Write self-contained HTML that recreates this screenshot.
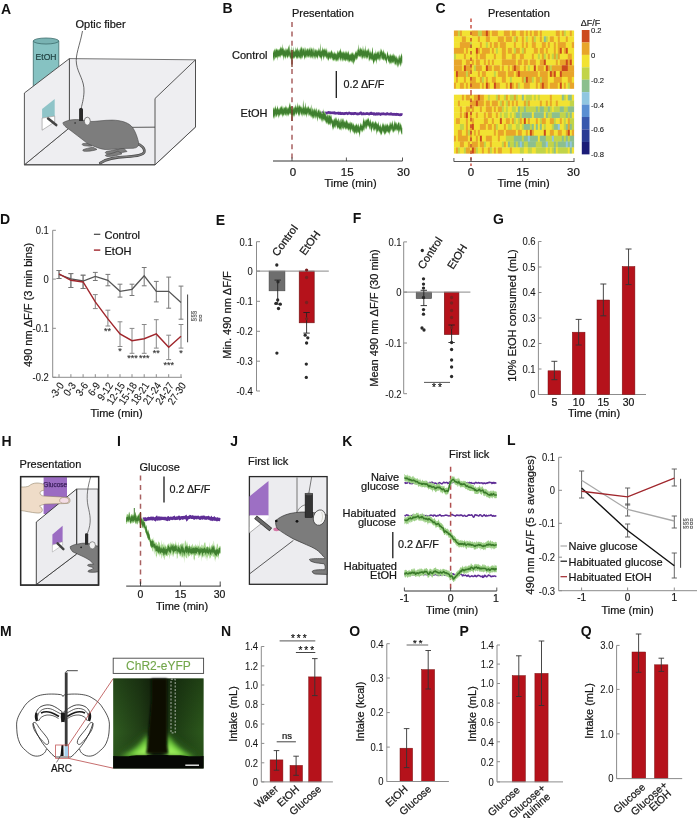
<!DOCTYPE html>
<html><head><meta charset="utf-8"><style>
html,body{margin:0;padding:0;background:#fff;width:697px;height:818px;overflow:hidden}
svg{display:block;font-family:"Liberation Sans",sans-serif;filter:blur(0.3px)}
</style></head><body>
<svg width="697" height="818" viewBox="0 0 697 818">
<rect width="697" height="818" fill="#fff"/>
<text x="1" y="13.5" font-size="14" text-anchor="start" font-weight="bold" fill="#111">A</text>
<text x="75.5" y="27.5" font-size="11" text-anchor="start" font-weight="normal" fill="#161616" stroke="#161616" stroke-width="0.22">Optic fiber</text>
<path d="M33.3,41 L33.3,95 L58.8,95 L58.8,41 Z" fill="#86c2c2" stroke="#3d6d6d" stroke-width="0.8"/>
<ellipse cx="46" cy="41" rx="12.75" ry="3" fill="#79b3b3" stroke="#3d6d6d" stroke-width="0.8"/>
<text x="0" y="0" font-size="9.5" text-anchor="middle" font-weight="normal" fill="#1e3f3f" stroke="#1e3f3f" stroke-width="0.22" transform="translate(46 59.5) scale(0.9 1)">EtOH</text>
<path d="M69.4,58.6 L195.5,59.8 L195.5,127 L69.4,127.8 Z" fill="#eeeef1" stroke="#555" stroke-width="0.8"/>
<path d="M24.4,164.8 L155,164.8 L195.5,127 L69.4,127.8 Z" fill="#eeeef1" stroke="#555" stroke-width="0.8"/>
<path d="M24.4,93 L69.4,58.6 L69.4,127.8 L24.4,164.8 Z" fill="#eeeef1" stroke="#444" stroke-width="0.9"/>
<path d="M42.1,109.1 L54.7,99 L54.7,116.1 L42.1,118.1 Z" fill="#8fc4c8"/>
<path d="M42.1,118.1 L54.7,116.1 L54.7,122 L42.1,130.2 Z" fill="#fff" stroke="#777" stroke-width="0.5"/>
<line x1="48.1" y1="118.6" x2="56.2" y2="125.1" stroke="#444" stroke-width="2.6" stroke-linecap="round"/>
<path d="M82.5,31 C80,45 75,55 76.5,64 C78,74 84.5,80 84,92 C83.6,100 82,104 81.3,108" fill="none" stroke="#444" stroke-width="0.8"/>
<path d="M136,143.5 C142,145 145.2,148.5 144.2,152.3 C143,155.3 136,156.3 127,156.7 C117,157.1 108,157.8 100.2,163.1" fill="none" stroke="#4a4a4a" stroke-width="2.6" stroke-linecap="round"/>
<path d="M136,143.5 C142,145 145.2,148.5 144.2,152.3 C143,155.3 136,156.3 127,156.7 C117,157.1 108,157.8 100.2,163.1" fill="none" stroke="#7d7d7d" stroke-width="1.3" stroke-linecap="round"/>
<path d="M123,147.5 C118,149.5 112,150.5 107,151.3 C104.5,152 105,153.8 108,153.8 C114,153.6 121,153 127,151.5 Z" fill="#7d7d7d" stroke="#4a4a4a" stroke-width="0.6"/>
<path d="M118,151 C114,153 110,154 106.5,154.6 C104.5,155.3 105.5,156.6 108,156.5 C113,156.3 118,155.5 122,153.8 Z" fill="#7d7d7d" stroke="#4a4a4a" stroke-width="0.6"/>
<path d="M90.5,143.8 C87,143.4 84,143.2 82.6,143.7 C81.6,144.6 82.6,145.6 85,145.8 C88,146.1 90.5,146.3 92,146 Z" fill="#7d7d7d" stroke="#4a4a4a" stroke-width="0.6"/>
<path d="M93,147.2 C89,147.8 85,148.8 83,149.8 C82.2,150.9 84,151.6 87,151.3 C91,151 94.5,150.5 97,149.4 Z" fill="#7d7d7d" stroke="#4a4a4a" stroke-width="0.6"/>
<path d="M62.9,122.7 C66,121 69,120 72,119.8 C78,119 84,120 89,121.5 C95,121.8 104,120 112.4,120.1 C120,120.3 127,122 131,125.8 C134.5,129 137,136 138.5,142 C139.5,146 137,148 133,148.3 L122,148.5 C118,149 110,149.5 105,149.5 C100,149 96,147 92,145.5 C89,144.5 86.5,143 85,141.5 C80,137.5 75,134 70,130 C66,127.5 63,125 62.9,122.7 Z" fill="#7d7d7d" stroke="#4a4a4a" stroke-width="0.6"/>
<ellipse cx="87.3" cy="121.2" rx="3" ry="4" fill="#f4f4f4" stroke="#555" stroke-width="0.7"/>
<path d="M79.1,121 L79.1,109.5 C79.1,107.5 83,107.5 83,109.5 L83,121 Z" fill="#2a2a2a"/>
<circle cx="75.1" cy="123" r="0.8" fill="#222"/>
<path d="M155,98.5 L195.5,59.8 L195.5,127 L155,164.8 Z" fill="#eeeef1" stroke="#444" stroke-width="0.9"/>
<line x1="24.4" y1="164.8" x2="155" y2="164.8" stroke="#444" stroke-width="1"/>
<text x="222.5" y="13" font-size="14" text-anchor="start" font-weight="bold" fill="#111">B</text>
<text x="292" y="17" font-size="11" text-anchor="start" font-weight="normal" fill="#161616" stroke="#161616" stroke-width="0.22">Presentation</text>
<text x="267.5" y="59" font-size="11" text-anchor="end" font-weight="normal" fill="#161616" stroke="#161616" stroke-width="0.22">Control</text>
<text x="267.5" y="116.5" font-size="11" text-anchor="end" font-weight="normal" fill="#161616" stroke="#161616" stroke-width="0.22">EtOH</text>
<line x1="292" y1="22" x2="292" y2="160" stroke="#a86060" stroke-width="1.5" stroke-dasharray="5,4.4"/>
<path d="M273.0,49.7 L273.4,50.5 L273.7,52.1 L274.1,51.0 L274.4,48.2 L274.8,49.4 L275.1,47.5 L275.5,50.7 L275.8,49.3 L276.2,48.9 L276.5,47.7 L276.9,48.6 L277.2,49.2 L277.6,49.2 L277.9,48.6 L278.3,49.6 L278.6,49.3 L279.0,49.4 L279.3,47.8 L279.7,49.5 L280.0,48.4 L280.4,45.5 L280.7,47.0 L281.1,48.9 L281.4,47.0 L281.8,46.7 L282.1,47.6 L282.5,48.1 L282.8,42.9 L283.2,48.8 L283.5,46.9 L283.9,49.8 L284.2,48.6 L284.6,49.2 L284.9,50.4 L285.3,46.9 L285.6,49.7 L286.0,50.6 L286.3,49.1 L286.7,47.7 L287.0,49.3 L287.4,47.9 L287.7,48.3 L288.1,49.7 L288.4,45.4 L288.8,46.7 L289.1,43.4 L289.5,47.5 L289.8,51.1 L290.2,48.4 L290.5,51.0 L290.9,51.7 L291.2,51.8 L291.6,49.2 L291.9,44.6 L292.3,50.9 L292.6,50.6 L293.0,51.7 L293.3,45.8 L293.7,49.8 L294.0,50.2 L294.4,50.5 L294.7,51.1 L295.1,50.1 L295.4,50.3 L295.8,46.0 L296.1,49.2 L296.5,49.4 L296.8,48.0 L297.2,47.7 L297.5,46.3 L297.9,50.6 L298.2,49.5 L298.6,49.1 L298.9,50.2 L299.3,51.5 L299.6,48.8 L300.0,48.2 L300.3,49.4 L300.7,47.4 L301.0,46.1 L301.4,48.0 L301.7,45.4 L302.1,48.4 L302.4,50.6 L302.8,46.6 L303.1,48.5 L303.5,48.1 L303.8,47.3 L304.2,48.7 L304.5,51.3 L304.9,46.4 L305.2,47.1 L305.6,49.0 L305.9,50.4 L306.3,49.8 L306.6,48.1 L307.0,49.8 L307.3,47.8 L307.7,47.9 L308.0,48.2 L308.4,48.2 L308.7,50.2 L309.1,48.9 L309.4,48.4 L309.8,47.3 L310.1,46.2 L310.5,49.1 L310.8,50.6 L311.2,47.7 L311.5,47.2 L311.9,47.7 L312.2,51.3 L312.6,47.2 L312.9,48.8 L313.3,46.2 L313.6,50.1 L314.0,52.1 L314.3,51.0 L314.7,48.6 L315.0,48.0 L315.4,49.5 L315.7,49.2 L316.1,49.5 L316.4,48.5 L316.8,50.5 L317.1,50.3 L317.5,50.2 L317.8,49.3 L318.2,50.1 L318.5,49.0 L318.9,46.9 L319.2,48.9 L319.6,50.2 L319.9,48.0 L320.3,42.0 L320.6,50.6 L321.0,50.4 L321.3,50.3 L321.7,49.8 L322.0,49.8 L322.4,48.6 L322.7,46.0 L323.1,48.9 L323.4,48.3 L323.8,49.6 L324.1,48.8 L324.5,49.3 L324.8,47.4 L325.2,48.1 L325.5,49.4 L325.9,49.8 L326.2,50.5 L326.6,48.9 L326.9,47.0 L327.3,51.2 L327.6,52.3 L328.0,52.4 L328.3,52.3 L328.7,51.1 L329.0,50.6 L329.4,51.6 L329.7,51.7 L330.1,52.2 L330.4,51.2 L330.8,51.6 L331.1,49.7 L331.5,50.6 L331.8,49.5 L332.2,51.4 L332.5,51.5 L332.9,52.7 L333.2,53.4 L333.6,52.6 L333.9,51.7 L334.3,50.9 L334.6,52.9 L335.0,52.3 L335.3,53.1 L335.7,52.8 L336.0,52.4 L336.4,54.3 L336.7,52.6 L337.1,53.2 L337.4,51.2 L337.8,49.7 L338.1,50.5 L338.5,51.7 L338.8,52.1 L339.2,51.4 L339.5,50.0 L339.9,50.1 L340.2,49.5 L340.6,47.5 L340.9,49.5 L341.3,51.4 L341.6,51.3 L342.0,52.3 L342.3,51.9 L342.7,50.8 L343.0,52.7 L343.4,50.5 L343.7,50.5 L344.1,52.9 L344.4,51.2 L344.8,51.8 L345.1,53.2 L345.5,49.9 L345.8,52.3 L346.2,50.1 L346.5,52.5 L346.9,51.6 L347.2,51.7 L347.6,53.3 L347.9,51.1 L348.3,50.3 L348.6,51.3 L349.0,53.3 L349.3,54.2 L349.7,53.6 L350.0,53.7 L350.4,52.9 L350.7,54.2 L351.1,52.6 L351.4,52.1 L351.8,53.8 L352.1,52.4 L352.5,52.9 L352.8,51.4 L353.2,52.2 L353.5,54.0 L353.9,53.6 L354.2,54.5 L354.6,53.2 L354.9,53.0 L355.3,50.2 L355.6,51.4 L356.0,52.5 L356.3,49.5 L356.7,51.8 L357.0,51.8 L357.4,50.7 L357.7,48.4 L358.1,48.7 L358.4,48.9 L358.8,43.0 L359.1,48.8 L359.5,50.1 L359.8,47.6 L360.2,47.7 L360.5,46.4 L360.9,49.0 L361.2,48.4 L361.6,48.0 L361.9,48.8 L362.3,50.2 L362.6,49.6 L363.0,44.5 L363.3,49.2 L363.7,49.8 L364.0,47.6 L364.4,49.2 L364.7,50.2 L365.1,50.3 L365.4,44.0 L365.8,49.6 L366.1,49.3 L366.5,50.2 L366.8,50.4 L367.2,49.3 L367.5,50.2 L367.9,48.6 L368.2,47.4 L368.6,49.0 L368.9,50.0 L369.3,51.7 L369.6,52.3 L370.0,47.7 L370.3,51.8 L370.7,51.1 L371.0,52.5 L371.4,52.5 L371.7,51.2 L372.1,51.1 L372.4,47.3 L372.8,46.9 L373.1,52.0 L373.5,54.6 L373.8,53.6 L374.2,52.9 L374.5,52.4 L374.9,52.2 L375.2,52.8 L375.6,52.6 L375.9,49.1 L376.3,53.0 L376.6,52.7 L377.0,52.4 L377.3,50.5 L377.7,51.6 L378.0,52.5 L378.4,50.2 L378.7,50.7 L379.1,53.9 L379.4,53.7 L379.8,50.0 L380.1,50.9 L380.5,51.3 L380.8,47.9 L381.2,48.7 L381.5,49.1 L381.9,50.4 L382.2,51.2 L382.6,51.7 L382.9,50.4 L383.3,52.0 L383.6,48.6 L384.0,50.4 L384.3,52.3 L384.7,52.6 L385.0,53.8 L385.4,53.2 L385.7,52.7 L386.1,53.1 L386.4,55.7 L386.8,56.5 L387.1,52.1 L387.5,51.0 L387.8,51.6 L388.2,54.2 L388.5,54.9 L388.9,54.8 L389.2,56.0 L389.6,54.6 L389.9,54.1 L390.3,52.9 L390.6,54.9 L391.0,54.2 L391.3,55.6 L391.7,54.6 L392.0,55.1 L392.4,54.4 L392.7,54.8 L393.1,52.4 L393.4,53.9 L393.8,55.5 L394.1,53.7 L394.5,55.0 L394.8,55.5 L395.2,54.8 L395.5,56.7 L395.9,56.2 L396.2,57.9 L396.6,55.4 L396.9,55.2 L397.3,57.5 L397.6,58.0 L398.0,58.6 L398.3,58.8 L398.7,56.2 L399.0,54.4 L399.4,54.2 L399.7,57.3 L400.1,56.6 L400.4,57.4 L400.8,54.9 L401.1,54.6 L401.5,53.6 L401.8,52.6 L402.2,55.8 L402.2,63.9 L401.8,64.1 L401.5,62.0 L401.1,66.5 L400.8,64.1 L400.4,67.0 L400.1,67.0 L399.7,64.6 L399.4,64.6 L399.0,62.8 L398.7,65.5 L398.3,66.8 L398.0,68.3 L397.6,67.1 L397.3,64.9 L396.9,62.6 L396.6,64.2 L396.2,66.4 L395.9,65.2 L395.5,65.4 L395.2,64.5 L394.8,65.7 L394.5,63.2 L394.1,61.6 L393.8,63.6 L393.4,63.8 L393.1,62.0 L392.7,64.1 L392.4,63.1 L392.0,62.7 L391.7,62.4 L391.3,64.5 L391.0,64.5 L390.6,64.0 L390.3,63.7 L389.9,62.2 L389.6,63.2 L389.2,65.2 L388.9,62.2 L388.5,62.8 L388.2,62.1 L387.8,60.2 L387.5,59.0 L387.1,60.4 L386.8,63.9 L386.4,64.5 L386.1,60.8 L385.7,61.6 L385.4,60.4 L385.0,62.1 L384.7,59.8 L384.3,59.9 L384.0,59.1 L383.6,61.1 L383.3,61.1 L382.9,59.2 L382.6,60.1 L382.2,60.0 L381.9,59.9 L381.5,58.9 L381.2,56.3 L380.8,57.5 L380.5,59.2 L380.1,61.2 L379.8,58.4 L379.4,60.8 L379.1,62.3 L378.7,58.8 L378.4,60.7 L378.0,59.4 L377.7,59.8 L377.3,60.3 L377.0,60.3 L376.6,61.9 L376.3,65.0 L375.9,60.4 L375.6,61.2 L375.2,60.9 L374.9,63.2 L374.5,61.3 L374.2,61.4 L373.8,65.3 L373.5,63.8 L373.1,63.5 L372.8,60.9 L372.4,60.7 L372.1,60.1 L371.7,59.7 L371.4,61.3 L371.0,60.3 L370.7,60.4 L370.3,59.3 L370.0,59.9 L369.6,62.1 L369.3,59.7 L368.9,61.9 L368.6,56.5 L368.2,56.4 L367.9,59.5 L367.5,57.9 L367.2,58.7 L366.8,60.1 L366.5,58.0 L366.1,58.3 L365.8,59.1 L365.4,57.4 L365.1,56.8 L364.7,57.2 L364.4,59.5 L364.0,59.1 L363.7,58.6 L363.3,56.6 L363.0,57.6 L362.6,58.6 L362.3,60.8 L361.9,56.7 L361.6,56.1 L361.2,60.2 L360.9,56.2 L360.5,58.3 L360.2,57.1 L359.8,57.1 L359.5,57.0 L359.1,57.4 L358.8,56.5 L358.4,56.4 L358.1,57.4 L357.7,57.1 L357.4,59.6 L357.0,59.5 L356.7,60.0 L356.3,59.4 L356.0,61.2 L355.6,59.8 L355.3,58.4 L354.9,61.4 L354.6,61.9 L354.2,62.6 L353.9,65.0 L353.5,64.5 L353.2,62.0 L352.8,60.8 L352.5,63.2 L352.1,63.6 L351.8,61.6 L351.4,62.9 L351.1,61.1 L350.7,62.3 L350.4,61.1 L350.0,61.8 L349.7,62.5 L349.3,62.0 L349.0,63.5 L348.6,61.9 L348.3,60.8 L347.9,60.4 L347.6,62.2 L347.2,60.7 L346.9,60.3 L346.5,61.0 L346.2,60.8 L345.8,60.5 L345.5,62.1 L345.1,61.6 L344.8,60.8 L344.4,60.6 L344.1,61.0 L343.7,61.2 L343.4,58.8 L343.0,62.2 L342.7,59.1 L342.3,61.7 L342.0,62.1 L341.6,59.5 L341.3,58.6 L340.9,59.9 L340.6,62.0 L340.2,60.8 L339.9,57.9 L339.5,58.4 L339.2,60.2 L338.8,62.2 L338.5,59.2 L338.1,59.9 L337.8,62.2 L337.4,60.4 L337.1,60.7 L336.7,60.9 L336.4,62.0 L336.0,61.7 L335.7,61.8 L335.3,59.7 L335.0,60.2 L334.6,61.5 L334.3,60.0 L333.9,60.8 L333.6,61.4 L333.2,60.7 L332.9,61.5 L332.5,59.8 L332.2,58.9 L331.8,59.7 L331.5,57.6 L331.1,58.9 L330.8,60.3 L330.4,58.9 L330.1,58.8 L329.7,58.9 L329.4,58.5 L329.0,59.4 L328.7,60.5 L328.3,61.5 L328.0,60.8 L327.6,59.9 L327.3,58.3 L326.9,57.4 L326.6,58.9 L326.2,59.3 L325.9,58.0 L325.5,57.1 L325.2,57.0 L324.8,56.8 L324.5,57.2 L324.1,58.7 L323.8,58.4 L323.4,61.1 L323.1,56.7 L322.7,56.6 L322.4,57.0 L322.0,58.1 L321.7,62.6 L321.3,58.6 L321.0,58.8 L320.6,57.9 L320.3,59.3 L319.9,57.5 L319.6,57.4 L319.2,58.0 L318.9,55.9 L318.5,56.1 L318.2,57.0 L317.8,59.2 L317.5,59.7 L317.1,57.6 L316.8,58.3 L316.4,57.1 L316.1,58.3 L315.7,60.3 L315.4,56.7 L315.0,57.5 L314.7,57.1 L314.3,58.6 L314.0,60.5 L313.6,56.7 L313.3,56.9 L312.9,56.7 L312.6,57.9 L312.2,59.4 L311.9,58.7 L311.5,57.3 L311.2,57.6 L310.8,57.7 L310.5,59.5 L310.1,56.5 L309.8,56.0 L309.4,58.6 L309.1,56.8 L308.7,57.8 L308.4,57.7 L308.0,57.7 L307.7,57.9 L307.3,56.8 L307.0,56.5 L306.6,56.5 L306.3,58.3 L305.9,59.1 L305.6,57.5 L305.2,57.9 L304.9,58.0 L304.5,60.6 L304.2,58.7 L303.8,56.6 L303.5,55.9 L303.1,56.3 L302.8,57.1 L302.4,59.1 L302.1,58.3 L301.7,60.0 L301.4,57.9 L301.0,56.8 L300.7,59.2 L300.3,59.5 L300.0,59.6 L299.6,57.6 L299.3,58.3 L298.9,59.2 L298.6,57.3 L298.2,57.5 L297.9,59.3 L297.5,58.0 L297.2,59.6 L296.8,58.2 L296.5,59.8 L296.1,57.9 L295.8,57.1 L295.4,57.6 L295.1,57.2 L294.7,58.6 L294.4,59.1 L294.0,57.7 L293.7,59.2 L293.3,58.8 L293.0,59.3 L292.6,59.1 L292.3,59.4 L291.9,60.1 L291.6,58.6 L291.2,62.0 L290.9,59.4 L290.5,58.4 L290.2,59.2 L289.8,58.0 L289.5,57.1 L289.1,55.5 L288.8,57.4 L288.4,56.4 L288.1,57.9 L287.7,58.2 L287.4,59.1 L287.0,57.8 L286.7,56.2 L286.3,56.9 L286.0,58.4 L285.6,59.8 L285.3,57.4 L284.9,59.0 L284.6,56.6 L284.2,57.6 L283.9,57.2 L283.5,61.5 L283.2,57.2 L282.8,55.5 L282.5,57.2 L282.1,55.6 L281.8,56.0 L281.4,56.1 L281.1,56.2 L280.7,58.9 L280.4,56.0 L280.0,57.2 L279.7,57.8 L279.3,56.8 L279.0,57.2 L278.6,57.6 L278.3,57.7 L277.9,56.7 L277.6,61.5 L277.2,57.3 L276.9,58.1 L276.5,58.2 L276.2,57.6 L275.8,59.1 L275.5,58.5 L275.1,58.1 L274.8,56.8 L274.4,61.0 L274.1,60.3 L273.7,61.9 L273.4,58.6 L273.0,58.7 Z" fill="#9fd08a" stroke="none"/>
<path d="M273.0,50.9 L273.4,51.7 L273.7,53.3 L274.1,52.2 L274.4,49.4 L274.8,50.6 L275.1,48.7 L275.5,51.9 L275.8,50.5 L276.2,50.1 L276.5,48.9 L276.9,49.8 L277.2,50.4 L277.6,50.4 L277.9,49.8 L278.3,50.8 L278.6,50.5 L279.0,50.6 L279.3,49.0 L279.7,50.7 L280.0,49.6 L280.4,46.7 L280.7,48.2 L281.1,50.1 L281.4,48.2 L281.8,47.9 L282.1,48.8 L282.5,49.3 L282.8,44.1 L283.2,50.0 L283.5,48.1 L283.9,51.0 L284.2,49.8 L284.6,50.4 L284.9,51.6 L285.3,48.1 L285.6,50.9 L286.0,51.8 L286.3,50.3 L286.7,48.9 L287.0,50.5 L287.4,49.1 L287.7,49.5 L288.1,50.9 L288.4,46.6 L288.8,47.9 L289.1,44.6 L289.5,48.7 L289.8,52.3 L290.2,49.6 L290.5,52.2 L290.9,52.9 L291.2,53.0 L291.6,50.4 L291.9,45.8 L292.3,52.1 L292.6,51.8 L293.0,52.9 L293.3,47.0 L293.7,51.0 L294.0,51.4 L294.4,51.7 L294.7,52.3 L295.1,51.3 L295.4,51.5 L295.8,47.2 L296.1,50.4 L296.5,50.6 L296.8,49.2 L297.2,48.9 L297.5,47.5 L297.9,51.8 L298.2,50.7 L298.6,50.3 L298.9,51.4 L299.3,52.7 L299.6,50.0 L300.0,49.4 L300.3,50.6 L300.7,48.6 L301.0,47.3 L301.4,49.2 L301.7,46.6 L302.1,49.6 L302.4,51.8 L302.8,47.8 L303.1,49.7 L303.5,49.3 L303.8,48.5 L304.2,49.9 L304.5,52.5 L304.9,47.6 L305.2,48.3 L305.6,50.2 L305.9,51.6 L306.3,51.0 L306.6,49.3 L307.0,51.0 L307.3,49.0 L307.7,49.1 L308.0,49.4 L308.4,49.4 L308.7,51.4 L309.1,50.1 L309.4,49.6 L309.8,48.5 L310.1,47.4 L310.5,50.3 L310.8,51.8 L311.2,48.9 L311.5,48.4 L311.9,48.9 L312.2,52.5 L312.6,48.4 L312.9,50.0 L313.3,47.4 L313.6,51.3 L314.0,53.3 L314.3,52.2 L314.7,49.8 L315.0,49.2 L315.4,50.7 L315.7,50.4 L316.1,50.7 L316.4,49.7 L316.8,51.7 L317.1,51.5 L317.5,51.4 L317.8,50.5 L318.2,51.3 L318.5,50.2 L318.9,48.1 L319.2,50.1 L319.6,51.4 L319.9,49.2 L320.3,43.2 L320.6,51.8 L321.0,51.6 L321.3,51.5 L321.7,51.0 L322.0,51.0 L322.4,49.8 L322.7,47.2 L323.1,50.1 L323.4,49.5 L323.8,50.8 L324.1,50.0 L324.5,50.5 L324.8,48.6 L325.2,49.3 L325.5,50.6 L325.9,51.0 L326.2,51.7 L326.6,50.1 L326.9,48.2 L327.3,52.4 L327.6,53.5 L328.0,53.6 L328.3,53.5 L328.7,52.3 L329.0,51.8 L329.4,52.8 L329.7,52.9 L330.1,53.4 L330.4,52.4 L330.8,52.8 L331.1,50.9 L331.5,51.8 L331.8,50.7 L332.2,52.6 L332.5,52.7 L332.9,53.9 L333.2,54.6 L333.6,53.8 L333.9,52.9 L334.3,52.1 L334.6,54.1 L335.0,53.5 L335.3,54.3 L335.7,54.0 L336.0,53.6 L336.4,55.5 L336.7,53.8 L337.1,54.4 L337.4,52.4 L337.8,50.9 L338.1,51.7 L338.5,52.9 L338.8,53.3 L339.2,52.6 L339.5,51.2 L339.9,51.3 L340.2,50.7 L340.6,48.7 L340.9,50.7 L341.3,52.6 L341.6,52.5 L342.0,53.5 L342.3,53.1 L342.7,52.0 L343.0,53.9 L343.4,51.7 L343.7,51.7 L344.1,54.1 L344.4,52.4 L344.8,53.0 L345.1,54.4 L345.5,51.1 L345.8,53.5 L346.2,51.3 L346.5,53.7 L346.9,52.8 L347.2,52.9 L347.6,54.5 L347.9,52.3 L348.3,51.5 L348.6,52.5 L349.0,54.5 L349.3,55.4 L349.7,54.8 L350.0,54.9 L350.4,54.1 L350.7,55.4 L351.1,53.8 L351.4,53.3 L351.8,55.0 L352.1,53.6 L352.5,54.1 L352.8,52.6 L353.2,53.4 L353.5,55.2 L353.9,54.8 L354.2,55.7 L354.6,54.4 L354.9,54.2 L355.3,51.4 L355.6,52.6 L356.0,53.7 L356.3,50.7 L356.7,53.0 L357.0,53.0 L357.4,51.9 L357.7,49.6 L358.1,49.9 L358.4,50.1 L358.8,44.2 L359.1,50.0 L359.5,51.3 L359.8,48.8 L360.2,48.9 L360.5,47.6 L360.9,50.2 L361.2,49.6 L361.6,49.2 L361.9,50.0 L362.3,51.4 L362.6,50.8 L363.0,45.7 L363.3,50.4 L363.7,51.0 L364.0,48.8 L364.4,50.4 L364.7,51.4 L365.1,51.5 L365.4,45.2 L365.8,50.8 L366.1,50.5 L366.5,51.4 L366.8,51.6 L367.2,50.5 L367.5,51.4 L367.9,49.8 L368.2,48.6 L368.6,50.2 L368.9,51.2 L369.3,52.9 L369.6,53.5 L370.0,48.9 L370.3,53.0 L370.7,52.3 L371.0,53.7 L371.4,53.7 L371.7,52.4 L372.1,52.3 L372.4,48.5 L372.8,48.1 L373.1,53.2 L373.5,55.8 L373.8,54.8 L374.2,54.1 L374.5,53.6 L374.9,53.4 L375.2,54.0 L375.6,53.8 L375.9,50.3 L376.3,54.2 L376.6,53.9 L377.0,53.6 L377.3,51.7 L377.7,52.8 L378.0,53.7 L378.4,51.4 L378.7,51.9 L379.1,55.1 L379.4,54.9 L379.8,51.2 L380.1,52.1 L380.5,52.5 L380.8,49.1 L381.2,49.9 L381.5,50.3 L381.9,51.6 L382.2,52.4 L382.6,52.9 L382.9,51.6 L383.3,53.2 L383.6,49.8 L384.0,51.6 L384.3,53.5 L384.7,53.8 L385.0,55.0 L385.4,54.4 L385.7,53.9 L386.1,54.3 L386.4,56.9 L386.8,57.7 L387.1,53.3 L387.5,52.2 L387.8,52.8 L388.2,55.4 L388.5,56.1 L388.9,56.0 L389.2,57.2 L389.6,55.8 L389.9,55.3 L390.3,54.1 L390.6,56.1 L391.0,55.4 L391.3,56.8 L391.7,55.8 L392.0,56.3 L392.4,55.6 L392.7,56.0 L393.1,53.6 L393.4,55.1 L393.8,56.7 L394.1,54.9 L394.5,56.2 L394.8,56.7 L395.2,56.0 L395.5,57.9 L395.9,57.4 L396.2,59.1 L396.6,56.6 L396.9,56.4 L397.3,58.7 L397.6,59.2 L398.0,59.8 L398.3,60.0 L398.7,57.4 L399.0,55.6 L399.4,55.4 L399.7,58.5 L400.1,57.8 L400.4,58.6 L400.8,56.1 L401.1,55.8 L401.5,54.8 L401.8,53.8 L402.2,57.0 L402.2,62.7 L401.8,62.9 L401.5,60.8 L401.1,65.3 L400.8,62.9 L400.4,65.8 L400.1,65.8 L399.7,63.4 L399.4,63.4 L399.0,61.6 L398.7,64.3 L398.3,65.6 L398.0,67.1 L397.6,65.9 L397.3,63.7 L396.9,61.4 L396.6,63.0 L396.2,65.2 L395.9,64.0 L395.5,64.2 L395.2,63.3 L394.8,64.5 L394.5,62.0 L394.1,60.4 L393.8,62.4 L393.4,62.6 L393.1,60.8 L392.7,62.9 L392.4,61.9 L392.0,61.5 L391.7,61.2 L391.3,63.3 L391.0,63.3 L390.6,62.8 L390.3,62.5 L389.9,61.0 L389.6,62.0 L389.2,64.0 L388.9,61.0 L388.5,61.6 L388.2,60.9 L387.8,59.0 L387.5,57.8 L387.1,59.2 L386.8,62.7 L386.4,63.3 L386.1,59.6 L385.7,60.4 L385.4,59.2 L385.0,60.9 L384.7,58.6 L384.3,58.7 L384.0,57.9 L383.6,59.9 L383.3,59.9 L382.9,58.0 L382.6,58.9 L382.2,58.8 L381.9,58.7 L381.5,57.7 L381.2,55.1 L380.8,56.3 L380.5,58.0 L380.1,60.0 L379.8,57.2 L379.4,59.6 L379.1,61.1 L378.7,57.6 L378.4,59.5 L378.0,58.2 L377.7,58.6 L377.3,59.1 L377.0,59.1 L376.6,60.7 L376.3,63.8 L375.9,59.2 L375.6,60.0 L375.2,59.7 L374.9,62.0 L374.5,60.1 L374.2,60.2 L373.8,64.1 L373.5,62.6 L373.1,62.3 L372.8,59.7 L372.4,59.5 L372.1,58.9 L371.7,58.5 L371.4,60.1 L371.0,59.1 L370.7,59.2 L370.3,58.1 L370.0,58.7 L369.6,60.9 L369.3,58.5 L368.9,60.7 L368.6,55.3 L368.2,55.2 L367.9,58.3 L367.5,56.7 L367.2,57.5 L366.8,58.9 L366.5,56.8 L366.1,57.1 L365.8,57.9 L365.4,56.2 L365.1,55.6 L364.7,56.0 L364.4,58.3 L364.0,57.9 L363.7,57.4 L363.3,55.4 L363.0,56.4 L362.6,57.4 L362.3,59.6 L361.9,55.5 L361.6,54.9 L361.2,59.0 L360.9,55.0 L360.5,57.1 L360.2,55.9 L359.8,55.9 L359.5,55.8 L359.1,56.2 L358.8,55.3 L358.4,55.2 L358.1,56.2 L357.7,55.9 L357.4,58.4 L357.0,58.3 L356.7,58.8 L356.3,58.2 L356.0,60.0 L355.6,58.6 L355.3,57.2 L354.9,60.2 L354.6,60.7 L354.2,61.4 L353.9,63.8 L353.5,63.3 L353.2,60.8 L352.8,59.6 L352.5,62.0 L352.1,62.4 L351.8,60.4 L351.4,61.7 L351.1,59.9 L350.7,61.1 L350.4,59.9 L350.0,60.6 L349.7,61.3 L349.3,60.8 L349.0,62.3 L348.6,60.7 L348.3,59.6 L347.9,59.2 L347.6,61.0 L347.2,59.5 L346.9,59.1 L346.5,59.8 L346.2,59.6 L345.8,59.3 L345.5,60.9 L345.1,60.4 L344.8,59.6 L344.4,59.4 L344.1,59.8 L343.7,60.0 L343.4,57.6 L343.0,61.0 L342.7,57.9 L342.3,60.5 L342.0,60.9 L341.6,58.3 L341.3,57.4 L340.9,58.7 L340.6,60.8 L340.2,59.6 L339.9,56.7 L339.5,57.2 L339.2,59.0 L338.8,61.0 L338.5,58.0 L338.1,58.7 L337.8,61.0 L337.4,59.2 L337.1,59.5 L336.7,59.7 L336.4,60.8 L336.0,60.5 L335.7,60.6 L335.3,58.5 L335.0,59.0 L334.6,60.3 L334.3,58.8 L333.9,59.6 L333.6,60.2 L333.2,59.5 L332.9,60.3 L332.5,58.6 L332.2,57.7 L331.8,58.5 L331.5,56.4 L331.1,57.7 L330.8,59.1 L330.4,57.7 L330.1,57.6 L329.7,57.7 L329.4,57.3 L329.0,58.2 L328.7,59.3 L328.3,60.3 L328.0,59.6 L327.6,58.7 L327.3,57.1 L326.9,56.2 L326.6,57.7 L326.2,58.1 L325.9,56.8 L325.5,55.9 L325.2,55.8 L324.8,55.6 L324.5,56.0 L324.1,57.5 L323.8,57.2 L323.4,59.9 L323.1,55.5 L322.7,55.4 L322.4,55.8 L322.0,56.9 L321.7,61.4 L321.3,57.4 L321.0,57.6 L320.6,56.7 L320.3,58.1 L319.9,56.3 L319.6,56.2 L319.2,56.8 L318.9,54.7 L318.5,54.9 L318.2,55.8 L317.8,58.0 L317.5,58.5 L317.1,56.4 L316.8,57.1 L316.4,55.9 L316.1,57.1 L315.7,59.1 L315.4,55.5 L315.0,56.3 L314.7,55.9 L314.3,57.4 L314.0,59.3 L313.6,55.5 L313.3,55.7 L312.9,55.5 L312.6,56.7 L312.2,58.2 L311.9,57.5 L311.5,56.1 L311.2,56.4 L310.8,56.5 L310.5,58.3 L310.1,55.3 L309.8,54.8 L309.4,57.4 L309.1,55.6 L308.7,56.6 L308.4,56.5 L308.0,56.5 L307.7,56.7 L307.3,55.6 L307.0,55.3 L306.6,55.3 L306.3,57.1 L305.9,57.9 L305.6,56.3 L305.2,56.7 L304.9,56.8 L304.5,59.4 L304.2,57.5 L303.8,55.4 L303.5,54.7 L303.1,55.1 L302.8,55.9 L302.4,57.9 L302.1,57.1 L301.7,58.8 L301.4,56.7 L301.0,55.6 L300.7,58.0 L300.3,58.3 L300.0,58.4 L299.6,56.4 L299.3,57.1 L298.9,58.0 L298.6,56.1 L298.2,56.3 L297.9,58.1 L297.5,56.8 L297.2,58.4 L296.8,57.0 L296.5,58.6 L296.1,56.7 L295.8,55.9 L295.4,56.4 L295.1,56.0 L294.7,57.4 L294.4,57.9 L294.0,56.5 L293.7,58.0 L293.3,57.6 L293.0,58.1 L292.6,57.9 L292.3,58.2 L291.9,58.9 L291.6,57.4 L291.2,60.8 L290.9,58.2 L290.5,57.2 L290.2,58.0 L289.8,56.8 L289.5,55.9 L289.1,54.3 L288.8,56.2 L288.4,55.2 L288.1,56.7 L287.7,57.0 L287.4,57.9 L287.0,56.6 L286.7,55.0 L286.3,55.7 L286.0,57.2 L285.6,58.6 L285.3,56.2 L284.9,57.8 L284.6,55.4 L284.2,56.4 L283.9,56.0 L283.5,60.3 L283.2,56.0 L282.8,54.3 L282.5,56.0 L282.1,54.4 L281.8,54.8 L281.4,54.9 L281.1,55.0 L280.7,57.7 L280.4,54.8 L280.0,56.0 L279.7,56.6 L279.3,55.6 L279.0,56.0 L278.6,56.4 L278.3,56.5 L277.9,55.5 L277.6,60.3 L277.2,56.1 L276.9,56.9 L276.5,57.0 L276.2,56.4 L275.8,57.9 L275.5,57.3 L275.1,56.9 L274.8,55.6 L274.4,59.8 L274.1,59.1 L273.7,60.7 L273.4,57.4 L273.0,57.5 Z" fill="#3f7f2f" stroke="none"/>
<line x1="292" y1="50" x2="292" y2="67" stroke="#7a3a2a" stroke-width="1.3"/>
<path d="M321.2,113.0 L321.6,113.0 L322.0,112.9 L322.4,112.8 L322.8,112.6 L323.2,112.7 L323.6,113.0 L324.0,113.0 L324.4,113.1 L324.8,113.2 L325.2,113.0 L325.6,113.1 L326.0,113.1 L326.4,113.0 L326.8,113.1 L327.2,112.9 L327.6,112.9 L328.0,112.7 L328.4,112.4 L328.8,112.3 L329.2,112.4 L329.6,112.5 L330.0,112.7 L330.4,113.0 L330.8,113.0 L331.2,112.8 L331.6,112.7 L332.0,112.7 L332.4,112.8 L332.8,112.9 L333.2,112.9 L333.6,112.8 L334.0,112.7 L334.4,113.1 L334.8,113.0 L335.2,113.2 L335.6,113.4 L336.0,113.2 L336.4,113.3 L336.8,113.3 L337.2,113.2 L337.6,113.1 L338.0,113.2 L338.4,113.4 L338.8,113.1 L339.2,113.4 L339.6,113.4 L340.0,113.2 L340.4,113.7 L340.8,113.7 L341.2,113.5 L341.6,113.6 L342.0,113.4 L342.4,113.3 L342.8,113.6 L343.2,113.5 L343.6,113.6 L344.0,113.8 L344.4,113.6 L344.8,113.7 L345.2,113.5 L345.6,113.3 L346.0,113.2 L346.4,113.1 L346.8,113.2 L347.2,113.3 L347.6,113.7 L348.0,113.6 L348.4,113.5 L348.8,113.4 L349.2,113.0 L349.6,113.1 L350.0,113.2 L350.4,113.3 L350.8,113.7 L351.2,113.8 L351.6,113.7 L352.0,113.5 L352.4,113.6 L352.8,113.6 L353.2,113.7 L353.6,113.8 L354.0,113.5 L354.4,113.6 L354.8,113.4 L355.2,113.4 L355.6,113.4 L356.0,113.6 L356.4,113.8 L356.8,113.8 L357.2,114.0 L357.6,113.8 L358.0,113.9 L358.4,113.9 L358.8,113.9 L359.2,113.7 L359.6,113.6 L360.0,113.4 L360.4,113.0 L360.8,113.2 L361.2,113.0 L361.6,113.3 L362.0,113.9 L362.4,113.8 L362.8,113.9 L363.2,113.9 L363.6,113.6 L364.0,113.8 L364.4,113.8 L364.8,113.9 L365.2,113.9 L365.6,113.8 L366.0,113.8 L366.4,113.7 L366.8,113.5 L367.2,113.7 L367.6,113.6 L368.0,113.7 L368.4,113.9 L368.8,113.9 L369.2,114.0 L369.6,113.8 L370.0,113.5 L370.4,113.3 L370.8,113.5 L371.2,113.2 L371.6,113.6 L372.0,113.5 L372.4,113.6 L372.8,113.8 L373.2,113.8 L373.6,114.1 L374.0,113.7 L374.4,114.1 L374.8,114.2 L375.2,114.1 L375.6,114.3 L376.0,114.1 L376.4,113.8 L376.8,114.0 L377.2,113.9 L377.6,113.9 L378.0,114.0 L378.4,113.7 L378.8,113.6 L379.2,113.8 L379.6,113.9 L380.0,114.2 L380.4,114.4 L380.8,114.1 L381.2,114.1 L381.6,113.9 L382.0,113.9 L382.4,113.9 L382.8,113.9 L383.2,113.8 L383.6,113.7 L384.0,114.0 L384.4,114.0 L384.8,114.0 L385.2,114.2 L385.6,114.2 L386.0,114.1 L386.4,114.2 L386.8,114.0 L387.2,113.6 L387.6,113.9 L388.0,114.0 L388.4,114.1 L388.8,114.2 L389.2,114.2 L389.6,114.1 L390.0,114.1 L390.4,114.0 L390.8,113.8 L391.2,114.1 L391.6,114.0 L392.0,114.3 L392.4,114.4 L392.8,114.2 L393.2,114.2 L393.6,114.3 L394.0,114.2 L394.4,114.3 L394.8,114.4 L395.2,114.4 L395.6,114.6 L396.0,114.7 L396.4,114.6 L396.8,114.2 L397.2,114.3 L397.6,114.4 L398.0,114.4 L398.4,114.7 L398.8,114.7 L399.2,114.7 L399.6,114.9 L400.0,114.7 L400.4,114.8 L400.8,114.5 L401.2,114.5 L401.6,114.7 L402.0,114.6 L402.4,114.8" fill="none" stroke="#5f2e96" stroke-width="2.6"/>
<path d="M273.0,108.5 L273.4,108.3 L273.7,107.0 L274.1,106.4 L274.4,108.1 L274.8,108.9 L275.1,107.3 L275.5,104.6 L275.8,106.8 L276.2,108.4 L276.5,108.1 L276.9,108.2 L277.2,105.3 L277.6,105.7 L277.9,107.4 L278.3,108.1 L278.6,108.4 L279.0,109.1 L279.3,108.8 L279.7,106.9 L280.0,108.1 L280.4,106.3 L280.7,106.3 L281.1,106.9 L281.4,105.3 L281.8,106.0 L282.1,104.9 L282.5,107.9 L282.8,108.0 L283.2,105.8 L283.5,108.3 L283.9,108.3 L284.2,106.5 L284.6,107.2 L284.9,106.9 L285.3,107.4 L285.6,105.5 L286.0,105.3 L286.3,106.4 L286.7,106.8 L287.0,109.3 L287.4,106.7 L287.7,107.9 L288.1,106.3 L288.4,108.0 L288.8,106.5 L289.1,106.1 L289.5,101.6 L289.8,104.4 L290.2,102.8 L290.5,106.3 L290.9,105.2 L291.2,108.7 L291.6,107.5 L291.9,107.8 L292.3,109.0 L292.6,108.4 L293.0,105.9 L293.3,107.1 L293.7,107.8 L294.0,108.7 L294.4,105.5 L294.7,107.3 L295.1,106.5 L295.4,105.8 L295.8,103.3 L296.1,107.4 L296.5,106.3 L296.8,106.5 L297.2,101.5 L297.5,104.5 L297.9,106.8 L298.2,106.9 L298.6,105.5 L298.9,104.3 L299.3,104.3 L299.6,105.4 L300.0,105.6 L300.3,105.6 L300.7,105.7 L301.0,107.5 L301.4,106.9 L301.7,105.3 L302.1,108.0 L302.4,107.3 L302.8,106.9 L303.1,99.0 L303.5,103.5 L303.8,106.7 L304.2,106.7 L304.5,105.4 L304.9,108.2 L305.2,104.7 L305.6,101.4 L305.9,107.8 L306.3,107.2 L306.6,106.0 L307.0,108.3 L307.3,107.0 L307.7,106.2 L308.0,106.0 L308.4,105.2 L308.7,106.3 L309.1,108.0 L309.4,107.7 L309.8,107.5 L310.1,107.4 L310.5,108.6 L310.8,106.9 L311.2,103.5 L311.5,109.2 L311.9,110.8 L312.2,109.7 L312.6,107.1 L312.9,107.9 L313.3,108.7 L313.6,109.5 L314.0,110.8 L314.3,107.0 L314.7,108.4 L315.0,109.5 L315.4,110.2 L315.7,108.6 L316.1,108.3 L316.4,107.0 L316.8,110.9 L317.1,111.2 L317.5,111.9 L317.8,109.5 L318.2,109.7 L318.5,108.9 L318.9,108.8 L319.2,111.7 L319.6,108.1 L319.9,111.6 L320.3,110.5 L320.6,109.9 L321.0,111.7 L321.3,111.2 L321.7,112.7 L322.0,112.9 L322.4,113.0 L322.7,112.1 L323.1,108.1 L323.4,111.2 L323.8,110.1 L324.1,111.8 L324.5,112.8 L324.8,111.8 L325.2,112.3 L325.5,112.7 L325.9,114.3 L326.2,115.1 L326.6,115.3 L326.9,115.5 L327.3,113.2 L327.6,114.1 L328.0,116.5 L328.3,116.2 L328.7,113.9 L329.0,114.3 L329.4,114.6 L329.7,114.7 L330.1,114.2 L330.4,115.5 L330.8,115.9 L331.1,113.8 L331.5,116.3 L331.8,117.7 L332.2,119.1 L332.5,119.3 L332.9,119.5 L333.2,118.2 L333.6,120.6 L333.9,119.7 L334.3,118.8 L334.6,117.8 L335.0,117.8 L335.3,116.6 L335.7,118.2 L336.0,120.0 L336.4,118.2 L336.7,116.4 L337.1,119.7 L337.4,119.7 L337.8,119.7 L338.1,117.5 L338.5,117.9 L338.8,120.8 L339.2,121.7 L339.5,119.1 L339.9,120.5 L340.2,122.1 L340.6,118.9 L340.9,118.1 L341.3,117.7 L341.6,120.6 L342.0,121.1 L342.3,119.3 L342.7,117.7 L343.0,118.5 L343.4,118.1 L343.7,120.5 L344.1,121.7 L344.4,120.3 L344.8,120.7 L345.1,120.0 L345.5,121.8 L345.8,121.2 L346.2,119.8 L346.5,118.9 L346.9,120.4 L347.2,120.2 L347.6,121.5 L347.9,122.4 L348.3,121.9 L348.6,123.1 L349.0,122.4 L349.3,122.7 L349.7,122.3 L350.0,121.2 L350.4,124.1 L350.7,120.2 L351.1,123.0 L351.4,121.9 L351.8,122.0 L352.1,121.7 L352.5,123.8 L352.8,124.5 L353.2,123.4 L353.5,122.3 L353.9,124.4 L354.2,124.4 L354.6,125.5 L354.9,125.2 L355.3,124.6 L355.6,125.0 L356.0,123.3 L356.3,123.3 L356.7,123.9 L357.0,123.5 L357.4,125.3 L357.7,125.6 L358.1,123.4 L358.4,123.1 L358.8,125.2 L359.1,126.2 L359.5,126.2 L359.8,125.4 L360.2,123.7 L360.5,123.5 L360.9,121.9 L361.2,123.4 L361.6,124.8 L361.9,124.6 L362.3,124.2 L362.6,124.8 L363.0,120.0 L363.3,119.7 L363.7,116.6 L364.0,119.5 L364.4,119.2 L364.7,121.3 L365.1,120.5 L365.4,120.6 L365.8,119.0 L366.1,118.5 L366.5,119.9 L366.8,119.1 L367.2,118.5 L367.5,118.6 L367.9,118.2 L368.2,118.4 L368.6,117.1 L368.9,118.4 L369.3,121.7 L369.6,120.6 L370.0,119.2 L370.3,118.2 L370.7,120.6 L371.0,121.3 L371.4,122.5 L371.7,122.7 L372.1,120.6 L372.4,121.1 L372.8,121.5 L373.1,120.8 L373.5,121.2 L373.8,123.2 L374.2,121.9 L374.5,123.0 L374.9,121.5 L375.2,121.4 L375.6,121.0 L375.9,120.0 L376.3,123.0 L376.6,121.7 L377.0,123.0 L377.3,123.2 L377.7,122.9 L378.0,124.3 L378.4,120.5 L378.7,122.2 L379.1,125.4 L379.4,124.8 L379.8,125.5 L380.1,124.8 L380.5,122.2 L380.8,126.1 L381.2,125.2 L381.5,126.1 L381.9,127.4 L382.2,124.3 L382.6,122.1 L382.9,124.1 L383.3,124.3 L383.6,122.0 L384.0,124.4 L384.3,125.9 L384.7,123.0 L385.0,126.4 L385.4,122.3 L385.7,124.6 L386.1,125.2 L386.4,123.1 L386.8,125.0 L387.1,124.1 L387.5,123.6 L387.8,123.0 L388.2,124.9 L388.5,125.7 L388.9,124.9 L389.2,124.1 L389.6,125.1 L389.9,121.4 L390.3,121.4 L390.6,123.9 L391.0,122.7 L391.3,121.8 L391.7,124.0 L392.0,123.6 L392.4,121.5 L392.7,119.4 L393.1,123.7 L393.4,125.7 L393.8,124.6 L394.1,120.9 L394.5,123.5 L394.8,119.1 L395.2,123.0 L395.5,122.6 L395.9,120.5 L396.2,124.6 L396.6,122.0 L396.9,122.0 L397.3,124.1 L397.6,124.3 L398.0,122.4 L398.3,121.5 L398.7,121.9 L399.0,121.7 L399.4,122.3 L399.7,125.9 L400.1,123.7 L400.4,122.0 L400.8,124.1 L401.1,123.8 L401.5,125.6 L401.8,127.2 L402.2,126.8 L402.2,135.1 L401.8,134.7 L401.5,134.6 L401.1,133.5 L400.8,132.1 L400.4,130.1 L400.1,130.9 L399.7,133.5 L399.4,130.1 L399.0,132.3 L398.7,136.2 L398.3,131.0 L398.0,130.8 L397.6,131.2 L397.3,131.2 L396.9,130.3 L396.6,129.7 L396.2,131.8 L395.9,131.7 L395.5,130.2 L395.2,130.6 L394.8,130.7 L394.5,131.8 L394.1,132.3 L393.8,132.5 L393.4,133.4 L393.1,132.0 L392.7,129.4 L392.4,133.2 L392.0,131.5 L391.7,130.8 L391.3,130.0 L391.0,129.5 L390.6,131.5 L390.3,132.5 L389.9,132.9 L389.6,132.4 L389.2,135.9 L388.9,134.0 L388.5,133.1 L388.2,133.0 L387.8,132.8 L387.5,132.1 L387.1,132.6 L386.8,133.8 L386.4,132.0 L386.1,132.7 L385.7,134.4 L385.4,134.1 L385.0,135.2 L384.7,135.4 L384.3,134.4 L384.0,132.5 L383.6,132.4 L383.3,134.0 L382.9,131.6 L382.6,131.6 L382.2,132.9 L381.9,135.8 L381.5,134.8 L381.2,134.8 L380.8,136.0 L380.5,132.9 L380.1,134.6 L379.8,132.4 L379.4,132.6 L379.1,132.4 L378.7,130.1 L378.4,132.4 L378.0,131.3 L377.7,133.0 L377.3,132.2 L377.0,132.1 L376.6,135.9 L376.3,130.7 L375.9,129.1 L375.6,129.9 L375.2,131.0 L374.9,130.0 L374.5,132.3 L374.2,130.0 L373.8,131.2 L373.5,131.5 L373.1,127.4 L372.8,128.4 L372.4,129.2 L372.1,129.6 L371.7,131.1 L371.4,133.8 L371.0,130.6 L370.7,130.2 L370.3,126.9 L370.0,127.2 L369.6,129.5 L369.3,130.2 L368.9,126.6 L368.6,126.4 L368.2,127.4 L367.9,126.7 L367.5,126.1 L367.2,126.9 L366.8,130.1 L366.5,129.4 L366.1,127.0 L365.8,126.7 L365.4,130.1 L365.1,128.5 L364.7,132.3 L364.4,127.5 L364.0,128.6 L363.7,130.2 L363.3,131.5 L363.0,131.0 L362.6,131.8 L362.3,133.1 L361.9,131.3 L361.6,132.9 L361.2,130.4 L360.9,131.5 L360.5,130.8 L360.2,132.9 L359.8,138.6 L359.5,134.5 L359.1,135.3 L358.8,133.0 L358.4,133.1 L358.1,132.7 L357.7,133.6 L357.4,133.3 L357.0,131.3 L356.7,134.3 L356.3,134.7 L356.0,133.8 L355.6,132.5 L355.3,133.1 L354.9,134.5 L354.6,135.1 L354.2,132.8 L353.9,132.9 L353.5,133.6 L353.2,131.1 L352.8,132.7 L352.5,132.1 L352.1,130.0 L351.8,129.8 L351.4,130.9 L351.1,129.9 L350.7,131.3 L350.4,133.4 L350.0,133.5 L349.7,130.1 L349.3,130.0 L349.0,129.6 L348.6,131.3 L348.3,131.2 L347.9,130.3 L347.6,128.8 L347.2,130.0 L346.9,129.0 L346.5,130.2 L346.2,128.6 L345.8,130.5 L345.5,129.9 L345.1,128.5 L344.8,128.6 L344.4,128.2 L344.1,128.8 L343.7,129.8 L343.4,130.4 L343.0,126.1 L342.7,129.3 L342.3,129.4 L342.0,128.4 L341.6,127.4 L341.3,131.0 L340.9,130.4 L340.6,129.2 L340.2,130.0 L339.9,130.2 L339.5,129.6 L339.2,129.8 L338.8,128.0 L338.5,128.6 L338.1,128.6 L337.8,130.1 L337.4,128.1 L337.1,128.8 L336.7,125.7 L336.4,126.0 L336.0,127.9 L335.7,129.3 L335.3,125.9 L335.0,126.7 L334.6,128.0 L334.3,128.4 L333.9,126.7 L333.6,130.8 L333.2,128.5 L332.9,131.0 L332.5,127.6 L332.2,128.1 L331.8,124.6 L331.5,124.1 L331.1,123.5 L330.8,126.9 L330.4,124.6 L330.1,123.7 L329.7,125.1 L329.4,125.0 L329.0,124.4 L328.7,125.7 L328.3,124.4 L328.0,125.4 L327.6,122.4 L327.3,124.3 L326.9,123.2 L326.6,123.5 L326.2,124.6 L325.9,123.4 L325.5,121.9 L325.2,121.6 L324.8,119.8 L324.5,121.6 L324.1,120.9 L323.8,120.5 L323.4,119.9 L323.1,122.6 L322.7,119.3 L322.4,123.4 L322.0,119.7 L321.7,119.5 L321.3,122.7 L321.0,120.7 L320.6,119.4 L320.3,118.7 L319.9,118.9 L319.6,119.8 L319.2,119.4 L318.9,118.4 L318.5,117.9 L318.2,117.7 L317.8,117.1 L317.5,122.5 L317.1,120.3 L316.8,118.2 L316.4,117.8 L316.1,116.6 L315.7,117.2 L315.4,119.9 L315.0,117.8 L314.7,115.9 L314.3,118.5 L314.0,119.1 L313.6,119.3 L313.3,116.8 L312.9,120.4 L312.6,117.1 L312.2,118.0 L311.9,117.7 L311.5,115.7 L311.2,118.3 L310.8,117.2 L310.5,116.5 L310.1,115.2 L309.8,116.5 L309.4,115.0 L309.1,115.9 L308.7,116.9 L308.4,114.0 L308.0,113.4 L307.7,114.2 L307.3,115.0 L307.0,116.0 L306.6,118.4 L306.3,115.0 L305.9,114.9 L305.6,115.5 L305.2,115.1 L304.9,117.0 L304.5,115.1 L304.2,114.2 L303.8,115.9 L303.5,115.6 L303.1,114.2 L302.8,113.5 L302.4,118.0 L302.1,114.6 L301.7,114.6 L301.4,116.7 L301.0,115.0 L300.7,114.7 L300.3,112.4 L300.0,113.3 L299.6,115.6 L299.3,116.5 L298.9,117.0 L298.6,115.4 L298.2,115.6 L297.9,113.6 L297.5,113.9 L297.2,112.3 L296.8,114.9 L296.5,115.5 L296.1,115.0 L295.8,113.8 L295.4,113.5 L295.1,116.0 L294.7,115.2 L294.4,116.3 L294.0,118.0 L293.7,116.8 L293.3,115.8 L293.0,115.6 L292.6,116.4 L292.3,117.6 L291.9,115.0 L291.6,116.9 L291.2,116.7 L290.9,114.3 L290.5,115.0 L290.2,114.5 L289.8,114.9 L289.5,113.6 L289.1,115.0 L288.8,115.6 L288.4,115.6 L288.1,117.2 L287.7,115.0 L287.4,114.6 L287.0,117.4 L286.7,116.2 L286.3,114.5 L286.0,114.5 L285.6,116.1 L285.3,115.6 L284.9,116.5 L284.6,114.6 L284.2,114.3 L283.9,116.1 L283.5,116.8 L283.2,115.1 L282.8,118.2 L282.5,116.4 L282.1,114.9 L281.8,114.4 L281.4,115.7 L281.1,115.3 L280.7,114.6 L280.4,115.1 L280.0,116.0 L279.7,116.2 L279.3,115.6 L279.0,118.8 L278.6,117.9 L278.3,115.4 L277.9,115.5 L277.6,115.0 L277.2,116.3 L276.9,116.8 L276.5,116.8 L276.2,117.4 L275.8,118.3 L275.5,115.9 L275.1,114.9 L274.8,116.6 L274.4,117.4 L274.1,119.7 L273.7,118.4 L273.4,118.3 L273.0,116.5 Z" fill="#9fd08a" stroke="none"/>
<path d="M273.0,109.7 L273.4,109.5 L273.7,108.2 L274.1,107.6 L274.4,109.3 L274.8,110.1 L275.1,108.5 L275.5,105.8 L275.8,108.0 L276.2,109.6 L276.5,109.3 L276.9,109.4 L277.2,106.5 L277.6,106.9 L277.9,108.6 L278.3,109.3 L278.6,109.6 L279.0,110.3 L279.3,110.0 L279.7,108.1 L280.0,109.3 L280.4,107.5 L280.7,107.5 L281.1,108.1 L281.4,106.5 L281.8,107.2 L282.1,106.1 L282.5,109.1 L282.8,109.2 L283.2,107.0 L283.5,109.5 L283.9,109.5 L284.2,107.7 L284.6,108.4 L284.9,108.1 L285.3,108.6 L285.6,106.7 L286.0,106.5 L286.3,107.6 L286.7,108.0 L287.0,110.5 L287.4,107.9 L287.7,109.1 L288.1,107.5 L288.4,109.2 L288.8,107.7 L289.1,107.3 L289.5,102.8 L289.8,105.6 L290.2,104.0 L290.5,107.5 L290.9,106.4 L291.2,109.9 L291.6,108.7 L291.9,109.0 L292.3,110.2 L292.6,109.6 L293.0,107.1 L293.3,108.3 L293.7,109.0 L294.0,109.9 L294.4,106.7 L294.7,108.5 L295.1,107.7 L295.4,107.0 L295.8,104.5 L296.1,108.6 L296.5,107.5 L296.8,107.7 L297.2,102.7 L297.5,105.7 L297.9,108.0 L298.2,108.1 L298.6,106.7 L298.9,105.5 L299.3,105.5 L299.6,106.6 L300.0,106.8 L300.3,106.8 L300.7,106.9 L301.0,108.7 L301.4,108.1 L301.7,106.5 L302.1,109.2 L302.4,108.5 L302.8,108.1 L303.1,100.2 L303.5,104.7 L303.8,107.9 L304.2,107.9 L304.5,106.6 L304.9,109.4 L305.2,105.9 L305.6,102.6 L305.9,109.0 L306.3,108.4 L306.6,107.2 L307.0,109.5 L307.3,108.2 L307.7,107.4 L308.0,107.2 L308.4,106.4 L308.7,107.5 L309.1,109.2 L309.4,108.9 L309.8,108.7 L310.1,108.6 L310.5,109.8 L310.8,108.1 L311.2,104.7 L311.5,110.4 L311.9,112.0 L312.2,110.9 L312.6,108.3 L312.9,109.1 L313.3,109.9 L313.6,110.7 L314.0,112.0 L314.3,108.2 L314.7,109.6 L315.0,110.7 L315.4,111.4 L315.7,109.8 L316.1,109.5 L316.4,108.2 L316.8,112.1 L317.1,112.4 L317.5,113.1 L317.8,110.7 L318.2,110.9 L318.5,110.1 L318.9,110.0 L319.2,112.9 L319.6,109.3 L319.9,112.8 L320.3,111.7 L320.6,111.1 L321.0,112.9 L321.3,112.4 L321.7,113.9 L322.0,114.1 L322.4,114.2 L322.7,113.3 L323.1,109.3 L323.4,112.4 L323.8,111.3 L324.1,113.0 L324.5,114.0 L324.8,113.0 L325.2,113.5 L325.5,113.9 L325.9,115.5 L326.2,116.3 L326.6,116.5 L326.9,116.7 L327.3,114.4 L327.6,115.3 L328.0,117.7 L328.3,117.4 L328.7,115.1 L329.0,115.5 L329.4,115.8 L329.7,115.9 L330.1,115.4 L330.4,116.7 L330.8,117.1 L331.1,115.0 L331.5,117.5 L331.8,118.9 L332.2,120.3 L332.5,120.5 L332.9,120.7 L333.2,119.4 L333.6,121.8 L333.9,120.9 L334.3,120.0 L334.6,119.0 L335.0,119.0 L335.3,117.8 L335.7,119.4 L336.0,121.2 L336.4,119.4 L336.7,117.6 L337.1,120.9 L337.4,120.9 L337.8,120.9 L338.1,118.7 L338.5,119.1 L338.8,122.0 L339.2,122.9 L339.5,120.3 L339.9,121.7 L340.2,123.3 L340.6,120.1 L340.9,119.3 L341.3,118.9 L341.6,121.8 L342.0,122.3 L342.3,120.5 L342.7,118.9 L343.0,119.7 L343.4,119.3 L343.7,121.7 L344.1,122.9 L344.4,121.5 L344.8,121.9 L345.1,121.2 L345.5,123.0 L345.8,122.4 L346.2,121.0 L346.5,120.1 L346.9,121.6 L347.2,121.4 L347.6,122.7 L347.9,123.6 L348.3,123.1 L348.6,124.3 L349.0,123.6 L349.3,123.9 L349.7,123.5 L350.0,122.4 L350.4,125.3 L350.7,121.4 L351.1,124.2 L351.4,123.1 L351.8,123.2 L352.1,122.9 L352.5,125.0 L352.8,125.7 L353.2,124.6 L353.5,123.5 L353.9,125.6 L354.2,125.6 L354.6,126.7 L354.9,126.4 L355.3,125.8 L355.6,126.2 L356.0,124.5 L356.3,124.5 L356.7,125.1 L357.0,124.7 L357.4,126.5 L357.7,126.8 L358.1,124.6 L358.4,124.3 L358.8,126.4 L359.1,127.4 L359.5,127.4 L359.8,126.6 L360.2,124.9 L360.5,124.7 L360.9,123.1 L361.2,124.6 L361.6,126.0 L361.9,125.8 L362.3,125.4 L362.6,126.0 L363.0,121.2 L363.3,120.9 L363.7,117.8 L364.0,120.7 L364.4,120.4 L364.7,122.5 L365.1,121.7 L365.4,121.8 L365.8,120.2 L366.1,119.7 L366.5,121.1 L366.8,120.3 L367.2,119.7 L367.5,119.8 L367.9,119.4 L368.2,119.6 L368.6,118.3 L368.9,119.6 L369.3,122.9 L369.6,121.8 L370.0,120.4 L370.3,119.4 L370.7,121.8 L371.0,122.5 L371.4,123.7 L371.7,123.9 L372.1,121.8 L372.4,122.3 L372.8,122.7 L373.1,122.0 L373.5,122.4 L373.8,124.4 L374.2,123.1 L374.5,124.2 L374.9,122.7 L375.2,122.6 L375.6,122.2 L375.9,121.2 L376.3,124.2 L376.6,122.9 L377.0,124.2 L377.3,124.4 L377.7,124.1 L378.0,125.5 L378.4,121.7 L378.7,123.4 L379.1,126.6 L379.4,126.0 L379.8,126.7 L380.1,126.0 L380.5,123.4 L380.8,127.3 L381.2,126.4 L381.5,127.3 L381.9,128.6 L382.2,125.5 L382.6,123.3 L382.9,125.3 L383.3,125.5 L383.6,123.2 L384.0,125.6 L384.3,127.1 L384.7,124.2 L385.0,127.6 L385.4,123.5 L385.7,125.8 L386.1,126.4 L386.4,124.3 L386.8,126.2 L387.1,125.3 L387.5,124.8 L387.8,124.2 L388.2,126.1 L388.5,126.9 L388.9,126.1 L389.2,125.3 L389.6,126.3 L389.9,122.6 L390.3,122.6 L390.6,125.1 L391.0,123.9 L391.3,123.0 L391.7,125.2 L392.0,124.8 L392.4,122.7 L392.7,120.6 L393.1,124.9 L393.4,126.9 L393.8,125.8 L394.1,122.1 L394.5,124.7 L394.8,120.3 L395.2,124.2 L395.5,123.8 L395.9,121.7 L396.2,125.8 L396.6,123.2 L396.9,123.2 L397.3,125.3 L397.6,125.5 L398.0,123.6 L398.3,122.7 L398.7,123.1 L399.0,122.9 L399.4,123.5 L399.7,127.1 L400.1,124.9 L400.4,123.2 L400.8,125.3 L401.1,125.0 L401.5,126.8 L401.8,128.4 L402.2,128.0 L402.2,133.9 L401.8,133.5 L401.5,133.4 L401.1,132.3 L400.8,130.9 L400.4,128.9 L400.1,129.7 L399.7,132.3 L399.4,128.9 L399.0,131.1 L398.7,135.0 L398.3,129.8 L398.0,129.6 L397.6,130.0 L397.3,130.0 L396.9,129.1 L396.6,128.5 L396.2,130.6 L395.9,130.5 L395.5,129.0 L395.2,129.4 L394.8,129.5 L394.5,130.6 L394.1,131.1 L393.8,131.3 L393.4,132.2 L393.1,130.8 L392.7,128.2 L392.4,132.0 L392.0,130.3 L391.7,129.6 L391.3,128.8 L391.0,128.3 L390.6,130.3 L390.3,131.3 L389.9,131.7 L389.6,131.2 L389.2,134.7 L388.9,132.8 L388.5,131.9 L388.2,131.8 L387.8,131.6 L387.5,130.9 L387.1,131.4 L386.8,132.6 L386.4,130.8 L386.1,131.5 L385.7,133.2 L385.4,132.9 L385.0,134.0 L384.7,134.2 L384.3,133.2 L384.0,131.3 L383.6,131.2 L383.3,132.8 L382.9,130.4 L382.6,130.4 L382.2,131.7 L381.9,134.6 L381.5,133.6 L381.2,133.6 L380.8,134.8 L380.5,131.7 L380.1,133.4 L379.8,131.2 L379.4,131.4 L379.1,131.2 L378.7,128.9 L378.4,131.2 L378.0,130.1 L377.7,131.8 L377.3,131.0 L377.0,130.9 L376.6,134.7 L376.3,129.5 L375.9,127.9 L375.6,128.7 L375.2,129.8 L374.9,128.8 L374.5,131.1 L374.2,128.8 L373.8,130.0 L373.5,130.3 L373.1,126.2 L372.8,127.2 L372.4,128.0 L372.1,128.4 L371.7,129.9 L371.4,132.6 L371.0,129.4 L370.7,129.0 L370.3,125.7 L370.0,126.0 L369.6,128.3 L369.3,129.0 L368.9,125.4 L368.6,125.2 L368.2,126.2 L367.9,125.5 L367.5,124.9 L367.2,125.7 L366.8,128.9 L366.5,128.2 L366.1,125.8 L365.8,125.5 L365.4,128.9 L365.1,127.3 L364.7,131.1 L364.4,126.3 L364.0,127.4 L363.7,129.0 L363.3,130.3 L363.0,129.8 L362.6,130.6 L362.3,131.9 L361.9,130.1 L361.6,131.7 L361.2,129.2 L360.9,130.3 L360.5,129.6 L360.2,131.7 L359.8,137.4 L359.5,133.3 L359.1,134.1 L358.8,131.8 L358.4,131.9 L358.1,131.5 L357.7,132.4 L357.4,132.1 L357.0,130.1 L356.7,133.1 L356.3,133.5 L356.0,132.6 L355.6,131.3 L355.3,131.9 L354.9,133.3 L354.6,133.9 L354.2,131.6 L353.9,131.7 L353.5,132.4 L353.2,129.9 L352.8,131.5 L352.5,130.9 L352.1,128.8 L351.8,128.6 L351.4,129.7 L351.1,128.7 L350.7,130.1 L350.4,132.2 L350.0,132.3 L349.7,128.9 L349.3,128.8 L349.0,128.4 L348.6,130.1 L348.3,130.0 L347.9,129.1 L347.6,127.6 L347.2,128.8 L346.9,127.8 L346.5,129.0 L346.2,127.4 L345.8,129.3 L345.5,128.7 L345.1,127.3 L344.8,127.4 L344.4,127.0 L344.1,127.6 L343.7,128.6 L343.4,129.2 L343.0,124.9 L342.7,128.1 L342.3,128.2 L342.0,127.2 L341.6,126.2 L341.3,129.8 L340.9,129.2 L340.6,128.0 L340.2,128.8 L339.9,129.0 L339.5,128.4 L339.2,128.6 L338.8,126.8 L338.5,127.4 L338.1,127.4 L337.8,128.9 L337.4,126.9 L337.1,127.6 L336.7,124.5 L336.4,124.8 L336.0,126.7 L335.7,128.1 L335.3,124.7 L335.0,125.5 L334.6,126.8 L334.3,127.2 L333.9,125.5 L333.6,129.6 L333.2,127.3 L332.9,129.8 L332.5,126.4 L332.2,126.9 L331.8,123.4 L331.5,122.9 L331.1,122.3 L330.8,125.7 L330.4,123.4 L330.1,122.5 L329.7,123.9 L329.4,123.8 L329.0,123.2 L328.7,124.5 L328.3,123.2 L328.0,124.2 L327.6,121.2 L327.3,123.1 L326.9,122.0 L326.6,122.3 L326.2,123.4 L325.9,122.2 L325.5,120.7 L325.2,120.4 L324.8,118.6 L324.5,120.4 L324.1,119.7 L323.8,119.3 L323.4,118.7 L323.1,121.4 L322.7,118.1 L322.4,122.2 L322.0,118.5 L321.7,118.3 L321.3,121.5 L321.0,119.5 L320.6,118.2 L320.3,117.5 L319.9,117.7 L319.6,118.6 L319.2,118.2 L318.9,117.2 L318.5,116.7 L318.2,116.5 L317.8,115.9 L317.5,121.3 L317.1,119.1 L316.8,117.0 L316.4,116.6 L316.1,115.4 L315.7,116.0 L315.4,118.7 L315.0,116.6 L314.7,114.7 L314.3,117.3 L314.0,117.9 L313.6,118.1 L313.3,115.6 L312.9,119.2 L312.6,115.9 L312.2,116.8 L311.9,116.5 L311.5,114.5 L311.2,117.1 L310.8,116.0 L310.5,115.3 L310.1,114.0 L309.8,115.3 L309.4,113.8 L309.1,114.7 L308.7,115.7 L308.4,112.8 L308.0,112.2 L307.7,113.0 L307.3,113.8 L307.0,114.8 L306.6,117.2 L306.3,113.8 L305.9,113.7 L305.6,114.3 L305.2,113.9 L304.9,115.8 L304.5,113.9 L304.2,113.0 L303.8,114.7 L303.5,114.4 L303.1,113.0 L302.8,112.3 L302.4,116.8 L302.1,113.4 L301.7,113.4 L301.4,115.5 L301.0,113.8 L300.7,113.5 L300.3,111.2 L300.0,112.1 L299.6,114.4 L299.3,115.3 L298.9,115.8 L298.6,114.2 L298.2,114.4 L297.9,112.4 L297.5,112.7 L297.2,111.1 L296.8,113.7 L296.5,114.3 L296.1,113.8 L295.8,112.6 L295.4,112.3 L295.1,114.8 L294.7,114.0 L294.4,115.1 L294.0,116.8 L293.7,115.6 L293.3,114.6 L293.0,114.4 L292.6,115.2 L292.3,116.4 L291.9,113.8 L291.6,115.7 L291.2,115.5 L290.9,113.1 L290.5,113.8 L290.2,113.3 L289.8,113.7 L289.5,112.4 L289.1,113.8 L288.8,114.4 L288.4,114.4 L288.1,116.0 L287.7,113.8 L287.4,113.4 L287.0,116.2 L286.7,115.0 L286.3,113.3 L286.0,113.3 L285.6,114.9 L285.3,114.4 L284.9,115.3 L284.6,113.4 L284.2,113.1 L283.9,114.9 L283.5,115.6 L283.2,113.9 L282.8,117.0 L282.5,115.2 L282.1,113.7 L281.8,113.2 L281.4,114.5 L281.1,114.1 L280.7,113.4 L280.4,113.9 L280.0,114.8 L279.7,115.0 L279.3,114.4 L279.0,117.6 L278.6,116.7 L278.3,114.2 L277.9,114.3 L277.6,113.8 L277.2,115.1 L276.9,115.6 L276.5,115.6 L276.2,116.2 L275.8,117.1 L275.5,114.7 L275.1,113.7 L274.8,115.4 L274.4,116.2 L274.1,118.5 L273.7,117.2 L273.4,117.1 L273.0,115.3 Z" fill="#3f7f2f" stroke="none"/>
<line x1="292" y1="106" x2="292" y2="121" stroke="#7a3a2a" stroke-width="1.3"/>
<line x1="336.3" y1="71" x2="336.3" y2="98" stroke="#1a1a1a" stroke-width="1.3"/>
<text x="343.5" y="88" font-size="10.8" text-anchor="start" font-weight="normal" fill="#161616" stroke="#161616" stroke-width="0.22">0.2 ΔF/F</text>
<line x1="273" y1="161" x2="402.5" y2="161" stroke="#333" stroke-width="1.0"/>
<line x1="292" y1="157.5" x2="292" y2="161" stroke="#444" stroke-width="0.9"/>
<line x1="346.4" y1="157.5" x2="346.4" y2="161" stroke="#444" stroke-width="0.9"/>
<line x1="402.5" y1="157.5" x2="402.5" y2="161" stroke="#444" stroke-width="0.9"/>
<text x="293" y="175.5" font-size="11.5" text-anchor="middle" font-weight="normal" fill="#161616" stroke="#161616" stroke-width="0.22">0</text>
<text x="347.2" y="175.5" font-size="11.5" text-anchor="middle" font-weight="normal" fill="#161616" stroke="#161616" stroke-width="0.22">15</text>
<text x="403.5" y="175.5" font-size="11.5" text-anchor="middle" font-weight="normal" fill="#161616" stroke="#161616" stroke-width="0.22">30</text>
<text x="350.5" y="186.5" font-size="11" text-anchor="middle" font-weight="normal" fill="#161616" stroke="#161616" stroke-width="0.22">Time (min)</text>
<text x="435.5" y="13" font-size="14" text-anchor="start" font-weight="bold" fill="#111">C</text>
<text x="488" y="16.5" font-size="11" text-anchor="start" font-weight="normal" fill="#161616" stroke="#161616" stroke-width="0.22">Presentation</text>
<defs><filter id="hblur" x="0" y="0" width="1" height="1"><feGaussianBlur stdDeviation="0.45"/></filter></defs>
<g filter="url(#hblur)">
<rect x="453.90" y="30.50" width="2.30" height="6.10" fill="#e8a52a"/>
<rect x="455.90" y="30.50" width="2.30" height="6.10" fill="#e8a52a"/>
<rect x="457.90" y="30.50" width="2.30" height="6.10" fill="#c2d448"/>
<rect x="459.89" y="30.50" width="2.30" height="6.10" fill="#e8a52a"/>
<rect x="461.89" y="30.50" width="2.30" height="6.10" fill="#f2e232"/>
<rect x="463.89" y="30.50" width="2.30" height="6.10" fill="#f2e232"/>
<rect x="465.89" y="30.50" width="2.30" height="6.10" fill="#f2e232"/>
<rect x="467.89" y="30.50" width="2.30" height="6.10" fill="#f2e232"/>
<rect x="469.89" y="30.50" width="2.30" height="6.10" fill="#f2e232"/>
<rect x="471.88" y="30.50" width="2.30" height="6.10" fill="#e8a52a"/>
<rect x="473.88" y="30.50" width="2.30" height="6.10" fill="#e8a52a"/>
<rect x="475.88" y="30.50" width="2.30" height="6.10" fill="#e8a52a"/>
<rect x="477.88" y="30.50" width="2.30" height="6.10" fill="#c2d448"/>
<rect x="479.88" y="30.50" width="2.30" height="6.10" fill="#c2d448"/>
<rect x="481.88" y="30.50" width="2.30" height="6.10" fill="#e8a52a"/>
<rect x="483.88" y="30.50" width="2.30" height="6.10" fill="#e8a52a"/>
<rect x="485.87" y="30.50" width="2.30" height="6.10" fill="#cc4a1e"/>
<rect x="487.87" y="30.50" width="2.30" height="6.10" fill="#e8a52a"/>
<rect x="489.87" y="30.50" width="2.30" height="6.10" fill="#f2e232"/>
<rect x="491.87" y="30.50" width="2.30" height="6.10" fill="#e8a52a"/>
<rect x="493.87" y="30.50" width="2.30" height="6.10" fill="#e8a52a"/>
<rect x="495.86" y="30.50" width="2.30" height="6.10" fill="#e8a52a"/>
<rect x="497.86" y="30.50" width="2.30" height="6.10" fill="#f2e232"/>
<rect x="499.86" y="30.50" width="2.30" height="6.10" fill="#f2e232"/>
<rect x="501.86" y="30.50" width="2.30" height="6.10" fill="#f2e232"/>
<rect x="503.86" y="30.50" width="2.30" height="6.10" fill="#e8a52a"/>
<rect x="505.86" y="30.50" width="2.30" height="6.10" fill="#e8a52a"/>
<rect x="507.85" y="30.50" width="2.30" height="6.10" fill="#e8a52a"/>
<rect x="509.85" y="30.50" width="2.30" height="6.10" fill="#f2e232"/>
<rect x="511.85" y="30.50" width="2.30" height="6.10" fill="#e8a52a"/>
<rect x="513.85" y="30.50" width="2.30" height="6.10" fill="#e8a52a"/>
<rect x="515.85" y="30.50" width="2.30" height="6.10" fill="#f2e232"/>
<rect x="517.85" y="30.50" width="2.30" height="6.10" fill="#f2e232"/>
<rect x="519.84" y="30.50" width="2.30" height="6.10" fill="#e8a52a"/>
<rect x="521.84" y="30.50" width="2.30" height="6.10" fill="#e8a52a"/>
<rect x="523.84" y="30.50" width="2.30" height="6.10" fill="#f2e232"/>
<rect x="525.84" y="30.50" width="2.30" height="6.10" fill="#e8a52a"/>
<rect x="527.84" y="30.50" width="2.30" height="6.10" fill="#f2e232"/>
<rect x="529.84" y="30.50" width="2.30" height="6.10" fill="#e8a52a"/>
<rect x="531.83" y="30.50" width="2.30" height="6.10" fill="#f2e232"/>
<rect x="533.83" y="30.50" width="2.30" height="6.10" fill="#e8a52a"/>
<rect x="535.83" y="30.50" width="2.30" height="6.10" fill="#e8a52a"/>
<rect x="537.83" y="30.50" width="2.30" height="6.10" fill="#f2e232"/>
<rect x="539.83" y="30.50" width="2.30" height="6.10" fill="#e8a52a"/>
<rect x="541.83" y="30.50" width="2.30" height="6.10" fill="#f2e232"/>
<rect x="543.82" y="30.50" width="2.30" height="6.10" fill="#f2e232"/>
<rect x="545.82" y="30.50" width="2.30" height="6.10" fill="#f2e232"/>
<rect x="547.82" y="30.50" width="2.30" height="6.10" fill="#f2e232"/>
<rect x="549.82" y="30.50" width="2.30" height="6.10" fill="#f2e232"/>
<rect x="551.82" y="30.50" width="2.30" height="6.10" fill="#f2e232"/>
<rect x="553.82" y="30.50" width="2.30" height="6.10" fill="#f2e232"/>
<rect x="555.81" y="30.50" width="2.30" height="6.10" fill="#e8a52a"/>
<rect x="557.81" y="30.50" width="2.30" height="6.10" fill="#e8a52a"/>
<rect x="559.81" y="30.50" width="2.30" height="6.10" fill="#f2e232"/>
<rect x="561.81" y="30.50" width="2.30" height="6.10" fill="#e8a52a"/>
<rect x="563.81" y="30.50" width="2.30" height="6.10" fill="#c2d448"/>
<rect x="565.81" y="30.50" width="2.30" height="6.10" fill="#f2e232"/>
<rect x="567.80" y="30.50" width="2.30" height="6.10" fill="#f2e232"/>
<rect x="569.80" y="30.50" width="2.30" height="6.10" fill="#e8a52a"/>
<rect x="571.80" y="30.50" width="2.30" height="6.10" fill="#f2e232"/>
<rect x="453.90" y="36.30" width="2.30" height="6.10" fill="#f2e232"/>
<rect x="455.90" y="36.30" width="2.30" height="6.10" fill="#f2e232"/>
<rect x="457.90" y="36.30" width="2.30" height="6.10" fill="#f2e232"/>
<rect x="459.89" y="36.30" width="2.30" height="6.10" fill="#f2e232"/>
<rect x="461.89" y="36.30" width="2.30" height="6.10" fill="#e8a52a"/>
<rect x="463.89" y="36.30" width="2.30" height="6.10" fill="#e8a52a"/>
<rect x="465.89" y="36.30" width="2.30" height="6.10" fill="#f2e232"/>
<rect x="467.89" y="36.30" width="2.30" height="6.10" fill="#f2e232"/>
<rect x="469.89" y="36.30" width="2.30" height="6.10" fill="#f2e232"/>
<rect x="471.88" y="36.30" width="2.30" height="6.10" fill="#f2e232"/>
<rect x="473.88" y="36.30" width="2.30" height="6.10" fill="#f2e232"/>
<rect x="475.88" y="36.30" width="2.30" height="6.10" fill="#f2e232"/>
<rect x="477.88" y="36.30" width="2.30" height="6.10" fill="#e8a52a"/>
<rect x="479.88" y="36.30" width="2.30" height="6.10" fill="#f2e232"/>
<rect x="481.88" y="36.30" width="2.30" height="6.10" fill="#f2e232"/>
<rect x="483.88" y="36.30" width="2.30" height="6.10" fill="#f2e232"/>
<rect x="485.87" y="36.30" width="2.30" height="6.10" fill="#e8a52a"/>
<rect x="487.87" y="36.30" width="2.30" height="6.10" fill="#e8a52a"/>
<rect x="489.87" y="36.30" width="2.30" height="6.10" fill="#f2e232"/>
<rect x="491.87" y="36.30" width="2.30" height="6.10" fill="#f2e232"/>
<rect x="493.87" y="36.30" width="2.30" height="6.10" fill="#f2e232"/>
<rect x="495.86" y="36.30" width="2.30" height="6.10" fill="#f2e232"/>
<rect x="497.86" y="36.30" width="2.30" height="6.10" fill="#e8a52a"/>
<rect x="499.86" y="36.30" width="2.30" height="6.10" fill="#e8a52a"/>
<rect x="501.86" y="36.30" width="2.30" height="6.10" fill="#e8a52a"/>
<rect x="503.86" y="36.30" width="2.30" height="6.10" fill="#f2e232"/>
<rect x="505.86" y="36.30" width="2.30" height="6.10" fill="#e8a52a"/>
<rect x="507.85" y="36.30" width="2.30" height="6.10" fill="#e8a52a"/>
<rect x="509.85" y="36.30" width="2.30" height="6.10" fill="#e8a52a"/>
<rect x="511.85" y="36.30" width="2.30" height="6.10" fill="#f2e232"/>
<rect x="513.85" y="36.30" width="2.30" height="6.10" fill="#c2d448"/>
<rect x="515.85" y="36.30" width="2.30" height="6.10" fill="#e8a52a"/>
<rect x="517.85" y="36.30" width="2.30" height="6.10" fill="#f2e232"/>
<rect x="519.84" y="36.30" width="2.30" height="6.10" fill="#f2e232"/>
<rect x="521.84" y="36.30" width="2.30" height="6.10" fill="#e8a52a"/>
<rect x="523.84" y="36.30" width="2.30" height="6.10" fill="#f2e232"/>
<rect x="525.84" y="36.30" width="2.30" height="6.10" fill="#c2d448"/>
<rect x="527.84" y="36.30" width="2.30" height="6.10" fill="#f2e232"/>
<rect x="529.84" y="36.30" width="2.30" height="6.10" fill="#f2e232"/>
<rect x="531.83" y="36.30" width="2.30" height="6.10" fill="#e8a52a"/>
<rect x="533.83" y="36.30" width="2.30" height="6.10" fill="#c2d448"/>
<rect x="535.83" y="36.30" width="2.30" height="6.10" fill="#f2e232"/>
<rect x="537.83" y="36.30" width="2.30" height="6.10" fill="#f2e232"/>
<rect x="539.83" y="36.30" width="2.30" height="6.10" fill="#e8a52a"/>
<rect x="541.83" y="36.30" width="2.30" height="6.10" fill="#f2e232"/>
<rect x="543.82" y="36.30" width="2.30" height="6.10" fill="#8cbf8e"/>
<rect x="545.82" y="36.30" width="2.30" height="6.10" fill="#c2d448"/>
<rect x="547.82" y="36.30" width="2.30" height="6.10" fill="#f2e232"/>
<rect x="549.82" y="36.30" width="2.30" height="6.10" fill="#e8a52a"/>
<rect x="551.82" y="36.30" width="2.30" height="6.10" fill="#e8a52a"/>
<rect x="553.82" y="36.30" width="2.30" height="6.10" fill="#f2e232"/>
<rect x="555.81" y="36.30" width="2.30" height="6.10" fill="#f2e232"/>
<rect x="557.81" y="36.30" width="2.30" height="6.10" fill="#e8a52a"/>
<rect x="559.81" y="36.30" width="2.30" height="6.10" fill="#f2e232"/>
<rect x="561.81" y="36.30" width="2.30" height="6.10" fill="#f2e232"/>
<rect x="563.81" y="36.30" width="2.30" height="6.10" fill="#f2e232"/>
<rect x="565.81" y="36.30" width="2.30" height="6.10" fill="#e8a52a"/>
<rect x="567.80" y="36.30" width="2.30" height="6.10" fill="#f2e232"/>
<rect x="569.80" y="36.30" width="2.30" height="6.10" fill="#f2e232"/>
<rect x="571.80" y="36.30" width="2.30" height="6.10" fill="#f2e232"/>
<rect x="453.90" y="42.10" width="2.30" height="6.10" fill="#f2e232"/>
<rect x="455.90" y="42.10" width="2.30" height="6.10" fill="#f2e232"/>
<rect x="457.90" y="42.10" width="2.30" height="6.10" fill="#f2e232"/>
<rect x="459.89" y="42.10" width="2.30" height="6.10" fill="#e8a52a"/>
<rect x="461.89" y="42.10" width="2.30" height="6.10" fill="#e8a52a"/>
<rect x="463.89" y="42.10" width="2.30" height="6.10" fill="#e8a52a"/>
<rect x="465.89" y="42.10" width="2.30" height="6.10" fill="#e8a52a"/>
<rect x="467.89" y="42.10" width="2.30" height="6.10" fill="#e8a52a"/>
<rect x="469.89" y="42.10" width="2.30" height="6.10" fill="#c2d448"/>
<rect x="471.88" y="42.10" width="2.30" height="6.10" fill="#f2e232"/>
<rect x="473.88" y="42.10" width="2.30" height="6.10" fill="#f2e232"/>
<rect x="475.88" y="42.10" width="2.30" height="6.10" fill="#f2e232"/>
<rect x="477.88" y="42.10" width="2.30" height="6.10" fill="#f2e232"/>
<rect x="479.88" y="42.10" width="2.30" height="6.10" fill="#e8a52a"/>
<rect x="481.88" y="42.10" width="2.30" height="6.10" fill="#f2e232"/>
<rect x="483.88" y="42.10" width="2.30" height="6.10" fill="#f2e232"/>
<rect x="485.87" y="42.10" width="2.30" height="6.10" fill="#c2d448"/>
<rect x="487.87" y="42.10" width="2.30" height="6.10" fill="#f2e232"/>
<rect x="489.87" y="42.10" width="2.30" height="6.10" fill="#e8a52a"/>
<rect x="491.87" y="42.10" width="2.30" height="6.10" fill="#f2e232"/>
<rect x="493.87" y="42.10" width="2.30" height="6.10" fill="#e8a52a"/>
<rect x="495.86" y="42.10" width="2.30" height="6.10" fill="#e8a52a"/>
<rect x="497.86" y="42.10" width="2.30" height="6.10" fill="#f2e232"/>
<rect x="499.86" y="42.10" width="2.30" height="6.10" fill="#e8a52a"/>
<rect x="501.86" y="42.10" width="2.30" height="6.10" fill="#e8a52a"/>
<rect x="503.86" y="42.10" width="2.30" height="6.10" fill="#e8a52a"/>
<rect x="505.86" y="42.10" width="2.30" height="6.10" fill="#f2e232"/>
<rect x="507.85" y="42.10" width="2.30" height="6.10" fill="#f2e232"/>
<rect x="509.85" y="42.10" width="2.30" height="6.10" fill="#f2e232"/>
<rect x="511.85" y="42.10" width="2.30" height="6.10" fill="#f2e232"/>
<rect x="513.85" y="42.10" width="2.30" height="6.10" fill="#e8a52a"/>
<rect x="515.85" y="42.10" width="2.30" height="6.10" fill="#f2e232"/>
<rect x="517.85" y="42.10" width="2.30" height="6.10" fill="#f2e232"/>
<rect x="519.84" y="42.10" width="2.30" height="6.10" fill="#f2e232"/>
<rect x="521.84" y="42.10" width="2.30" height="6.10" fill="#e8a52a"/>
<rect x="523.84" y="42.10" width="2.30" height="6.10" fill="#f2e232"/>
<rect x="525.84" y="42.10" width="2.30" height="6.10" fill="#e8a52a"/>
<rect x="527.84" y="42.10" width="2.30" height="6.10" fill="#f2e232"/>
<rect x="529.84" y="42.10" width="2.30" height="6.10" fill="#f2e232"/>
<rect x="531.83" y="42.10" width="2.30" height="6.10" fill="#e8a52a"/>
<rect x="533.83" y="42.10" width="2.30" height="6.10" fill="#e8a52a"/>
<rect x="535.83" y="42.10" width="2.30" height="6.10" fill="#f2e232"/>
<rect x="537.83" y="42.10" width="2.30" height="6.10" fill="#f2e232"/>
<rect x="539.83" y="42.10" width="2.30" height="6.10" fill="#f2e232"/>
<rect x="541.83" y="42.10" width="2.30" height="6.10" fill="#e8a52a"/>
<rect x="543.82" y="42.10" width="2.30" height="6.10" fill="#e8a52a"/>
<rect x="545.82" y="42.10" width="2.30" height="6.10" fill="#f2e232"/>
<rect x="547.82" y="42.10" width="2.30" height="6.10" fill="#e8a52a"/>
<rect x="549.82" y="42.10" width="2.30" height="6.10" fill="#f2e232"/>
<rect x="551.82" y="42.10" width="2.30" height="6.10" fill="#f2e232"/>
<rect x="553.82" y="42.10" width="2.30" height="6.10" fill="#e8a52a"/>
<rect x="555.81" y="42.10" width="2.30" height="6.10" fill="#f2e232"/>
<rect x="557.81" y="42.10" width="2.30" height="6.10" fill="#e8a52a"/>
<rect x="559.81" y="42.10" width="2.30" height="6.10" fill="#e8a52a"/>
<rect x="561.81" y="42.10" width="2.30" height="6.10" fill="#e8a52a"/>
<rect x="563.81" y="42.10" width="2.30" height="6.10" fill="#e8a52a"/>
<rect x="565.81" y="42.10" width="2.30" height="6.10" fill="#f2e232"/>
<rect x="567.80" y="42.10" width="2.30" height="6.10" fill="#f2e232"/>
<rect x="569.80" y="42.10" width="2.30" height="6.10" fill="#f2e232"/>
<rect x="571.80" y="42.10" width="2.30" height="6.10" fill="#e8a52a"/>
<rect x="453.90" y="47.90" width="2.30" height="6.10" fill="#e8a52a"/>
<rect x="455.90" y="47.90" width="2.30" height="6.10" fill="#e8a52a"/>
<rect x="457.90" y="47.90" width="2.30" height="6.10" fill="#e8a52a"/>
<rect x="459.89" y="47.90" width="2.30" height="6.10" fill="#e8a52a"/>
<rect x="461.89" y="47.90" width="2.30" height="6.10" fill="#e8a52a"/>
<rect x="463.89" y="47.90" width="2.30" height="6.10" fill="#f2e232"/>
<rect x="465.89" y="47.90" width="2.30" height="6.10" fill="#e8a52a"/>
<rect x="467.89" y="47.90" width="2.30" height="6.10" fill="#f2e232"/>
<rect x="469.89" y="47.90" width="2.30" height="6.10" fill="#f2e232"/>
<rect x="471.88" y="47.90" width="2.30" height="6.10" fill="#f2e232"/>
<rect x="473.88" y="47.90" width="2.30" height="6.10" fill="#f2e232"/>
<rect x="475.88" y="47.90" width="2.30" height="6.10" fill="#cc4a1e"/>
<rect x="477.88" y="47.90" width="2.30" height="6.10" fill="#e8a52a"/>
<rect x="479.88" y="47.90" width="2.30" height="6.10" fill="#f2e232"/>
<rect x="481.88" y="47.90" width="2.30" height="6.10" fill="#e8a52a"/>
<rect x="483.88" y="47.90" width="2.30" height="6.10" fill="#e8a52a"/>
<rect x="485.87" y="47.90" width="2.30" height="6.10" fill="#e8a52a"/>
<rect x="487.87" y="47.90" width="2.30" height="6.10" fill="#e8a52a"/>
<rect x="489.87" y="47.90" width="2.30" height="6.10" fill="#f2e232"/>
<rect x="491.87" y="47.90" width="2.30" height="6.10" fill="#e8a52a"/>
<rect x="493.87" y="47.90" width="2.30" height="6.10" fill="#f2e232"/>
<rect x="495.86" y="47.90" width="2.30" height="6.10" fill="#c2d448"/>
<rect x="497.86" y="47.90" width="2.30" height="6.10" fill="#f2e232"/>
<rect x="499.86" y="47.90" width="2.30" height="6.10" fill="#f2e232"/>
<rect x="501.86" y="47.90" width="2.30" height="6.10" fill="#e8a52a"/>
<rect x="503.86" y="47.90" width="2.30" height="6.10" fill="#e8a52a"/>
<rect x="505.86" y="47.90" width="2.30" height="6.10" fill="#f2e232"/>
<rect x="507.85" y="47.90" width="2.30" height="6.10" fill="#e8a52a"/>
<rect x="509.85" y="47.90" width="2.30" height="6.10" fill="#e8a52a"/>
<rect x="511.85" y="47.90" width="2.30" height="6.10" fill="#f2e232"/>
<rect x="513.85" y="47.90" width="2.30" height="6.10" fill="#c2d448"/>
<rect x="515.85" y="47.90" width="2.30" height="6.10" fill="#e8a52a"/>
<rect x="517.85" y="47.90" width="2.30" height="6.10" fill="#e8a52a"/>
<rect x="519.84" y="47.90" width="2.30" height="6.10" fill="#f2e232"/>
<rect x="521.84" y="47.90" width="2.30" height="6.10" fill="#c2d448"/>
<rect x="523.84" y="47.90" width="2.30" height="6.10" fill="#e8a52a"/>
<rect x="525.84" y="47.90" width="2.30" height="6.10" fill="#f2e232"/>
<rect x="527.84" y="47.90" width="2.30" height="6.10" fill="#f2e232"/>
<rect x="529.84" y="47.90" width="2.30" height="6.10" fill="#f2e232"/>
<rect x="531.83" y="47.90" width="2.30" height="6.10" fill="#f2e232"/>
<rect x="533.83" y="47.90" width="2.30" height="6.10" fill="#e8a52a"/>
<rect x="535.83" y="47.90" width="2.30" height="6.10" fill="#e8a52a"/>
<rect x="537.83" y="47.90" width="2.30" height="6.10" fill="#f2e232"/>
<rect x="539.83" y="47.90" width="2.30" height="6.10" fill="#e8a52a"/>
<rect x="541.83" y="47.90" width="2.30" height="6.10" fill="#e8a52a"/>
<rect x="543.82" y="47.90" width="2.30" height="6.10" fill="#f2e232"/>
<rect x="545.82" y="47.90" width="2.30" height="6.10" fill="#e8a52a"/>
<rect x="547.82" y="47.90" width="2.30" height="6.10" fill="#f2e232"/>
<rect x="549.82" y="47.90" width="2.30" height="6.10" fill="#f2e232"/>
<rect x="551.82" y="47.90" width="2.30" height="6.10" fill="#f2e232"/>
<rect x="553.82" y="47.90" width="2.30" height="6.10" fill="#e8a52a"/>
<rect x="555.81" y="47.90" width="2.30" height="6.10" fill="#f2e232"/>
<rect x="557.81" y="47.90" width="2.30" height="6.10" fill="#e8a52a"/>
<rect x="559.81" y="47.90" width="2.30" height="6.10" fill="#cc4a1e"/>
<rect x="561.81" y="47.90" width="2.30" height="6.10" fill="#f2e232"/>
<rect x="563.81" y="47.90" width="2.30" height="6.10" fill="#e8a52a"/>
<rect x="565.81" y="47.90" width="2.30" height="6.10" fill="#cc4a1e"/>
<rect x="567.80" y="47.90" width="2.30" height="6.10" fill="#f2e232"/>
<rect x="569.80" y="47.90" width="2.30" height="6.10" fill="#f2e232"/>
<rect x="571.80" y="47.90" width="2.30" height="6.10" fill="#f2e232"/>
<rect x="453.90" y="53.70" width="2.30" height="6.10" fill="#c2d448"/>
<rect x="455.90" y="53.70" width="2.30" height="6.10" fill="#f2e232"/>
<rect x="457.90" y="53.70" width="2.30" height="6.10" fill="#f2e232"/>
<rect x="459.89" y="53.70" width="2.30" height="6.10" fill="#f2e232"/>
<rect x="461.89" y="53.70" width="2.30" height="6.10" fill="#f2e232"/>
<rect x="463.89" y="53.70" width="2.30" height="6.10" fill="#e8a52a"/>
<rect x="465.89" y="53.70" width="2.30" height="6.10" fill="#f2e232"/>
<rect x="467.89" y="53.70" width="2.30" height="6.10" fill="#f2e232"/>
<rect x="469.89" y="53.70" width="2.30" height="6.10" fill="#f2e232"/>
<rect x="471.88" y="53.70" width="2.30" height="6.10" fill="#f2e232"/>
<rect x="473.88" y="53.70" width="2.30" height="6.10" fill="#f2e232"/>
<rect x="475.88" y="53.70" width="2.30" height="6.10" fill="#e8a52a"/>
<rect x="477.88" y="53.70" width="2.30" height="6.10" fill="#f2e232"/>
<rect x="479.88" y="53.70" width="2.30" height="6.10" fill="#e8a52a"/>
<rect x="481.88" y="53.70" width="2.30" height="6.10" fill="#e8a52a"/>
<rect x="483.88" y="53.70" width="2.30" height="6.10" fill="#e8a52a"/>
<rect x="485.87" y="53.70" width="2.30" height="6.10" fill="#f2e232"/>
<rect x="487.87" y="53.70" width="2.30" height="6.10" fill="#f2e232"/>
<rect x="489.87" y="53.70" width="2.30" height="6.10" fill="#f2e232"/>
<rect x="491.87" y="53.70" width="2.30" height="6.10" fill="#f2e232"/>
<rect x="493.87" y="53.70" width="2.30" height="6.10" fill="#e8a52a"/>
<rect x="495.86" y="53.70" width="2.30" height="6.10" fill="#f2e232"/>
<rect x="497.86" y="53.70" width="2.30" height="6.10" fill="#f2e232"/>
<rect x="499.86" y="53.70" width="2.30" height="6.10" fill="#f2e232"/>
<rect x="501.86" y="53.70" width="2.30" height="6.10" fill="#e8a52a"/>
<rect x="503.86" y="53.70" width="2.30" height="6.10" fill="#e8a52a"/>
<rect x="505.86" y="53.70" width="2.30" height="6.10" fill="#f2e232"/>
<rect x="507.85" y="53.70" width="2.30" height="6.10" fill="#f2e232"/>
<rect x="509.85" y="53.70" width="2.30" height="6.10" fill="#f2e232"/>
<rect x="511.85" y="53.70" width="2.30" height="6.10" fill="#e8a52a"/>
<rect x="513.85" y="53.70" width="2.30" height="6.10" fill="#e8a52a"/>
<rect x="515.85" y="53.70" width="2.30" height="6.10" fill="#f2e232"/>
<rect x="517.85" y="53.70" width="2.30" height="6.10" fill="#f2e232"/>
<rect x="519.84" y="53.70" width="2.30" height="6.10" fill="#e8a52a"/>
<rect x="521.84" y="53.70" width="2.30" height="6.10" fill="#e8a52a"/>
<rect x="523.84" y="53.70" width="2.30" height="6.10" fill="#f2e232"/>
<rect x="525.84" y="53.70" width="2.30" height="6.10" fill="#f2e232"/>
<rect x="527.84" y="53.70" width="2.30" height="6.10" fill="#f2e232"/>
<rect x="529.84" y="53.70" width="2.30" height="6.10" fill="#f2e232"/>
<rect x="531.83" y="53.70" width="2.30" height="6.10" fill="#e8a52a"/>
<rect x="533.83" y="53.70" width="2.30" height="6.10" fill="#f2e232"/>
<rect x="535.83" y="53.70" width="2.30" height="6.10" fill="#f2e232"/>
<rect x="537.83" y="53.70" width="2.30" height="6.10" fill="#c2d448"/>
<rect x="539.83" y="53.70" width="2.30" height="6.10" fill="#f2e232"/>
<rect x="541.83" y="53.70" width="2.30" height="6.10" fill="#e8a52a"/>
<rect x="543.82" y="53.70" width="2.30" height="6.10" fill="#c2d448"/>
<rect x="545.82" y="53.70" width="2.30" height="6.10" fill="#f2e232"/>
<rect x="547.82" y="53.70" width="2.30" height="6.10" fill="#e8a52a"/>
<rect x="549.82" y="53.70" width="2.30" height="6.10" fill="#f2e232"/>
<rect x="551.82" y="53.70" width="2.30" height="6.10" fill="#c2d448"/>
<rect x="553.82" y="53.70" width="2.30" height="6.10" fill="#e8a52a"/>
<rect x="555.81" y="53.70" width="2.30" height="6.10" fill="#c2d448"/>
<rect x="557.81" y="53.70" width="2.30" height="6.10" fill="#e8a52a"/>
<rect x="559.81" y="53.70" width="2.30" height="6.10" fill="#f2e232"/>
<rect x="561.81" y="53.70" width="2.30" height="6.10" fill="#f2e232"/>
<rect x="563.81" y="53.70" width="2.30" height="6.10" fill="#f2e232"/>
<rect x="565.81" y="53.70" width="2.30" height="6.10" fill="#f2e232"/>
<rect x="567.80" y="53.70" width="2.30" height="6.10" fill="#e8a52a"/>
<rect x="569.80" y="53.70" width="2.30" height="6.10" fill="#e8a52a"/>
<rect x="571.80" y="53.70" width="2.30" height="6.10" fill="#f2e232"/>
<rect x="453.90" y="59.50" width="2.30" height="6.10" fill="#e8a52a"/>
<rect x="455.90" y="59.50" width="2.30" height="6.10" fill="#e8a52a"/>
<rect x="457.90" y="59.50" width="2.30" height="6.10" fill="#e8a52a"/>
<rect x="459.89" y="59.50" width="2.30" height="6.10" fill="#e8a52a"/>
<rect x="461.89" y="59.50" width="2.30" height="6.10" fill="#f2e232"/>
<rect x="463.89" y="59.50" width="2.30" height="6.10" fill="#f2e232"/>
<rect x="465.89" y="59.50" width="2.30" height="6.10" fill="#e8a52a"/>
<rect x="467.89" y="59.50" width="2.30" height="6.10" fill="#e8a52a"/>
<rect x="469.89" y="59.50" width="2.30" height="6.10" fill="#f2e232"/>
<rect x="471.88" y="59.50" width="2.30" height="6.10" fill="#e8a52a"/>
<rect x="473.88" y="59.50" width="2.30" height="6.10" fill="#f2e232"/>
<rect x="475.88" y="59.50" width="2.30" height="6.10" fill="#e8a52a"/>
<rect x="477.88" y="59.50" width="2.30" height="6.10" fill="#e8a52a"/>
<rect x="479.88" y="59.50" width="2.30" height="6.10" fill="#f2e232"/>
<rect x="481.88" y="59.50" width="2.30" height="6.10" fill="#f2e232"/>
<rect x="483.88" y="59.50" width="2.30" height="6.10" fill="#e8a52a"/>
<rect x="485.87" y="59.50" width="2.30" height="6.10" fill="#f2e232"/>
<rect x="487.87" y="59.50" width="2.30" height="6.10" fill="#e8a52a"/>
<rect x="489.87" y="59.50" width="2.30" height="6.10" fill="#f2e232"/>
<rect x="491.87" y="59.50" width="2.30" height="6.10" fill="#e8a52a"/>
<rect x="493.87" y="59.50" width="2.30" height="6.10" fill="#f2e232"/>
<rect x="495.86" y="59.50" width="2.30" height="6.10" fill="#f2e232"/>
<rect x="497.86" y="59.50" width="2.30" height="6.10" fill="#f2e232"/>
<rect x="499.86" y="59.50" width="2.30" height="6.10" fill="#f2e232"/>
<rect x="501.86" y="59.50" width="2.30" height="6.10" fill="#e8a52a"/>
<rect x="503.86" y="59.50" width="2.30" height="6.10" fill="#e8a52a"/>
<rect x="505.86" y="59.50" width="2.30" height="6.10" fill="#e8a52a"/>
<rect x="507.85" y="59.50" width="2.30" height="6.10" fill="#e8a52a"/>
<rect x="509.85" y="59.50" width="2.30" height="6.10" fill="#e8a52a"/>
<rect x="511.85" y="59.50" width="2.30" height="6.10" fill="#e8a52a"/>
<rect x="513.85" y="59.50" width="2.30" height="6.10" fill="#e8a52a"/>
<rect x="515.85" y="59.50" width="2.30" height="6.10" fill="#f2e232"/>
<rect x="517.85" y="59.50" width="2.30" height="6.10" fill="#e8a52a"/>
<rect x="519.84" y="59.50" width="2.30" height="6.10" fill="#e8a52a"/>
<rect x="521.84" y="59.50" width="2.30" height="6.10" fill="#f2e232"/>
<rect x="523.84" y="59.50" width="2.30" height="6.10" fill="#e8a52a"/>
<rect x="525.84" y="59.50" width="2.30" height="6.10" fill="#e8a52a"/>
<rect x="527.84" y="59.50" width="2.30" height="6.10" fill="#f2e232"/>
<rect x="529.84" y="59.50" width="2.30" height="6.10" fill="#e8a52a"/>
<rect x="531.83" y="59.50" width="2.30" height="6.10" fill="#e8a52a"/>
<rect x="533.83" y="59.50" width="2.30" height="6.10" fill="#e8a52a"/>
<rect x="535.83" y="59.50" width="2.30" height="6.10" fill="#f2e232"/>
<rect x="537.83" y="59.50" width="2.30" height="6.10" fill="#f2e232"/>
<rect x="539.83" y="59.50" width="2.30" height="6.10" fill="#e8a52a"/>
<rect x="541.83" y="59.50" width="2.30" height="6.10" fill="#e8a52a"/>
<rect x="543.82" y="59.50" width="2.30" height="6.10" fill="#cc4a1e"/>
<rect x="545.82" y="59.50" width="2.30" height="6.10" fill="#f2e232"/>
<rect x="547.82" y="59.50" width="2.30" height="6.10" fill="#f2e232"/>
<rect x="549.82" y="59.50" width="2.30" height="6.10" fill="#f2e232"/>
<rect x="551.82" y="59.50" width="2.30" height="6.10" fill="#f2e232"/>
<rect x="553.82" y="59.50" width="2.30" height="6.10" fill="#f2e232"/>
<rect x="555.81" y="59.50" width="2.30" height="6.10" fill="#e8a52a"/>
<rect x="557.81" y="59.50" width="2.30" height="6.10" fill="#f2e232"/>
<rect x="559.81" y="59.50" width="2.30" height="6.10" fill="#e8a52a"/>
<rect x="561.81" y="59.50" width="2.30" height="6.10" fill="#e8a52a"/>
<rect x="563.81" y="59.50" width="2.30" height="6.10" fill="#e8a52a"/>
<rect x="565.81" y="59.50" width="2.30" height="6.10" fill="#cc4a1e"/>
<rect x="567.80" y="59.50" width="2.30" height="6.10" fill="#e8a52a"/>
<rect x="569.80" y="59.50" width="2.30" height="6.10" fill="#cc4a1e"/>
<rect x="571.80" y="59.50" width="2.30" height="6.10" fill="#f2e232"/>
<rect x="453.90" y="65.30" width="2.30" height="6.10" fill="#e8a52a"/>
<rect x="455.90" y="65.30" width="2.30" height="6.10" fill="#e8a52a"/>
<rect x="457.90" y="65.30" width="2.30" height="6.10" fill="#e8a52a"/>
<rect x="459.89" y="65.30" width="2.30" height="6.10" fill="#e8a52a"/>
<rect x="461.89" y="65.30" width="2.30" height="6.10" fill="#f2e232"/>
<rect x="463.89" y="65.30" width="2.30" height="6.10" fill="#cc4a1e"/>
<rect x="465.89" y="65.30" width="2.30" height="6.10" fill="#e8a52a"/>
<rect x="467.89" y="65.30" width="2.30" height="6.10" fill="#e8a52a"/>
<rect x="469.89" y="65.30" width="2.30" height="6.10" fill="#e8a52a"/>
<rect x="471.88" y="65.30" width="2.30" height="6.10" fill="#f2e232"/>
<rect x="473.88" y="65.30" width="2.30" height="6.10" fill="#c2d448"/>
<rect x="475.88" y="65.30" width="2.30" height="6.10" fill="#e8a52a"/>
<rect x="477.88" y="65.30" width="2.30" height="6.10" fill="#e8a52a"/>
<rect x="479.88" y="65.30" width="2.30" height="6.10" fill="#e8a52a"/>
<rect x="481.88" y="65.30" width="2.30" height="6.10" fill="#f2e232"/>
<rect x="483.88" y="65.30" width="2.30" height="6.10" fill="#f2e232"/>
<rect x="485.87" y="65.30" width="2.30" height="6.10" fill="#cc4a1e"/>
<rect x="487.87" y="65.30" width="2.30" height="6.10" fill="#e8a52a"/>
<rect x="489.87" y="65.30" width="2.30" height="6.10" fill="#e8a52a"/>
<rect x="491.87" y="65.30" width="2.30" height="6.10" fill="#f2e232"/>
<rect x="493.87" y="65.30" width="2.30" height="6.10" fill="#e8a52a"/>
<rect x="495.86" y="65.30" width="2.30" height="6.10" fill="#e8a52a"/>
<rect x="497.86" y="65.30" width="2.30" height="6.10" fill="#e8a52a"/>
<rect x="499.86" y="65.30" width="2.30" height="6.10" fill="#f2e232"/>
<rect x="501.86" y="65.30" width="2.30" height="6.10" fill="#e8a52a"/>
<rect x="503.86" y="65.30" width="2.30" height="6.10" fill="#f2e232"/>
<rect x="505.86" y="65.30" width="2.30" height="6.10" fill="#f2e232"/>
<rect x="507.85" y="65.30" width="2.30" height="6.10" fill="#e8a52a"/>
<rect x="509.85" y="65.30" width="2.30" height="6.10" fill="#f2e232"/>
<rect x="511.85" y="65.30" width="2.30" height="6.10" fill="#e8a52a"/>
<rect x="513.85" y="65.30" width="2.30" height="6.10" fill="#cc4a1e"/>
<rect x="515.85" y="65.30" width="2.30" height="6.10" fill="#e8a52a"/>
<rect x="517.85" y="65.30" width="2.30" height="6.10" fill="#e8a52a"/>
<rect x="519.84" y="65.30" width="2.30" height="6.10" fill="#f2e232"/>
<rect x="521.84" y="65.30" width="2.30" height="6.10" fill="#f2e232"/>
<rect x="523.84" y="65.30" width="2.30" height="6.10" fill="#e8a52a"/>
<rect x="525.84" y="65.30" width="2.30" height="6.10" fill="#f2e232"/>
<rect x="527.84" y="65.30" width="2.30" height="6.10" fill="#c2d448"/>
<rect x="529.84" y="65.30" width="2.30" height="6.10" fill="#f2e232"/>
<rect x="531.83" y="65.30" width="2.30" height="6.10" fill="#f2e232"/>
<rect x="533.83" y="65.30" width="2.30" height="6.10" fill="#cc4a1e"/>
<rect x="535.83" y="65.30" width="2.30" height="6.10" fill="#f2e232"/>
<rect x="537.83" y="65.30" width="2.30" height="6.10" fill="#e8a52a"/>
<rect x="539.83" y="65.30" width="2.30" height="6.10" fill="#e8a52a"/>
<rect x="541.83" y="65.30" width="2.30" height="6.10" fill="#e8a52a"/>
<rect x="543.82" y="65.30" width="2.30" height="6.10" fill="#f2e232"/>
<rect x="545.82" y="65.30" width="2.30" height="6.10" fill="#cc4a1e"/>
<rect x="547.82" y="65.30" width="2.30" height="6.10" fill="#e8a52a"/>
<rect x="549.82" y="65.30" width="2.30" height="6.10" fill="#c2d448"/>
<rect x="551.82" y="65.30" width="2.30" height="6.10" fill="#e8a52a"/>
<rect x="553.82" y="65.30" width="2.30" height="6.10" fill="#e8a52a"/>
<rect x="555.81" y="65.30" width="2.30" height="6.10" fill="#e8a52a"/>
<rect x="557.81" y="65.30" width="2.30" height="6.10" fill="#e8a52a"/>
<rect x="559.81" y="65.30" width="2.30" height="6.10" fill="#e8a52a"/>
<rect x="561.81" y="65.30" width="2.30" height="6.10" fill="#cc4a1e"/>
<rect x="563.81" y="65.30" width="2.30" height="6.10" fill="#cc4a1e"/>
<rect x="565.81" y="65.30" width="2.30" height="6.10" fill="#cc4a1e"/>
<rect x="567.80" y="65.30" width="2.30" height="6.10" fill="#e8a52a"/>
<rect x="569.80" y="65.30" width="2.30" height="6.10" fill="#e8a52a"/>
<rect x="571.80" y="65.30" width="2.30" height="6.10" fill="#e8a52a"/>
<rect x="453.90" y="71.10" width="2.30" height="6.10" fill="#f2e232"/>
<rect x="455.90" y="71.10" width="2.30" height="6.10" fill="#cc4a1e"/>
<rect x="457.90" y="71.10" width="2.30" height="6.10" fill="#e8a52a"/>
<rect x="459.89" y="71.10" width="2.30" height="6.10" fill="#e8a52a"/>
<rect x="461.89" y="71.10" width="2.30" height="6.10" fill="#e8a52a"/>
<rect x="463.89" y="71.10" width="2.30" height="6.10" fill="#e8a52a"/>
<rect x="465.89" y="71.10" width="2.30" height="6.10" fill="#c2d448"/>
<rect x="467.89" y="71.10" width="2.30" height="6.10" fill="#e8a52a"/>
<rect x="469.89" y="71.10" width="2.30" height="6.10" fill="#f2e232"/>
<rect x="471.88" y="71.10" width="2.30" height="6.10" fill="#f2e232"/>
<rect x="473.88" y="71.10" width="2.30" height="6.10" fill="#f2e232"/>
<rect x="475.88" y="71.10" width="2.30" height="6.10" fill="#f2e232"/>
<rect x="477.88" y="71.10" width="2.30" height="6.10" fill="#e8a52a"/>
<rect x="479.88" y="71.10" width="2.30" height="6.10" fill="#f2e232"/>
<rect x="481.88" y="71.10" width="2.30" height="6.10" fill="#e8a52a"/>
<rect x="483.88" y="71.10" width="2.30" height="6.10" fill="#e8a52a"/>
<rect x="485.87" y="71.10" width="2.30" height="6.10" fill="#f2e232"/>
<rect x="487.87" y="71.10" width="2.30" height="6.10" fill="#f2e232"/>
<rect x="489.87" y="71.10" width="2.30" height="6.10" fill="#f2e232"/>
<rect x="491.87" y="71.10" width="2.30" height="6.10" fill="#f2e232"/>
<rect x="493.87" y="71.10" width="2.30" height="6.10" fill="#c2d448"/>
<rect x="495.86" y="71.10" width="2.30" height="6.10" fill="#f2e232"/>
<rect x="497.86" y="71.10" width="2.30" height="6.10" fill="#e8a52a"/>
<rect x="499.86" y="71.10" width="2.30" height="6.10" fill="#e8a52a"/>
<rect x="501.86" y="71.10" width="2.30" height="6.10" fill="#e8a52a"/>
<rect x="503.86" y="71.10" width="2.30" height="6.10" fill="#e8a52a"/>
<rect x="505.86" y="71.10" width="2.30" height="6.10" fill="#f2e232"/>
<rect x="507.85" y="71.10" width="2.30" height="6.10" fill="#e8a52a"/>
<rect x="509.85" y="71.10" width="2.30" height="6.10" fill="#e8a52a"/>
<rect x="511.85" y="71.10" width="2.30" height="6.10" fill="#e8a52a"/>
<rect x="513.85" y="71.10" width="2.30" height="6.10" fill="#f2e232"/>
<rect x="515.85" y="71.10" width="2.30" height="6.10" fill="#e8a52a"/>
<rect x="517.85" y="71.10" width="2.30" height="6.10" fill="#cc4a1e"/>
<rect x="519.84" y="71.10" width="2.30" height="6.10" fill="#e8a52a"/>
<rect x="521.84" y="71.10" width="2.30" height="6.10" fill="#e8a52a"/>
<rect x="523.84" y="71.10" width="2.30" height="6.10" fill="#e8a52a"/>
<rect x="525.84" y="71.10" width="2.30" height="6.10" fill="#e8a52a"/>
<rect x="527.84" y="71.10" width="2.30" height="6.10" fill="#e8a52a"/>
<rect x="529.84" y="71.10" width="2.30" height="6.10" fill="#e8a52a"/>
<rect x="531.83" y="71.10" width="2.30" height="6.10" fill="#e8a52a"/>
<rect x="533.83" y="71.10" width="2.30" height="6.10" fill="#e8a52a"/>
<rect x="535.83" y="71.10" width="2.30" height="6.10" fill="#e8a52a"/>
<rect x="537.83" y="71.10" width="2.30" height="6.10" fill="#f2e232"/>
<rect x="539.83" y="71.10" width="2.30" height="6.10" fill="#e8a52a"/>
<rect x="541.83" y="71.10" width="2.30" height="6.10" fill="#e8a52a"/>
<rect x="543.82" y="71.10" width="2.30" height="6.10" fill="#e8a52a"/>
<rect x="545.82" y="71.10" width="2.30" height="6.10" fill="#e8a52a"/>
<rect x="547.82" y="71.10" width="2.30" height="6.10" fill="#f2e232"/>
<rect x="549.82" y="71.10" width="2.30" height="6.10" fill="#cc4a1e"/>
<rect x="551.82" y="71.10" width="2.30" height="6.10" fill="#e8a52a"/>
<rect x="553.82" y="71.10" width="2.30" height="6.10" fill="#cc4a1e"/>
<rect x="555.81" y="71.10" width="2.30" height="6.10" fill="#f2e232"/>
<rect x="557.81" y="71.10" width="2.30" height="6.10" fill="#f2e232"/>
<rect x="559.81" y="71.10" width="2.30" height="6.10" fill="#cc4a1e"/>
<rect x="561.81" y="71.10" width="2.30" height="6.10" fill="#e8a52a"/>
<rect x="563.81" y="71.10" width="2.30" height="6.10" fill="#e8a52a"/>
<rect x="565.81" y="71.10" width="2.30" height="6.10" fill="#e8a52a"/>
<rect x="567.80" y="71.10" width="2.30" height="6.10" fill="#e8a52a"/>
<rect x="569.80" y="71.10" width="2.30" height="6.10" fill="#e8a52a"/>
<rect x="571.80" y="71.10" width="2.30" height="6.10" fill="#e8a52a"/>
<rect x="453.90" y="76.90" width="2.30" height="6.10" fill="#f2e232"/>
<rect x="455.90" y="76.90" width="2.30" height="6.10" fill="#e8a52a"/>
<rect x="457.90" y="76.90" width="2.30" height="6.10" fill="#f2e232"/>
<rect x="459.89" y="76.90" width="2.30" height="6.10" fill="#f2e232"/>
<rect x="461.89" y="76.90" width="2.30" height="6.10" fill="#f2e232"/>
<rect x="463.89" y="76.90" width="2.30" height="6.10" fill="#e8a52a"/>
<rect x="465.89" y="76.90" width="2.30" height="6.10" fill="#f2e232"/>
<rect x="467.89" y="76.90" width="2.30" height="6.10" fill="#f2e232"/>
<rect x="469.89" y="76.90" width="2.30" height="6.10" fill="#e8a52a"/>
<rect x="471.88" y="76.90" width="2.30" height="6.10" fill="#e8a52a"/>
<rect x="473.88" y="76.90" width="2.30" height="6.10" fill="#e8a52a"/>
<rect x="475.88" y="76.90" width="2.30" height="6.10" fill="#f2e232"/>
<rect x="477.88" y="76.90" width="2.30" height="6.10" fill="#f2e232"/>
<rect x="479.88" y="76.90" width="2.30" height="6.10" fill="#e8a52a"/>
<rect x="481.88" y="76.90" width="2.30" height="6.10" fill="#c2d448"/>
<rect x="483.88" y="76.90" width="2.30" height="6.10" fill="#f2e232"/>
<rect x="485.87" y="76.90" width="2.30" height="6.10" fill="#e8a52a"/>
<rect x="487.87" y="76.90" width="2.30" height="6.10" fill="#f2e232"/>
<rect x="489.87" y="76.90" width="2.30" height="6.10" fill="#f2e232"/>
<rect x="491.87" y="76.90" width="2.30" height="6.10" fill="#e8a52a"/>
<rect x="493.87" y="76.90" width="2.30" height="6.10" fill="#e8a52a"/>
<rect x="495.86" y="76.90" width="2.30" height="6.10" fill="#f2e232"/>
<rect x="497.86" y="76.90" width="2.30" height="6.10" fill="#f2e232"/>
<rect x="499.86" y="76.90" width="2.30" height="6.10" fill="#f2e232"/>
<rect x="501.86" y="76.90" width="2.30" height="6.10" fill="#e8a52a"/>
<rect x="503.86" y="76.90" width="2.30" height="6.10" fill="#e8a52a"/>
<rect x="505.86" y="76.90" width="2.30" height="6.10" fill="#f2e232"/>
<rect x="507.85" y="76.90" width="2.30" height="6.10" fill="#f2e232"/>
<rect x="509.85" y="76.90" width="2.30" height="6.10" fill="#c2d448"/>
<rect x="511.85" y="76.90" width="2.30" height="6.10" fill="#f2e232"/>
<rect x="513.85" y="76.90" width="2.30" height="6.10" fill="#f2e232"/>
<rect x="515.85" y="76.90" width="2.30" height="6.10" fill="#f2e232"/>
<rect x="517.85" y="76.90" width="2.30" height="6.10" fill="#f2e232"/>
<rect x="519.84" y="76.90" width="2.30" height="6.10" fill="#f2e232"/>
<rect x="521.84" y="76.90" width="2.30" height="6.10" fill="#e8a52a"/>
<rect x="523.84" y="76.90" width="2.30" height="6.10" fill="#c2d448"/>
<rect x="525.84" y="76.90" width="2.30" height="6.10" fill="#cc4a1e"/>
<rect x="527.84" y="76.90" width="2.30" height="6.10" fill="#e8a52a"/>
<rect x="529.84" y="76.90" width="2.30" height="6.10" fill="#e8a52a"/>
<rect x="531.83" y="76.90" width="2.30" height="6.10" fill="#c2d448"/>
<rect x="533.83" y="76.90" width="2.30" height="6.10" fill="#f2e232"/>
<rect x="535.83" y="76.90" width="2.30" height="6.10" fill="#e8a52a"/>
<rect x="537.83" y="76.90" width="2.30" height="6.10" fill="#e8a52a"/>
<rect x="539.83" y="76.90" width="2.30" height="6.10" fill="#c2d448"/>
<rect x="541.83" y="76.90" width="2.30" height="6.10" fill="#e8a52a"/>
<rect x="543.82" y="76.90" width="2.30" height="6.10" fill="#e8a52a"/>
<rect x="545.82" y="76.90" width="2.30" height="6.10" fill="#e8a52a"/>
<rect x="547.82" y="76.90" width="2.30" height="6.10" fill="#f2e232"/>
<rect x="549.82" y="76.90" width="2.30" height="6.10" fill="#f2e232"/>
<rect x="551.82" y="76.90" width="2.30" height="6.10" fill="#f2e232"/>
<rect x="553.82" y="76.90" width="2.30" height="6.10" fill="#e8a52a"/>
<rect x="555.81" y="76.90" width="2.30" height="6.10" fill="#e8a52a"/>
<rect x="557.81" y="76.90" width="2.30" height="6.10" fill="#e8a52a"/>
<rect x="559.81" y="76.90" width="2.30" height="6.10" fill="#e8a52a"/>
<rect x="561.81" y="76.90" width="2.30" height="6.10" fill="#f2e232"/>
<rect x="563.81" y="76.90" width="2.30" height="6.10" fill="#f2e232"/>
<rect x="565.81" y="76.90" width="2.30" height="6.10" fill="#f2e232"/>
<rect x="567.80" y="76.90" width="2.30" height="6.10" fill="#e8a52a"/>
<rect x="569.80" y="76.90" width="2.30" height="6.10" fill="#e8a52a"/>
<rect x="571.80" y="76.90" width="2.30" height="6.10" fill="#f2e232"/>
<rect x="453.90" y="82.70" width="2.30" height="6.10" fill="#e8a52a"/>
<rect x="455.90" y="82.70" width="2.30" height="6.10" fill="#f2e232"/>
<rect x="457.90" y="82.70" width="2.30" height="6.10" fill="#f2e232"/>
<rect x="459.89" y="82.70" width="2.30" height="6.10" fill="#e8a52a"/>
<rect x="461.89" y="82.70" width="2.30" height="6.10" fill="#e8a52a"/>
<rect x="463.89" y="82.70" width="2.30" height="6.10" fill="#f2e232"/>
<rect x="465.89" y="82.70" width="2.30" height="6.10" fill="#e8a52a"/>
<rect x="467.89" y="82.70" width="2.30" height="6.10" fill="#f2e232"/>
<rect x="469.89" y="82.70" width="2.30" height="6.10" fill="#e8a52a"/>
<rect x="471.88" y="82.70" width="2.30" height="6.10" fill="#e8a52a"/>
<rect x="473.88" y="82.70" width="2.30" height="6.10" fill="#e8a52a"/>
<rect x="475.88" y="82.70" width="2.30" height="6.10" fill="#e8a52a"/>
<rect x="477.88" y="82.70" width="2.30" height="6.10" fill="#e8a52a"/>
<rect x="479.88" y="82.70" width="2.30" height="6.10" fill="#f2e232"/>
<rect x="481.88" y="82.70" width="2.30" height="6.10" fill="#e8a52a"/>
<rect x="483.88" y="82.70" width="2.30" height="6.10" fill="#f2e232"/>
<rect x="485.87" y="82.70" width="2.30" height="6.10" fill="#cc4a1e"/>
<rect x="487.87" y="82.70" width="2.30" height="6.10" fill="#e8a52a"/>
<rect x="489.87" y="82.70" width="2.30" height="6.10" fill="#f2e232"/>
<rect x="491.87" y="82.70" width="2.30" height="6.10" fill="#f2e232"/>
<rect x="493.87" y="82.70" width="2.30" height="6.10" fill="#cc4a1e"/>
<rect x="495.86" y="82.70" width="2.30" height="6.10" fill="#e8a52a"/>
<rect x="497.86" y="82.70" width="2.30" height="6.10" fill="#e8a52a"/>
<rect x="499.86" y="82.70" width="2.30" height="6.10" fill="#f2e232"/>
<rect x="501.86" y="82.70" width="2.30" height="6.10" fill="#f2e232"/>
<rect x="503.86" y="82.70" width="2.30" height="6.10" fill="#f2e232"/>
<rect x="505.86" y="82.70" width="2.30" height="6.10" fill="#e8a52a"/>
<rect x="507.85" y="82.70" width="2.30" height="6.10" fill="#f2e232"/>
<rect x="509.85" y="82.70" width="2.30" height="6.10" fill="#cc4a1e"/>
<rect x="511.85" y="82.70" width="2.30" height="6.10" fill="#e8a52a"/>
<rect x="513.85" y="82.70" width="2.30" height="6.10" fill="#f2e232"/>
<rect x="515.85" y="82.70" width="2.30" height="6.10" fill="#e8a52a"/>
<rect x="517.85" y="82.70" width="2.30" height="6.10" fill="#c2d448"/>
<rect x="519.84" y="82.70" width="2.30" height="6.10" fill="#f2e232"/>
<rect x="521.84" y="82.70" width="2.30" height="6.10" fill="#f2e232"/>
<rect x="523.84" y="82.70" width="2.30" height="6.10" fill="#e8a52a"/>
<rect x="525.84" y="82.70" width="2.30" height="6.10" fill="#e8a52a"/>
<rect x="527.84" y="82.70" width="2.30" height="6.10" fill="#e8a52a"/>
<rect x="529.84" y="82.70" width="2.30" height="6.10" fill="#f2e232"/>
<rect x="531.83" y="82.70" width="2.30" height="6.10" fill="#f2e232"/>
<rect x="533.83" y="82.70" width="2.30" height="6.10" fill="#f2e232"/>
<rect x="535.83" y="82.70" width="2.30" height="6.10" fill="#e8a52a"/>
<rect x="537.83" y="82.70" width="2.30" height="6.10" fill="#f2e232"/>
<rect x="539.83" y="82.70" width="2.30" height="6.10" fill="#e8a52a"/>
<rect x="541.83" y="82.70" width="2.30" height="6.10" fill="#cc4a1e"/>
<rect x="543.82" y="82.70" width="2.30" height="6.10" fill="#e8a52a"/>
<rect x="545.82" y="82.70" width="2.30" height="6.10" fill="#e8a52a"/>
<rect x="547.82" y="82.70" width="2.30" height="6.10" fill="#f2e232"/>
<rect x="549.82" y="82.70" width="2.30" height="6.10" fill="#e8a52a"/>
<rect x="551.82" y="82.70" width="2.30" height="6.10" fill="#e8a52a"/>
<rect x="553.82" y="82.70" width="2.30" height="6.10" fill="#e8a52a"/>
<rect x="555.81" y="82.70" width="2.30" height="6.10" fill="#e8a52a"/>
<rect x="557.81" y="82.70" width="2.30" height="6.10" fill="#f2e232"/>
<rect x="559.81" y="82.70" width="2.30" height="6.10" fill="#cc4a1e"/>
<rect x="561.81" y="82.70" width="2.30" height="6.10" fill="#f2e232"/>
<rect x="563.81" y="82.70" width="2.30" height="6.10" fill="#e8a52a"/>
<rect x="565.81" y="82.70" width="2.30" height="6.10" fill="#f2e232"/>
<rect x="567.80" y="82.70" width="2.30" height="6.10" fill="#c2d448"/>
<rect x="569.80" y="82.70" width="2.30" height="6.10" fill="#e8a52a"/>
<rect x="571.80" y="82.70" width="2.30" height="6.10" fill="#e8a52a"/>
</g>
<g filter="url(#hblur)">
<rect x="453.90" y="94.70" width="2.30" height="6.16" fill="#f2e232"/>
<rect x="455.90" y="94.70" width="2.30" height="6.16" fill="#f2e232"/>
<rect x="457.90" y="94.70" width="2.30" height="6.16" fill="#f2e232"/>
<rect x="459.89" y="94.70" width="2.30" height="6.16" fill="#f2e232"/>
<rect x="461.89" y="94.70" width="2.30" height="6.16" fill="#e8a52a"/>
<rect x="463.89" y="94.70" width="2.30" height="6.16" fill="#f2e232"/>
<rect x="465.89" y="94.70" width="2.30" height="6.16" fill="#e8a52a"/>
<rect x="467.89" y="94.70" width="2.30" height="6.16" fill="#e8a52a"/>
<rect x="469.89" y="94.70" width="2.30" height="6.16" fill="#f2e232"/>
<rect x="471.88" y="94.70" width="2.30" height="6.16" fill="#f2e232"/>
<rect x="473.88" y="94.70" width="2.30" height="6.16" fill="#e8a52a"/>
<rect x="475.88" y="94.70" width="2.30" height="6.16" fill="#e8a52a"/>
<rect x="477.88" y="94.70" width="2.30" height="6.16" fill="#cc4a1e"/>
<rect x="479.88" y="94.70" width="2.30" height="6.16" fill="#e8a52a"/>
<rect x="481.88" y="94.70" width="2.30" height="6.16" fill="#e8a52a"/>
<rect x="483.88" y="94.70" width="2.30" height="6.16" fill="#f2e232"/>
<rect x="485.87" y="94.70" width="2.30" height="6.16" fill="#f2e232"/>
<rect x="487.87" y="94.70" width="2.30" height="6.16" fill="#c2d448"/>
<rect x="489.87" y="94.70" width="2.30" height="6.16" fill="#f2e232"/>
<rect x="491.87" y="94.70" width="2.30" height="6.16" fill="#f2e232"/>
<rect x="493.87" y="94.70" width="2.30" height="6.16" fill="#f2e232"/>
<rect x="495.86" y="94.70" width="2.30" height="6.16" fill="#c2d448"/>
<rect x="497.86" y="94.70" width="2.30" height="6.16" fill="#e8a52a"/>
<rect x="499.86" y="94.70" width="2.30" height="6.16" fill="#f2e232"/>
<rect x="501.86" y="94.70" width="2.30" height="6.16" fill="#f2e232"/>
<rect x="503.86" y="94.70" width="2.30" height="6.16" fill="#c2d448"/>
<rect x="505.86" y="94.70" width="2.30" height="6.16" fill="#e8a52a"/>
<rect x="507.85" y="94.70" width="2.30" height="6.16" fill="#f2e232"/>
<rect x="509.85" y="94.70" width="2.30" height="6.16" fill="#c2d448"/>
<rect x="511.85" y="94.70" width="2.30" height="6.16" fill="#c2d448"/>
<rect x="513.85" y="94.70" width="2.30" height="6.16" fill="#e8a52a"/>
<rect x="515.85" y="94.70" width="2.30" height="6.16" fill="#c2d448"/>
<rect x="517.85" y="94.70" width="2.30" height="6.16" fill="#f2e232"/>
<rect x="519.84" y="94.70" width="2.30" height="6.16" fill="#f2e232"/>
<rect x="521.84" y="94.70" width="2.30" height="6.16" fill="#8cbf8e"/>
<rect x="523.84" y="94.70" width="2.30" height="6.16" fill="#f2e232"/>
<rect x="525.84" y="94.70" width="2.30" height="6.16" fill="#c2d448"/>
<rect x="527.84" y="94.70" width="2.30" height="6.16" fill="#c2d448"/>
<rect x="529.84" y="94.70" width="2.30" height="6.16" fill="#c2d448"/>
<rect x="531.83" y="94.70" width="2.30" height="6.16" fill="#f2e232"/>
<rect x="533.83" y="94.70" width="2.30" height="6.16" fill="#c2d448"/>
<rect x="535.83" y="94.70" width="2.30" height="6.16" fill="#f2e232"/>
<rect x="537.83" y="94.70" width="2.30" height="6.16" fill="#c2d448"/>
<rect x="539.83" y="94.70" width="2.30" height="6.16" fill="#f2e232"/>
<rect x="541.83" y="94.70" width="2.30" height="6.16" fill="#f2e232"/>
<rect x="543.82" y="94.70" width="2.30" height="6.16" fill="#f2e232"/>
<rect x="545.82" y="94.70" width="2.30" height="6.16" fill="#f2e232"/>
<rect x="547.82" y="94.70" width="2.30" height="6.16" fill="#f2e232"/>
<rect x="549.82" y="94.70" width="2.30" height="6.16" fill="#e8a52a"/>
<rect x="551.82" y="94.70" width="2.30" height="6.16" fill="#f2e232"/>
<rect x="553.82" y="94.70" width="2.30" height="6.16" fill="#f2e232"/>
<rect x="555.81" y="94.70" width="2.30" height="6.16" fill="#f2e232"/>
<rect x="557.81" y="94.70" width="2.30" height="6.16" fill="#f2e232"/>
<rect x="559.81" y="94.70" width="2.30" height="6.16" fill="#f2e232"/>
<rect x="561.81" y="94.70" width="2.30" height="6.16" fill="#8cbf8e"/>
<rect x="563.81" y="94.70" width="2.30" height="6.16" fill="#c2d448"/>
<rect x="565.81" y="94.70" width="2.30" height="6.16" fill="#f2e232"/>
<rect x="567.80" y="94.70" width="2.30" height="6.16" fill="#8cbf8e"/>
<rect x="569.80" y="94.70" width="2.30" height="6.16" fill="#8cbf8e"/>
<rect x="571.80" y="94.70" width="2.30" height="6.16" fill="#f2e232"/>
<rect x="453.90" y="100.56" width="2.30" height="6.16" fill="#f2e232"/>
<rect x="455.90" y="100.56" width="2.30" height="6.16" fill="#f2e232"/>
<rect x="457.90" y="100.56" width="2.30" height="6.16" fill="#e8a52a"/>
<rect x="459.89" y="100.56" width="2.30" height="6.16" fill="#f2e232"/>
<rect x="461.89" y="100.56" width="2.30" height="6.16" fill="#f2e232"/>
<rect x="463.89" y="100.56" width="2.30" height="6.16" fill="#f2e232"/>
<rect x="465.89" y="100.56" width="2.30" height="6.16" fill="#f2e232"/>
<rect x="467.89" y="100.56" width="2.30" height="6.16" fill="#f2e232"/>
<rect x="469.89" y="100.56" width="2.30" height="6.16" fill="#e8a52a"/>
<rect x="471.88" y="100.56" width="2.30" height="6.16" fill="#e8a52a"/>
<rect x="473.88" y="100.56" width="2.30" height="6.16" fill="#e8a52a"/>
<rect x="475.88" y="100.56" width="2.30" height="6.16" fill="#cc4a1e"/>
<rect x="477.88" y="100.56" width="2.30" height="6.16" fill="#e8a52a"/>
<rect x="479.88" y="100.56" width="2.30" height="6.16" fill="#e8a52a"/>
<rect x="481.88" y="100.56" width="2.30" height="6.16" fill="#e8a52a"/>
<rect x="483.88" y="100.56" width="2.30" height="6.16" fill="#f2e232"/>
<rect x="485.87" y="100.56" width="2.30" height="6.16" fill="#e8a52a"/>
<rect x="487.87" y="100.56" width="2.30" height="6.16" fill="#e8a52a"/>
<rect x="489.87" y="100.56" width="2.30" height="6.16" fill="#f2e232"/>
<rect x="491.87" y="100.56" width="2.30" height="6.16" fill="#e8a52a"/>
<rect x="493.87" y="100.56" width="2.30" height="6.16" fill="#e8a52a"/>
<rect x="495.86" y="100.56" width="2.30" height="6.16" fill="#e8a52a"/>
<rect x="497.86" y="100.56" width="2.30" height="6.16" fill="#f2e232"/>
<rect x="499.86" y="100.56" width="2.30" height="6.16" fill="#c2d448"/>
<rect x="501.86" y="100.56" width="2.30" height="6.16" fill="#e8a52a"/>
<rect x="503.86" y="100.56" width="2.30" height="6.16" fill="#f2e232"/>
<rect x="505.86" y="100.56" width="2.30" height="6.16" fill="#c2d448"/>
<rect x="507.85" y="100.56" width="2.30" height="6.16" fill="#e8a52a"/>
<rect x="509.85" y="100.56" width="2.30" height="6.16" fill="#f2e232"/>
<rect x="511.85" y="100.56" width="2.30" height="6.16" fill="#e8a52a"/>
<rect x="513.85" y="100.56" width="2.30" height="6.16" fill="#f2e232"/>
<rect x="515.85" y="100.56" width="2.30" height="6.16" fill="#e8a52a"/>
<rect x="517.85" y="100.56" width="2.30" height="6.16" fill="#f2e232"/>
<rect x="519.84" y="100.56" width="2.30" height="6.16" fill="#f2e232"/>
<rect x="521.84" y="100.56" width="2.30" height="6.16" fill="#f2e232"/>
<rect x="523.84" y="100.56" width="2.30" height="6.16" fill="#e8a52a"/>
<rect x="525.84" y="100.56" width="2.30" height="6.16" fill="#c2d448"/>
<rect x="527.84" y="100.56" width="2.30" height="6.16" fill="#e8a52a"/>
<rect x="529.84" y="100.56" width="2.30" height="6.16" fill="#f2e232"/>
<rect x="531.83" y="100.56" width="2.30" height="6.16" fill="#f2e232"/>
<rect x="533.83" y="100.56" width="2.30" height="6.16" fill="#f2e232"/>
<rect x="535.83" y="100.56" width="2.30" height="6.16" fill="#f2e232"/>
<rect x="537.83" y="100.56" width="2.30" height="6.16" fill="#f2e232"/>
<rect x="539.83" y="100.56" width="2.30" height="6.16" fill="#e8a52a"/>
<rect x="541.83" y="100.56" width="2.30" height="6.16" fill="#f2e232"/>
<rect x="543.82" y="100.56" width="2.30" height="6.16" fill="#f2e232"/>
<rect x="545.82" y="100.56" width="2.30" height="6.16" fill="#e8a52a"/>
<rect x="547.82" y="100.56" width="2.30" height="6.16" fill="#f2e232"/>
<rect x="549.82" y="100.56" width="2.30" height="6.16" fill="#e8a52a"/>
<rect x="551.82" y="100.56" width="2.30" height="6.16" fill="#f2e232"/>
<rect x="553.82" y="100.56" width="2.30" height="6.16" fill="#f2e232"/>
<rect x="555.81" y="100.56" width="2.30" height="6.16" fill="#e8a52a"/>
<rect x="557.81" y="100.56" width="2.30" height="6.16" fill="#f2e232"/>
<rect x="559.81" y="100.56" width="2.30" height="6.16" fill="#f2e232"/>
<rect x="561.81" y="100.56" width="2.30" height="6.16" fill="#f2e232"/>
<rect x="563.81" y="100.56" width="2.30" height="6.16" fill="#f2e232"/>
<rect x="565.81" y="100.56" width="2.30" height="6.16" fill="#f2e232"/>
<rect x="567.80" y="100.56" width="2.30" height="6.16" fill="#f2e232"/>
<rect x="569.80" y="100.56" width="2.30" height="6.16" fill="#c2d448"/>
<rect x="571.80" y="100.56" width="2.30" height="6.16" fill="#c2d448"/>
<rect x="453.90" y="106.42" width="2.30" height="6.16" fill="#f2e232"/>
<rect x="455.90" y="106.42" width="2.30" height="6.16" fill="#f2e232"/>
<rect x="457.90" y="106.42" width="2.30" height="6.16" fill="#f2e232"/>
<rect x="459.89" y="106.42" width="2.30" height="6.16" fill="#e8a52a"/>
<rect x="461.89" y="106.42" width="2.30" height="6.16" fill="#f2e232"/>
<rect x="463.89" y="106.42" width="2.30" height="6.16" fill="#f2e232"/>
<rect x="465.89" y="106.42" width="2.30" height="6.16" fill="#e8a52a"/>
<rect x="467.89" y="106.42" width="2.30" height="6.16" fill="#e8a52a"/>
<rect x="469.89" y="106.42" width="2.30" height="6.16" fill="#f2e232"/>
<rect x="471.88" y="106.42" width="2.30" height="6.16" fill="#e8a52a"/>
<rect x="473.88" y="106.42" width="2.30" height="6.16" fill="#f2e232"/>
<rect x="475.88" y="106.42" width="2.30" height="6.16" fill="#f2e232"/>
<rect x="477.88" y="106.42" width="2.30" height="6.16" fill="#f2e232"/>
<rect x="479.88" y="106.42" width="2.30" height="6.16" fill="#e8a52a"/>
<rect x="481.88" y="106.42" width="2.30" height="6.16" fill="#f2e232"/>
<rect x="483.88" y="106.42" width="2.30" height="6.16" fill="#f2e232"/>
<rect x="485.87" y="106.42" width="2.30" height="6.16" fill="#e8a52a"/>
<rect x="487.87" y="106.42" width="2.30" height="6.16" fill="#e8a52a"/>
<rect x="489.87" y="106.42" width="2.30" height="6.16" fill="#e8a52a"/>
<rect x="491.87" y="106.42" width="2.30" height="6.16" fill="#f2e232"/>
<rect x="493.87" y="106.42" width="2.30" height="6.16" fill="#e8a52a"/>
<rect x="495.86" y="106.42" width="2.30" height="6.16" fill="#f2e232"/>
<rect x="497.86" y="106.42" width="2.30" height="6.16" fill="#e8a52a"/>
<rect x="499.86" y="106.42" width="2.30" height="6.16" fill="#e8a52a"/>
<rect x="501.86" y="106.42" width="2.30" height="6.16" fill="#c2d448"/>
<rect x="503.86" y="106.42" width="2.30" height="6.16" fill="#f2e232"/>
<rect x="505.86" y="106.42" width="2.30" height="6.16" fill="#c2d448"/>
<rect x="507.85" y="106.42" width="2.30" height="6.16" fill="#f2e232"/>
<rect x="509.85" y="106.42" width="2.30" height="6.16" fill="#f2e232"/>
<rect x="511.85" y="106.42" width="2.30" height="6.16" fill="#c2d448"/>
<rect x="513.85" y="106.42" width="2.30" height="6.16" fill="#c2d448"/>
<rect x="515.85" y="106.42" width="2.30" height="6.16" fill="#f2e232"/>
<rect x="517.85" y="106.42" width="2.30" height="6.16" fill="#8cbf8e"/>
<rect x="519.84" y="106.42" width="2.30" height="6.16" fill="#c2d448"/>
<rect x="521.84" y="106.42" width="2.30" height="6.16" fill="#c2d448"/>
<rect x="523.84" y="106.42" width="2.30" height="6.16" fill="#8cbf8e"/>
<rect x="525.84" y="106.42" width="2.30" height="6.16" fill="#c2d448"/>
<rect x="527.84" y="106.42" width="2.30" height="6.16" fill="#c2d448"/>
<rect x="529.84" y="106.42" width="2.30" height="6.16" fill="#c2d448"/>
<rect x="531.83" y="106.42" width="2.30" height="6.16" fill="#c2d448"/>
<rect x="533.83" y="106.42" width="2.30" height="6.16" fill="#c2d448"/>
<rect x="535.83" y="106.42" width="2.30" height="6.16" fill="#8cbf8e"/>
<rect x="537.83" y="106.42" width="2.30" height="6.16" fill="#c2d448"/>
<rect x="539.83" y="106.42" width="2.30" height="6.16" fill="#8cbf8e"/>
<rect x="541.83" y="106.42" width="2.30" height="6.16" fill="#8cbf8e"/>
<rect x="543.82" y="106.42" width="2.30" height="6.16" fill="#c2d448"/>
<rect x="545.82" y="106.42" width="2.30" height="6.16" fill="#c2d448"/>
<rect x="547.82" y="106.42" width="2.30" height="6.16" fill="#8cbf8e"/>
<rect x="549.82" y="106.42" width="2.30" height="6.16" fill="#c2d448"/>
<rect x="551.82" y="106.42" width="2.30" height="6.16" fill="#f2e232"/>
<rect x="553.82" y="106.42" width="2.30" height="6.16" fill="#c2d448"/>
<rect x="555.81" y="106.42" width="2.30" height="6.16" fill="#c2d448"/>
<rect x="557.81" y="106.42" width="2.30" height="6.16" fill="#c2d448"/>
<rect x="559.81" y="106.42" width="2.30" height="6.16" fill="#8cbf8e"/>
<rect x="561.81" y="106.42" width="2.30" height="6.16" fill="#8cbf8e"/>
<rect x="563.81" y="106.42" width="2.30" height="6.16" fill="#c2d448"/>
<rect x="565.81" y="106.42" width="2.30" height="6.16" fill="#c2d448"/>
<rect x="567.80" y="106.42" width="2.30" height="6.16" fill="#8cbf8e"/>
<rect x="569.80" y="106.42" width="2.30" height="6.16" fill="#8cbf8e"/>
<rect x="571.80" y="106.42" width="2.30" height="6.16" fill="#8cbf8e"/>
<rect x="453.90" y="112.28" width="2.30" height="6.16" fill="#f2e232"/>
<rect x="455.90" y="112.28" width="2.30" height="6.16" fill="#f2e232"/>
<rect x="457.90" y="112.28" width="2.30" height="6.16" fill="#f2e232"/>
<rect x="459.89" y="112.28" width="2.30" height="6.16" fill="#e8a52a"/>
<rect x="461.89" y="112.28" width="2.30" height="6.16" fill="#f2e232"/>
<rect x="463.89" y="112.28" width="2.30" height="6.16" fill="#e8a52a"/>
<rect x="465.89" y="112.28" width="2.30" height="6.16" fill="#cc4a1e"/>
<rect x="467.89" y="112.28" width="2.30" height="6.16" fill="#f2e232"/>
<rect x="469.89" y="112.28" width="2.30" height="6.16" fill="#e8a52a"/>
<rect x="471.88" y="112.28" width="2.30" height="6.16" fill="#f2e232"/>
<rect x="473.88" y="112.28" width="2.30" height="6.16" fill="#f2e232"/>
<rect x="475.88" y="112.28" width="2.30" height="6.16" fill="#e8a52a"/>
<rect x="477.88" y="112.28" width="2.30" height="6.16" fill="#f2e232"/>
<rect x="479.88" y="112.28" width="2.30" height="6.16" fill="#f2e232"/>
<rect x="481.88" y="112.28" width="2.30" height="6.16" fill="#f2e232"/>
<rect x="483.88" y="112.28" width="2.30" height="6.16" fill="#e8a52a"/>
<rect x="485.87" y="112.28" width="2.30" height="6.16" fill="#f2e232"/>
<rect x="487.87" y="112.28" width="2.30" height="6.16" fill="#e8a52a"/>
<rect x="489.87" y="112.28" width="2.30" height="6.16" fill="#e8a52a"/>
<rect x="491.87" y="112.28" width="2.30" height="6.16" fill="#f2e232"/>
<rect x="493.87" y="112.28" width="2.30" height="6.16" fill="#f2e232"/>
<rect x="495.86" y="112.28" width="2.30" height="6.16" fill="#e8a52a"/>
<rect x="497.86" y="112.28" width="2.30" height="6.16" fill="#f2e232"/>
<rect x="499.86" y="112.28" width="2.30" height="6.16" fill="#c2d448"/>
<rect x="501.86" y="112.28" width="2.30" height="6.16" fill="#f2e232"/>
<rect x="503.86" y="112.28" width="2.30" height="6.16" fill="#c2d448"/>
<rect x="505.86" y="112.28" width="2.30" height="6.16" fill="#c2d448"/>
<rect x="507.85" y="112.28" width="2.30" height="6.16" fill="#f2e232"/>
<rect x="509.85" y="112.28" width="2.30" height="6.16" fill="#c2d448"/>
<rect x="511.85" y="112.28" width="2.30" height="6.16" fill="#f2e232"/>
<rect x="513.85" y="112.28" width="2.30" height="6.16" fill="#c2d448"/>
<rect x="515.85" y="112.28" width="2.30" height="6.16" fill="#8cbf8e"/>
<rect x="517.85" y="112.28" width="2.30" height="6.16" fill="#8cbf8e"/>
<rect x="519.84" y="112.28" width="2.30" height="6.16" fill="#c2d448"/>
<rect x="521.84" y="112.28" width="2.30" height="6.16" fill="#8cbf8e"/>
<rect x="523.84" y="112.28" width="2.30" height="6.16" fill="#8cbf8e"/>
<rect x="525.84" y="112.28" width="2.30" height="6.16" fill="#8cbf8e"/>
<rect x="527.84" y="112.28" width="2.30" height="6.16" fill="#8cbf8e"/>
<rect x="529.84" y="112.28" width="2.30" height="6.16" fill="#8cbf8e"/>
<rect x="531.83" y="112.28" width="2.30" height="6.16" fill="#f2e232"/>
<rect x="533.83" y="112.28" width="2.30" height="6.16" fill="#8cbf8e"/>
<rect x="535.83" y="112.28" width="2.30" height="6.16" fill="#8cbf8e"/>
<rect x="537.83" y="112.28" width="2.30" height="6.16" fill="#8cbf8e"/>
<rect x="539.83" y="112.28" width="2.30" height="6.16" fill="#8cbf8e"/>
<rect x="541.83" y="112.28" width="2.30" height="6.16" fill="#8cbf8e"/>
<rect x="543.82" y="112.28" width="2.30" height="6.16" fill="#f2e232"/>
<rect x="545.82" y="112.28" width="2.30" height="6.16" fill="#8cbf8e"/>
<rect x="547.82" y="112.28" width="2.30" height="6.16" fill="#c2d448"/>
<rect x="549.82" y="112.28" width="2.30" height="6.16" fill="#c2d448"/>
<rect x="551.82" y="112.28" width="2.30" height="6.16" fill="#8cbf8e"/>
<rect x="553.82" y="112.28" width="2.30" height="6.16" fill="#8cbf8e"/>
<rect x="555.81" y="112.28" width="2.30" height="6.16" fill="#8cbf8e"/>
<rect x="557.81" y="112.28" width="2.30" height="6.16" fill="#8cbf8e"/>
<rect x="559.81" y="112.28" width="2.30" height="6.16" fill="#c2d448"/>
<rect x="561.81" y="112.28" width="2.30" height="6.16" fill="#c2d448"/>
<rect x="563.81" y="112.28" width="2.30" height="6.16" fill="#c2d448"/>
<rect x="565.81" y="112.28" width="2.30" height="6.16" fill="#8cbf8e"/>
<rect x="567.80" y="112.28" width="2.30" height="6.16" fill="#c2d448"/>
<rect x="569.80" y="112.28" width="2.30" height="6.16" fill="#8cbf8e"/>
<rect x="571.80" y="112.28" width="2.30" height="6.16" fill="#f2e232"/>
<rect x="453.90" y="118.14" width="2.30" height="6.16" fill="#f2e232"/>
<rect x="455.90" y="118.14" width="2.30" height="6.16" fill="#e8a52a"/>
<rect x="457.90" y="118.14" width="2.30" height="6.16" fill="#e8a52a"/>
<rect x="459.89" y="118.14" width="2.30" height="6.16" fill="#f2e232"/>
<rect x="461.89" y="118.14" width="2.30" height="6.16" fill="#f2e232"/>
<rect x="463.89" y="118.14" width="2.30" height="6.16" fill="#f2e232"/>
<rect x="465.89" y="118.14" width="2.30" height="6.16" fill="#e8a52a"/>
<rect x="467.89" y="118.14" width="2.30" height="6.16" fill="#f2e232"/>
<rect x="469.89" y="118.14" width="2.30" height="6.16" fill="#f2e232"/>
<rect x="471.88" y="118.14" width="2.30" height="6.16" fill="#e8a52a"/>
<rect x="473.88" y="118.14" width="2.30" height="6.16" fill="#f2e232"/>
<rect x="475.88" y="118.14" width="2.30" height="6.16" fill="#f2e232"/>
<rect x="477.88" y="118.14" width="2.30" height="6.16" fill="#f2e232"/>
<rect x="479.88" y="118.14" width="2.30" height="6.16" fill="#f2e232"/>
<rect x="481.88" y="118.14" width="2.30" height="6.16" fill="#f2e232"/>
<rect x="483.88" y="118.14" width="2.30" height="6.16" fill="#e8a52a"/>
<rect x="485.87" y="118.14" width="2.30" height="6.16" fill="#e8a52a"/>
<rect x="487.87" y="118.14" width="2.30" height="6.16" fill="#f2e232"/>
<rect x="489.87" y="118.14" width="2.30" height="6.16" fill="#f2e232"/>
<rect x="491.87" y="118.14" width="2.30" height="6.16" fill="#e8a52a"/>
<rect x="493.87" y="118.14" width="2.30" height="6.16" fill="#f2e232"/>
<rect x="495.86" y="118.14" width="2.30" height="6.16" fill="#f2e232"/>
<rect x="497.86" y="118.14" width="2.30" height="6.16" fill="#f2e232"/>
<rect x="499.86" y="118.14" width="2.30" height="6.16" fill="#cc4a1e"/>
<rect x="501.86" y="118.14" width="2.30" height="6.16" fill="#f2e232"/>
<rect x="503.86" y="118.14" width="2.30" height="6.16" fill="#f2e232"/>
<rect x="505.86" y="118.14" width="2.30" height="6.16" fill="#e8a52a"/>
<rect x="507.85" y="118.14" width="2.30" height="6.16" fill="#e8a52a"/>
<rect x="509.85" y="118.14" width="2.30" height="6.16" fill="#f2e232"/>
<rect x="511.85" y="118.14" width="2.30" height="6.16" fill="#e8a52a"/>
<rect x="513.85" y="118.14" width="2.30" height="6.16" fill="#c2d448"/>
<rect x="515.85" y="118.14" width="2.30" height="6.16" fill="#f2e232"/>
<rect x="517.85" y="118.14" width="2.30" height="6.16" fill="#c2d448"/>
<rect x="519.84" y="118.14" width="2.30" height="6.16" fill="#e8a52a"/>
<rect x="521.84" y="118.14" width="2.30" height="6.16" fill="#f2e232"/>
<rect x="523.84" y="118.14" width="2.30" height="6.16" fill="#cc4a1e"/>
<rect x="525.84" y="118.14" width="2.30" height="6.16" fill="#f2e232"/>
<rect x="527.84" y="118.14" width="2.30" height="6.16" fill="#e8a52a"/>
<rect x="529.84" y="118.14" width="2.30" height="6.16" fill="#f2e232"/>
<rect x="531.83" y="118.14" width="2.30" height="6.16" fill="#f2e232"/>
<rect x="533.83" y="118.14" width="2.30" height="6.16" fill="#f2e232"/>
<rect x="535.83" y="118.14" width="2.30" height="6.16" fill="#e8a52a"/>
<rect x="537.83" y="118.14" width="2.30" height="6.16" fill="#f2e232"/>
<rect x="539.83" y="118.14" width="2.30" height="6.16" fill="#c2d448"/>
<rect x="541.83" y="118.14" width="2.30" height="6.16" fill="#e8a52a"/>
<rect x="543.82" y="118.14" width="2.30" height="6.16" fill="#e8a52a"/>
<rect x="545.82" y="118.14" width="2.30" height="6.16" fill="#f2e232"/>
<rect x="547.82" y="118.14" width="2.30" height="6.16" fill="#f2e232"/>
<rect x="549.82" y="118.14" width="2.30" height="6.16" fill="#e8a52a"/>
<rect x="551.82" y="118.14" width="2.30" height="6.16" fill="#e8a52a"/>
<rect x="553.82" y="118.14" width="2.30" height="6.16" fill="#c2d448"/>
<rect x="555.81" y="118.14" width="2.30" height="6.16" fill="#f2e232"/>
<rect x="557.81" y="118.14" width="2.30" height="6.16" fill="#f2e232"/>
<rect x="559.81" y="118.14" width="2.30" height="6.16" fill="#e8a52a"/>
<rect x="561.81" y="118.14" width="2.30" height="6.16" fill="#f2e232"/>
<rect x="563.81" y="118.14" width="2.30" height="6.16" fill="#c2d448"/>
<rect x="565.81" y="118.14" width="2.30" height="6.16" fill="#f2e232"/>
<rect x="567.80" y="118.14" width="2.30" height="6.16" fill="#e8a52a"/>
<rect x="569.80" y="118.14" width="2.30" height="6.16" fill="#c2d448"/>
<rect x="571.80" y="118.14" width="2.30" height="6.16" fill="#c2d448"/>
<rect x="453.90" y="124.00" width="2.30" height="6.16" fill="#f2e232"/>
<rect x="455.90" y="124.00" width="2.30" height="6.16" fill="#f2e232"/>
<rect x="457.90" y="124.00" width="2.30" height="6.16" fill="#f2e232"/>
<rect x="459.89" y="124.00" width="2.30" height="6.16" fill="#c2d448"/>
<rect x="461.89" y="124.00" width="2.30" height="6.16" fill="#c2d448"/>
<rect x="463.89" y="124.00" width="2.30" height="6.16" fill="#f2e232"/>
<rect x="465.89" y="124.00" width="2.30" height="6.16" fill="#e8a52a"/>
<rect x="467.89" y="124.00" width="2.30" height="6.16" fill="#f2e232"/>
<rect x="469.89" y="124.00" width="2.30" height="6.16" fill="#e8a52a"/>
<rect x="471.88" y="124.00" width="2.30" height="6.16" fill="#cc4a1e"/>
<rect x="473.88" y="124.00" width="2.30" height="6.16" fill="#f2e232"/>
<rect x="475.88" y="124.00" width="2.30" height="6.16" fill="#f2e232"/>
<rect x="477.88" y="124.00" width="2.30" height="6.16" fill="#f2e232"/>
<rect x="479.88" y="124.00" width="2.30" height="6.16" fill="#e8a52a"/>
<rect x="481.88" y="124.00" width="2.30" height="6.16" fill="#e8a52a"/>
<rect x="483.88" y="124.00" width="2.30" height="6.16" fill="#e8a52a"/>
<rect x="485.87" y="124.00" width="2.30" height="6.16" fill="#f2e232"/>
<rect x="487.87" y="124.00" width="2.30" height="6.16" fill="#e8a52a"/>
<rect x="489.87" y="124.00" width="2.30" height="6.16" fill="#e8a52a"/>
<rect x="491.87" y="124.00" width="2.30" height="6.16" fill="#f2e232"/>
<rect x="493.87" y="124.00" width="2.30" height="6.16" fill="#e8a52a"/>
<rect x="495.86" y="124.00" width="2.30" height="6.16" fill="#c2d448"/>
<rect x="497.86" y="124.00" width="2.30" height="6.16" fill="#f2e232"/>
<rect x="499.86" y="124.00" width="2.30" height="6.16" fill="#f2e232"/>
<rect x="501.86" y="124.00" width="2.30" height="6.16" fill="#f2e232"/>
<rect x="503.86" y="124.00" width="2.30" height="6.16" fill="#e8a52a"/>
<rect x="505.86" y="124.00" width="2.30" height="6.16" fill="#f2e232"/>
<rect x="507.85" y="124.00" width="2.30" height="6.16" fill="#c2d448"/>
<rect x="509.85" y="124.00" width="2.30" height="6.16" fill="#c2d448"/>
<rect x="511.85" y="124.00" width="2.30" height="6.16" fill="#f2e232"/>
<rect x="513.85" y="124.00" width="2.30" height="6.16" fill="#f2e232"/>
<rect x="515.85" y="124.00" width="2.30" height="6.16" fill="#c2d448"/>
<rect x="517.85" y="124.00" width="2.30" height="6.16" fill="#c2d448"/>
<rect x="519.84" y="124.00" width="2.30" height="6.16" fill="#f2e232"/>
<rect x="521.84" y="124.00" width="2.30" height="6.16" fill="#c2d448"/>
<rect x="523.84" y="124.00" width="2.30" height="6.16" fill="#8cbf8e"/>
<rect x="525.84" y="124.00" width="2.30" height="6.16" fill="#8cbf8e"/>
<rect x="527.84" y="124.00" width="2.30" height="6.16" fill="#8cbf8e"/>
<rect x="529.84" y="124.00" width="2.30" height="6.16" fill="#c2d448"/>
<rect x="531.83" y="124.00" width="2.30" height="6.16" fill="#8cbf8e"/>
<rect x="533.83" y="124.00" width="2.30" height="6.16" fill="#f2e232"/>
<rect x="535.83" y="124.00" width="2.30" height="6.16" fill="#8cbf8e"/>
<rect x="537.83" y="124.00" width="2.30" height="6.16" fill="#f2e232"/>
<rect x="539.83" y="124.00" width="2.30" height="6.16" fill="#8cbf8e"/>
<rect x="541.83" y="124.00" width="2.30" height="6.16" fill="#f2e232"/>
<rect x="543.82" y="124.00" width="2.30" height="6.16" fill="#c2d448"/>
<rect x="545.82" y="124.00" width="2.30" height="6.16" fill="#f2e232"/>
<rect x="547.82" y="124.00" width="2.30" height="6.16" fill="#f2e232"/>
<rect x="549.82" y="124.00" width="2.30" height="6.16" fill="#f2e232"/>
<rect x="551.82" y="124.00" width="2.30" height="6.16" fill="#c2d448"/>
<rect x="553.82" y="124.00" width="2.30" height="6.16" fill="#8cbf8e"/>
<rect x="555.81" y="124.00" width="2.30" height="6.16" fill="#8cbf8e"/>
<rect x="557.81" y="124.00" width="2.30" height="6.16" fill="#90c6e0"/>
<rect x="559.81" y="124.00" width="2.30" height="6.16" fill="#f2e232"/>
<rect x="561.81" y="124.00" width="2.30" height="6.16" fill="#f2e232"/>
<rect x="563.81" y="124.00" width="2.30" height="6.16" fill="#c2d448"/>
<rect x="565.81" y="124.00" width="2.30" height="6.16" fill="#8cbf8e"/>
<rect x="567.80" y="124.00" width="2.30" height="6.16" fill="#e8a52a"/>
<rect x="569.80" y="124.00" width="2.30" height="6.16" fill="#8cbf8e"/>
<rect x="571.80" y="124.00" width="2.30" height="6.16" fill="#c2d448"/>
<rect x="453.90" y="129.86" width="2.30" height="6.16" fill="#f2e232"/>
<rect x="455.90" y="129.86" width="2.30" height="6.16" fill="#f2e232"/>
<rect x="457.90" y="129.86" width="2.30" height="6.16" fill="#e8a52a"/>
<rect x="459.89" y="129.86" width="2.30" height="6.16" fill="#e8a52a"/>
<rect x="461.89" y="129.86" width="2.30" height="6.16" fill="#f2e232"/>
<rect x="463.89" y="129.86" width="2.30" height="6.16" fill="#f2e232"/>
<rect x="465.89" y="129.86" width="2.30" height="6.16" fill="#e8a52a"/>
<rect x="467.89" y="129.86" width="2.30" height="6.16" fill="#c2d448"/>
<rect x="469.89" y="129.86" width="2.30" height="6.16" fill="#e8a52a"/>
<rect x="471.88" y="129.86" width="2.30" height="6.16" fill="#f2e232"/>
<rect x="473.88" y="129.86" width="2.30" height="6.16" fill="#e8a52a"/>
<rect x="475.88" y="129.86" width="2.30" height="6.16" fill="#f2e232"/>
<rect x="477.88" y="129.86" width="2.30" height="6.16" fill="#e8a52a"/>
<rect x="479.88" y="129.86" width="2.30" height="6.16" fill="#f2e232"/>
<rect x="481.88" y="129.86" width="2.30" height="6.16" fill="#f2e232"/>
<rect x="483.88" y="129.86" width="2.30" height="6.16" fill="#f2e232"/>
<rect x="485.87" y="129.86" width="2.30" height="6.16" fill="#f2e232"/>
<rect x="487.87" y="129.86" width="2.30" height="6.16" fill="#f2e232"/>
<rect x="489.87" y="129.86" width="2.30" height="6.16" fill="#f2e232"/>
<rect x="491.87" y="129.86" width="2.30" height="6.16" fill="#f2e232"/>
<rect x="493.87" y="129.86" width="2.30" height="6.16" fill="#e8a52a"/>
<rect x="495.86" y="129.86" width="2.30" height="6.16" fill="#f2e232"/>
<rect x="497.86" y="129.86" width="2.30" height="6.16" fill="#e8a52a"/>
<rect x="499.86" y="129.86" width="2.30" height="6.16" fill="#e8a52a"/>
<rect x="501.86" y="129.86" width="2.30" height="6.16" fill="#e8a52a"/>
<rect x="503.86" y="129.86" width="2.30" height="6.16" fill="#f2e232"/>
<rect x="505.86" y="129.86" width="2.30" height="6.16" fill="#e8a52a"/>
<rect x="507.85" y="129.86" width="2.30" height="6.16" fill="#e8a52a"/>
<rect x="509.85" y="129.86" width="2.30" height="6.16" fill="#e8a52a"/>
<rect x="511.85" y="129.86" width="2.30" height="6.16" fill="#e8a52a"/>
<rect x="513.85" y="129.86" width="2.30" height="6.16" fill="#e8a52a"/>
<rect x="515.85" y="129.86" width="2.30" height="6.16" fill="#f2e232"/>
<rect x="517.85" y="129.86" width="2.30" height="6.16" fill="#e8a52a"/>
<rect x="519.84" y="129.86" width="2.30" height="6.16" fill="#e8a52a"/>
<rect x="521.84" y="129.86" width="2.30" height="6.16" fill="#f2e232"/>
<rect x="523.84" y="129.86" width="2.30" height="6.16" fill="#f2e232"/>
<rect x="525.84" y="129.86" width="2.30" height="6.16" fill="#e8a52a"/>
<rect x="527.84" y="129.86" width="2.30" height="6.16" fill="#f2e232"/>
<rect x="529.84" y="129.86" width="2.30" height="6.16" fill="#cc4a1e"/>
<rect x="531.83" y="129.86" width="2.30" height="6.16" fill="#e8a52a"/>
<rect x="533.83" y="129.86" width="2.30" height="6.16" fill="#f2e232"/>
<rect x="535.83" y="129.86" width="2.30" height="6.16" fill="#f2e232"/>
<rect x="537.83" y="129.86" width="2.30" height="6.16" fill="#f2e232"/>
<rect x="539.83" y="129.86" width="2.30" height="6.16" fill="#f2e232"/>
<rect x="541.83" y="129.86" width="2.30" height="6.16" fill="#f2e232"/>
<rect x="543.82" y="129.86" width="2.30" height="6.16" fill="#cc4a1e"/>
<rect x="545.82" y="129.86" width="2.30" height="6.16" fill="#f2e232"/>
<rect x="547.82" y="129.86" width="2.30" height="6.16" fill="#f2e232"/>
<rect x="549.82" y="129.86" width="2.30" height="6.16" fill="#e8a52a"/>
<rect x="551.82" y="129.86" width="2.30" height="6.16" fill="#e8a52a"/>
<rect x="553.82" y="129.86" width="2.30" height="6.16" fill="#f2e232"/>
<rect x="555.81" y="129.86" width="2.30" height="6.16" fill="#f2e232"/>
<rect x="557.81" y="129.86" width="2.30" height="6.16" fill="#e8a52a"/>
<rect x="559.81" y="129.86" width="2.30" height="6.16" fill="#e8a52a"/>
<rect x="561.81" y="129.86" width="2.30" height="6.16" fill="#f2e232"/>
<rect x="563.81" y="129.86" width="2.30" height="6.16" fill="#f2e232"/>
<rect x="565.81" y="129.86" width="2.30" height="6.16" fill="#e8a52a"/>
<rect x="567.80" y="129.86" width="2.30" height="6.16" fill="#cc4a1e"/>
<rect x="569.80" y="129.86" width="2.30" height="6.16" fill="#f2e232"/>
<rect x="571.80" y="129.86" width="2.30" height="6.16" fill="#e8a52a"/>
<rect x="453.90" y="135.72" width="2.30" height="6.16" fill="#e8a52a"/>
<rect x="455.90" y="135.72" width="2.30" height="6.16" fill="#f2e232"/>
<rect x="457.90" y="135.72" width="2.30" height="6.16" fill="#e8a52a"/>
<rect x="459.89" y="135.72" width="2.30" height="6.16" fill="#e8a52a"/>
<rect x="461.89" y="135.72" width="2.30" height="6.16" fill="#e8a52a"/>
<rect x="463.89" y="135.72" width="2.30" height="6.16" fill="#e8a52a"/>
<rect x="465.89" y="135.72" width="2.30" height="6.16" fill="#e8a52a"/>
<rect x="467.89" y="135.72" width="2.30" height="6.16" fill="#f2e232"/>
<rect x="469.89" y="135.72" width="2.30" height="6.16" fill="#e8a52a"/>
<rect x="471.88" y="135.72" width="2.30" height="6.16" fill="#f2e232"/>
<rect x="473.88" y="135.72" width="2.30" height="6.16" fill="#f2e232"/>
<rect x="475.88" y="135.72" width="2.30" height="6.16" fill="#e8a52a"/>
<rect x="477.88" y="135.72" width="2.30" height="6.16" fill="#f2e232"/>
<rect x="479.88" y="135.72" width="2.30" height="6.16" fill="#cc4a1e"/>
<rect x="481.88" y="135.72" width="2.30" height="6.16" fill="#f2e232"/>
<rect x="483.88" y="135.72" width="2.30" height="6.16" fill="#f2e232"/>
<rect x="485.87" y="135.72" width="2.30" height="6.16" fill="#e8a52a"/>
<rect x="487.87" y="135.72" width="2.30" height="6.16" fill="#e8a52a"/>
<rect x="489.87" y="135.72" width="2.30" height="6.16" fill="#e8a52a"/>
<rect x="491.87" y="135.72" width="2.30" height="6.16" fill="#f2e232"/>
<rect x="493.87" y="135.72" width="2.30" height="6.16" fill="#f2e232"/>
<rect x="495.86" y="135.72" width="2.30" height="6.16" fill="#f2e232"/>
<rect x="497.86" y="135.72" width="2.30" height="6.16" fill="#e8a52a"/>
<rect x="499.86" y="135.72" width="2.30" height="6.16" fill="#f2e232"/>
<rect x="501.86" y="135.72" width="2.30" height="6.16" fill="#f2e232"/>
<rect x="503.86" y="135.72" width="2.30" height="6.16" fill="#f2e232"/>
<rect x="505.86" y="135.72" width="2.30" height="6.16" fill="#c2d448"/>
<rect x="507.85" y="135.72" width="2.30" height="6.16" fill="#c2d448"/>
<rect x="509.85" y="135.72" width="2.30" height="6.16" fill="#c2d448"/>
<rect x="511.85" y="135.72" width="2.30" height="6.16" fill="#c2d448"/>
<rect x="513.85" y="135.72" width="2.30" height="6.16" fill="#8cbf8e"/>
<rect x="515.85" y="135.72" width="2.30" height="6.16" fill="#8cbf8e"/>
<rect x="517.85" y="135.72" width="2.30" height="6.16" fill="#8cbf8e"/>
<rect x="519.84" y="135.72" width="2.30" height="6.16" fill="#8cbf8e"/>
<rect x="521.84" y="135.72" width="2.30" height="6.16" fill="#c2d448"/>
<rect x="523.84" y="135.72" width="2.30" height="6.16" fill="#8cbf8e"/>
<rect x="525.84" y="135.72" width="2.30" height="6.16" fill="#8cbf8e"/>
<rect x="527.84" y="135.72" width="2.30" height="6.16" fill="#90c6e0"/>
<rect x="529.84" y="135.72" width="2.30" height="6.16" fill="#8cbf8e"/>
<rect x="531.83" y="135.72" width="2.30" height="6.16" fill="#8cbf8e"/>
<rect x="533.83" y="135.72" width="2.30" height="6.16" fill="#8cbf8e"/>
<rect x="535.83" y="135.72" width="2.30" height="6.16" fill="#8cbf8e"/>
<rect x="537.83" y="135.72" width="2.30" height="6.16" fill="#f2e232"/>
<rect x="539.83" y="135.72" width="2.30" height="6.16" fill="#8cbf8e"/>
<rect x="541.83" y="135.72" width="2.30" height="6.16" fill="#8cbf8e"/>
<rect x="543.82" y="135.72" width="2.30" height="6.16" fill="#8cbf8e"/>
<rect x="545.82" y="135.72" width="2.30" height="6.16" fill="#c2d448"/>
<rect x="547.82" y="135.72" width="2.30" height="6.16" fill="#c2d448"/>
<rect x="549.82" y="135.72" width="2.30" height="6.16" fill="#c2d448"/>
<rect x="551.82" y="135.72" width="2.30" height="6.16" fill="#90c6e0"/>
<rect x="553.82" y="135.72" width="2.30" height="6.16" fill="#c2d448"/>
<rect x="555.81" y="135.72" width="2.30" height="6.16" fill="#c2d448"/>
<rect x="557.81" y="135.72" width="2.30" height="6.16" fill="#c2d448"/>
<rect x="559.81" y="135.72" width="2.30" height="6.16" fill="#c2d448"/>
<rect x="561.81" y="135.72" width="2.30" height="6.16" fill="#8cbf8e"/>
<rect x="563.81" y="135.72" width="2.30" height="6.16" fill="#c2d448"/>
<rect x="565.81" y="135.72" width="2.30" height="6.16" fill="#8cbf8e"/>
<rect x="567.80" y="135.72" width="2.30" height="6.16" fill="#c2d448"/>
<rect x="569.80" y="135.72" width="2.30" height="6.16" fill="#8cbf8e"/>
<rect x="571.80" y="135.72" width="2.30" height="6.16" fill="#8cbf8e"/>
<rect x="453.90" y="141.58" width="2.30" height="6.16" fill="#f2e232"/>
<rect x="455.90" y="141.58" width="2.30" height="6.16" fill="#f2e232"/>
<rect x="457.90" y="141.58" width="2.30" height="6.16" fill="#f2e232"/>
<rect x="459.89" y="141.58" width="2.30" height="6.16" fill="#e8a52a"/>
<rect x="461.89" y="141.58" width="2.30" height="6.16" fill="#e8a52a"/>
<rect x="463.89" y="141.58" width="2.30" height="6.16" fill="#f2e232"/>
<rect x="465.89" y="141.58" width="2.30" height="6.16" fill="#f2e232"/>
<rect x="467.89" y="141.58" width="2.30" height="6.16" fill="#e8a52a"/>
<rect x="469.89" y="141.58" width="2.30" height="6.16" fill="#f2e232"/>
<rect x="471.88" y="141.58" width="2.30" height="6.16" fill="#e8a52a"/>
<rect x="473.88" y="141.58" width="2.30" height="6.16" fill="#e8a52a"/>
<rect x="475.88" y="141.58" width="2.30" height="6.16" fill="#e8a52a"/>
<rect x="477.88" y="141.58" width="2.30" height="6.16" fill="#f2e232"/>
<rect x="479.88" y="141.58" width="2.30" height="6.16" fill="#e8a52a"/>
<rect x="481.88" y="141.58" width="2.30" height="6.16" fill="#e8a52a"/>
<rect x="483.88" y="141.58" width="2.30" height="6.16" fill="#c2d448"/>
<rect x="485.87" y="141.58" width="2.30" height="6.16" fill="#f2e232"/>
<rect x="487.87" y="141.58" width="2.30" height="6.16" fill="#f2e232"/>
<rect x="489.87" y="141.58" width="2.30" height="6.16" fill="#e8a52a"/>
<rect x="491.87" y="141.58" width="2.30" height="6.16" fill="#f2e232"/>
<rect x="493.87" y="141.58" width="2.30" height="6.16" fill="#f2e232"/>
<rect x="495.86" y="141.58" width="2.30" height="6.16" fill="#f2e232"/>
<rect x="497.86" y="141.58" width="2.30" height="6.16" fill="#f2e232"/>
<rect x="499.86" y="141.58" width="2.30" height="6.16" fill="#f2e232"/>
<rect x="501.86" y="141.58" width="2.30" height="6.16" fill="#c2d448"/>
<rect x="503.86" y="141.58" width="2.30" height="6.16" fill="#e8a52a"/>
<rect x="505.86" y="141.58" width="2.30" height="6.16" fill="#f2e232"/>
<rect x="507.85" y="141.58" width="2.30" height="6.16" fill="#8cbf8e"/>
<rect x="509.85" y="141.58" width="2.30" height="6.16" fill="#c2d448"/>
<rect x="511.85" y="141.58" width="2.30" height="6.16" fill="#c2d448"/>
<rect x="513.85" y="141.58" width="2.30" height="6.16" fill="#8cbf8e"/>
<rect x="515.85" y="141.58" width="2.30" height="6.16" fill="#c2d448"/>
<rect x="517.85" y="141.58" width="2.30" height="6.16" fill="#8cbf8e"/>
<rect x="519.84" y="141.58" width="2.30" height="6.16" fill="#90c6e0"/>
<rect x="521.84" y="141.58" width="2.30" height="6.16" fill="#8cbf8e"/>
<rect x="523.84" y="141.58" width="2.30" height="6.16" fill="#c2d448"/>
<rect x="525.84" y="141.58" width="2.30" height="6.16" fill="#c2d448"/>
<rect x="527.84" y="141.58" width="2.30" height="6.16" fill="#8cbf8e"/>
<rect x="529.84" y="141.58" width="2.30" height="6.16" fill="#8cbf8e"/>
<rect x="531.83" y="141.58" width="2.30" height="6.16" fill="#8cbf8e"/>
<rect x="533.83" y="141.58" width="2.30" height="6.16" fill="#8cbf8e"/>
<rect x="535.83" y="141.58" width="2.30" height="6.16" fill="#c2d448"/>
<rect x="537.83" y="141.58" width="2.30" height="6.16" fill="#c2d448"/>
<rect x="539.83" y="141.58" width="2.30" height="6.16" fill="#c2d448"/>
<rect x="541.83" y="141.58" width="2.30" height="6.16" fill="#8cbf8e"/>
<rect x="543.82" y="141.58" width="2.30" height="6.16" fill="#8cbf8e"/>
<rect x="545.82" y="141.58" width="2.30" height="6.16" fill="#90c6e0"/>
<rect x="547.82" y="141.58" width="2.30" height="6.16" fill="#c2d448"/>
<rect x="549.82" y="141.58" width="2.30" height="6.16" fill="#c2d448"/>
<rect x="551.82" y="141.58" width="2.30" height="6.16" fill="#c2d448"/>
<rect x="553.82" y="141.58" width="2.30" height="6.16" fill="#8cbf8e"/>
<rect x="555.81" y="141.58" width="2.30" height="6.16" fill="#c2d448"/>
<rect x="557.81" y="141.58" width="2.30" height="6.16" fill="#8cbf8e"/>
<rect x="559.81" y="141.58" width="2.30" height="6.16" fill="#8cbf8e"/>
<rect x="561.81" y="141.58" width="2.30" height="6.16" fill="#8cbf8e"/>
<rect x="563.81" y="141.58" width="2.30" height="6.16" fill="#8cbf8e"/>
<rect x="565.81" y="141.58" width="2.30" height="6.16" fill="#90c6e0"/>
<rect x="567.80" y="141.58" width="2.30" height="6.16" fill="#8cbf8e"/>
<rect x="569.80" y="141.58" width="2.30" height="6.16" fill="#90c6e0"/>
<rect x="571.80" y="141.58" width="2.30" height="6.16" fill="#8cbf8e"/>
<rect x="453.90" y="147.44" width="2.30" height="6.16" fill="#f2e232"/>
<rect x="455.90" y="147.44" width="2.30" height="6.16" fill="#e8a52a"/>
<rect x="457.90" y="147.44" width="2.30" height="6.16" fill="#c2d448"/>
<rect x="459.89" y="147.44" width="2.30" height="6.16" fill="#f2e232"/>
<rect x="461.89" y="147.44" width="2.30" height="6.16" fill="#f2e232"/>
<rect x="463.89" y="147.44" width="2.30" height="6.16" fill="#c2d448"/>
<rect x="465.89" y="147.44" width="2.30" height="6.16" fill="#e8a52a"/>
<rect x="467.89" y="147.44" width="2.30" height="6.16" fill="#e8a52a"/>
<rect x="469.89" y="147.44" width="2.30" height="6.16" fill="#f2e232"/>
<rect x="471.88" y="147.44" width="2.30" height="6.16" fill="#cc4a1e"/>
<rect x="473.88" y="147.44" width="2.30" height="6.16" fill="#e8a52a"/>
<rect x="475.88" y="147.44" width="2.30" height="6.16" fill="#c2d448"/>
<rect x="477.88" y="147.44" width="2.30" height="6.16" fill="#f2e232"/>
<rect x="479.88" y="147.44" width="2.30" height="6.16" fill="#f2e232"/>
<rect x="481.88" y="147.44" width="2.30" height="6.16" fill="#e8a52a"/>
<rect x="483.88" y="147.44" width="2.30" height="6.16" fill="#f2e232"/>
<rect x="485.87" y="147.44" width="2.30" height="6.16" fill="#f2e232"/>
<rect x="487.87" y="147.44" width="2.30" height="6.16" fill="#e8a52a"/>
<rect x="489.87" y="147.44" width="2.30" height="6.16" fill="#c2d448"/>
<rect x="491.87" y="147.44" width="2.30" height="6.16" fill="#f2e232"/>
<rect x="493.87" y="147.44" width="2.30" height="6.16" fill="#e8a52a"/>
<rect x="495.86" y="147.44" width="2.30" height="6.16" fill="#f2e232"/>
<rect x="497.86" y="147.44" width="2.30" height="6.16" fill="#e8a52a"/>
<rect x="499.86" y="147.44" width="2.30" height="6.16" fill="#e8a52a"/>
<rect x="501.86" y="147.44" width="2.30" height="6.16" fill="#f2e232"/>
<rect x="503.86" y="147.44" width="2.30" height="6.16" fill="#f2e232"/>
<rect x="505.86" y="147.44" width="2.30" height="6.16" fill="#f2e232"/>
<rect x="507.85" y="147.44" width="2.30" height="6.16" fill="#f2e232"/>
<rect x="509.85" y="147.44" width="2.30" height="6.16" fill="#e8a52a"/>
<rect x="511.85" y="147.44" width="2.30" height="6.16" fill="#f2e232"/>
<rect x="513.85" y="147.44" width="2.30" height="6.16" fill="#f2e232"/>
<rect x="515.85" y="147.44" width="2.30" height="6.16" fill="#f2e232"/>
<rect x="517.85" y="147.44" width="2.30" height="6.16" fill="#f2e232"/>
<rect x="519.84" y="147.44" width="2.30" height="6.16" fill="#c2d448"/>
<rect x="521.84" y="147.44" width="2.30" height="6.16" fill="#c2d448"/>
<rect x="523.84" y="147.44" width="2.30" height="6.16" fill="#f2e232"/>
<rect x="525.84" y="147.44" width="2.30" height="6.16" fill="#f2e232"/>
<rect x="527.84" y="147.44" width="2.30" height="6.16" fill="#c2d448"/>
<rect x="529.84" y="147.44" width="2.30" height="6.16" fill="#c2d448"/>
<rect x="531.83" y="147.44" width="2.30" height="6.16" fill="#f2e232"/>
<rect x="533.83" y="147.44" width="2.30" height="6.16" fill="#f2e232"/>
<rect x="535.83" y="147.44" width="2.30" height="6.16" fill="#c2d448"/>
<rect x="537.83" y="147.44" width="2.30" height="6.16" fill="#c2d448"/>
<rect x="539.83" y="147.44" width="2.30" height="6.16" fill="#c2d448"/>
<rect x="541.83" y="147.44" width="2.30" height="6.16" fill="#c2d448"/>
<rect x="543.82" y="147.44" width="2.30" height="6.16" fill="#c2d448"/>
<rect x="545.82" y="147.44" width="2.30" height="6.16" fill="#f2e232"/>
<rect x="547.82" y="147.44" width="2.30" height="6.16" fill="#c2d448"/>
<rect x="549.82" y="147.44" width="2.30" height="6.16" fill="#f2e232"/>
<rect x="551.82" y="147.44" width="2.30" height="6.16" fill="#c2d448"/>
<rect x="553.82" y="147.44" width="2.30" height="6.16" fill="#8cbf8e"/>
<rect x="555.81" y="147.44" width="2.30" height="6.16" fill="#f2e232"/>
<rect x="557.81" y="147.44" width="2.30" height="6.16" fill="#c2d448"/>
<rect x="559.81" y="147.44" width="2.30" height="6.16" fill="#c2d448"/>
<rect x="561.81" y="147.44" width="2.30" height="6.16" fill="#c2d448"/>
<rect x="563.81" y="147.44" width="2.30" height="6.16" fill="#c2d448"/>
<rect x="565.81" y="147.44" width="2.30" height="6.16" fill="#c2d448"/>
<rect x="567.80" y="147.44" width="2.30" height="6.16" fill="#f2e232"/>
<rect x="569.80" y="147.44" width="2.30" height="6.16" fill="#8cbf8e"/>
<rect x="571.80" y="147.44" width="2.30" height="6.16" fill="#f2e232"/>
</g>
<line x1="471" y1="18.5" x2="471" y2="92" stroke="#c0392b" stroke-width="1.3" stroke-dasharray="3.5,3"/>
<line x1="471" y1="92" x2="471" y2="166" stroke="#c0392b" stroke-width="1.3" stroke-dasharray="3.5,3"/>
<rect x="581.8" y="30.0" width="7.7" height="12.5" fill="#cc4a1e" stroke="none" stroke-width="1"/>
<rect x="581.8" y="42.43" width="7.7" height="12.5" fill="#e8a52a" stroke="none" stroke-width="1"/>
<rect x="581.8" y="54.86" width="7.7" height="12.5" fill="#f2e232" stroke="none" stroke-width="1"/>
<rect x="581.8" y="67.28999999999999" width="7.7" height="12.5" fill="#c2d448" stroke="none" stroke-width="1"/>
<rect x="581.8" y="79.72" width="7.7" height="12.5" fill="#8cbf8e" stroke="none" stroke-width="1"/>
<rect x="581.8" y="92.15" width="7.7" height="12.5" fill="#90c6e0" stroke="none" stroke-width="1"/>
<rect x="581.8" y="104.58" width="7.7" height="12.5" fill="#5a8fd2" stroke="none" stroke-width="1"/>
<rect x="581.8" y="117.00999999999999" width="7.7" height="12.5" fill="#3858ad" stroke="none" stroke-width="1"/>
<rect x="581.8" y="129.44" width="7.7" height="12.5" fill="#2a3b94" stroke="none" stroke-width="1"/>
<rect x="581.8" y="141.87" width="7.7" height="12.5" fill="#1b1c78" stroke="none" stroke-width="1"/>
<text x="580.8" y="25.5" font-size="9" text-anchor="start" font-weight="normal" fill="#161616" stroke="#161616" stroke-width="0.15">ΔF/F</text>
<text x="591" y="33" font-size="7.6" text-anchor="start" font-weight="normal" fill="#161616" stroke="#161616" stroke-width="0.1">0.2</text>
<text x="591" y="57.9" font-size="7.6" text-anchor="start" font-weight="normal" fill="#161616" stroke="#161616" stroke-width="0.1">0</text>
<text x="591" y="82.7" font-size="7.6" text-anchor="start" font-weight="normal" fill="#161616" stroke="#161616" stroke-width="0.1">-0.2</text>
<text x="591" y="107.6" font-size="7.6" text-anchor="start" font-weight="normal" fill="#161616" stroke="#161616" stroke-width="0.1">-0.4</text>
<text x="591" y="132.4" font-size="7.6" text-anchor="start" font-weight="normal" fill="#161616" stroke="#161616" stroke-width="0.1">-0.6</text>
<text x="591" y="157.3" font-size="7.6" text-anchor="start" font-weight="normal" fill="#161616" stroke="#161616" stroke-width="0.1">-0.8</text>
<line x1="453.9" y1="161.5" x2="574.4" y2="161.5" stroke="#444" stroke-width="0.9"/>
<line x1="453.9" y1="158" x2="453.9" y2="161.5" stroke="#444" stroke-width="0.9"/>
<line x1="471" y1="158" x2="471" y2="161.5" stroke="#444" stroke-width="0.9"/>
<line x1="522.7" y1="158" x2="522.7" y2="161.5" stroke="#444" stroke-width="0.9"/>
<line x1="574" y1="158" x2="574" y2="161.5" stroke="#444" stroke-width="0.9"/>
<text x="471" y="175.5" font-size="11.5" text-anchor="middle" font-weight="normal" fill="#161616" stroke="#161616" stroke-width="0.22">0</text>
<text x="522.7" y="175.5" font-size="11.5" text-anchor="middle" font-weight="normal" fill="#161616" stroke="#161616" stroke-width="0.22">15</text>
<text x="573.5" y="175.5" font-size="11.5" text-anchor="middle" font-weight="normal" fill="#161616" stroke="#161616" stroke-width="0.22">30</text>
<text x="523.5" y="186.5" font-size="11" text-anchor="middle" font-weight="normal" fill="#161616" stroke="#161616" stroke-width="0.22">Time (min)</text>
<text x="0" y="224" font-size="14" text-anchor="start" font-weight="bold" fill="#111">D</text>
<line x1="52.7" y1="230.3" x2="52.7" y2="377.3" stroke="#8c8c8c" stroke-width="1"/>
<line x1="52.7" y1="230.3" x2="55.9" y2="230.3" stroke="#8c8c8c" stroke-width="1"/>
<text x="0" y="0" font-size="10.5" text-anchor="end" font-weight="normal" fill="#161616" stroke="#161616" stroke-width="0.08" transform="translate(48.8 234.10000000000002) scale(0.9 1)">0.1</text>
<line x1="52.7" y1="279.1" x2="55.9" y2="279.1" stroke="#8c8c8c" stroke-width="1"/>
<text x="0" y="0" font-size="10.5" text-anchor="end" font-weight="normal" fill="#161616" stroke="#161616" stroke-width="0.08" transform="translate(48.8 282.90000000000003) scale(0.9 1)">0</text>
<line x1="52.7" y1="328.3" x2="55.9" y2="328.3" stroke="#8c8c8c" stroke-width="1"/>
<text x="0" y="0" font-size="10.5" text-anchor="end" font-weight="normal" fill="#161616" stroke="#161616" stroke-width="0.08" transform="translate(48.8 332.1) scale(0.9 1)">-0.1</text>
<line x1="52.7" y1="377.3" x2="55.9" y2="377.3" stroke="#8c8c8c" stroke-width="1"/>
<text x="0" y="0" font-size="10.5" text-anchor="end" font-weight="normal" fill="#161616" stroke="#161616" stroke-width="0.08" transform="translate(48.8 381.1) scale(0.9 1)">-0.2</text>
<text x="32" y="305" font-size="11" text-anchor="middle" font-weight="normal" fill="#161616" stroke="#161616" stroke-width="0.22" transform="rotate(-90 32 305)">490 nm ΔF/F (3 min bins)</text>
<line x1="52.7" y1="377.3" x2="182" y2="377.3" stroke="#8c8c8c" stroke-width="1"/>
<line x1="59" y1="374.2" x2="59" y2="377.3" stroke="#8c8c8c" stroke-width="1"/>
<line x1="70.9" y1="374.2" x2="70.9" y2="377.3" stroke="#8c8c8c" stroke-width="1"/>
<line x1="83.1" y1="374.2" x2="83.1" y2="377.3" stroke="#8c8c8c" stroke-width="1"/>
<line x1="95.3" y1="374.2" x2="95.3" y2="377.3" stroke="#8c8c8c" stroke-width="1"/>
<line x1="107.9" y1="374.2" x2="107.9" y2="377.3" stroke="#8c8c8c" stroke-width="1"/>
<line x1="120" y1="374.2" x2="120" y2="377.3" stroke="#8c8c8c" stroke-width="1"/>
<line x1="132" y1="374.2" x2="132" y2="377.3" stroke="#8c8c8c" stroke-width="1"/>
<line x1="144.2" y1="374.2" x2="144.2" y2="377.3" stroke="#8c8c8c" stroke-width="1"/>
<line x1="156.3" y1="374.2" x2="156.3" y2="377.3" stroke="#8c8c8c" stroke-width="1"/>
<line x1="168.7" y1="374.2" x2="168.7" y2="377.3" stroke="#8c8c8c" stroke-width="1"/>
<line x1="181" y1="374.2" x2="181" y2="377.3" stroke="#8c8c8c" stroke-width="1"/>
<text x="0" y="0" font-size="10.5" text-anchor="end" font-weight="normal" fill="#161616" stroke="#161616" stroke-width="0.08" transform="translate(64.5 385.5) rotate(-56) scale(0.9 1)">-3-0</text>
<text x="0" y="0" font-size="10.5" text-anchor="end" font-weight="normal" fill="#161616" stroke="#161616" stroke-width="0.08" transform="translate(76.4 385.5) rotate(-56) scale(0.9 1)">0-3</text>
<text x="0" y="0" font-size="10.5" text-anchor="end" font-weight="normal" fill="#161616" stroke="#161616" stroke-width="0.08" transform="translate(88.6 385.5) rotate(-56) scale(0.9 1)">3-6</text>
<text x="0" y="0" font-size="10.5" text-anchor="end" font-weight="normal" fill="#161616" stroke="#161616" stroke-width="0.08" transform="translate(100.8 385.5) rotate(-56) scale(0.9 1)">6-9</text>
<text x="0" y="0" font-size="10.5" text-anchor="end" font-weight="normal" fill="#161616" stroke="#161616" stroke-width="0.08" transform="translate(113.4 385.5) rotate(-56) scale(0.9 1)">9-12</text>
<text x="0" y="0" font-size="10.5" text-anchor="end" font-weight="normal" fill="#161616" stroke="#161616" stroke-width="0.08" transform="translate(125.5 385.5) rotate(-56) scale(0.9 1)">12-15</text>
<text x="0" y="0" font-size="10.5" text-anchor="end" font-weight="normal" fill="#161616" stroke="#161616" stroke-width="0.08" transform="translate(137.5 385.5) rotate(-56) scale(0.9 1)">15-18</text>
<text x="0" y="0" font-size="10.5" text-anchor="end" font-weight="normal" fill="#161616" stroke="#161616" stroke-width="0.08" transform="translate(149.7 385.5) rotate(-56) scale(0.9 1)">18-21</text>
<text x="0" y="0" font-size="10.5" text-anchor="end" font-weight="normal" fill="#161616" stroke="#161616" stroke-width="0.08" transform="translate(161.8 385.5) rotate(-56) scale(0.9 1)">21-24</text>
<text x="0" y="0" font-size="10.5" text-anchor="end" font-weight="normal" fill="#161616" stroke="#161616" stroke-width="0.08" transform="translate(174.2 385.5) rotate(-56) scale(0.9 1)">24-27</text>
<text x="0" y="0" font-size="10.5" text-anchor="end" font-weight="normal" fill="#161616" stroke="#161616" stroke-width="0.08" transform="translate(186.5 385.5) rotate(-56) scale(0.9 1)">27-30</text>
<text x="116.5" y="417" font-size="11" text-anchor="middle" font-weight="normal" fill="#161616" stroke="#161616" stroke-width="0.22">Time (min)</text>
<line x1="59" y1="270.5" x2="59" y2="278.5" stroke="#888" stroke-width="1"/>
<line x1="56.6" y1="270.5" x2="61.4" y2="270.5" stroke="#888" stroke-width="1"/>
<line x1="56.6" y1="278.5" x2="61.4" y2="278.5" stroke="#888" stroke-width="1"/>
<line x1="70.9" y1="273.6" x2="70.9" y2="287.5" stroke="#888" stroke-width="1"/>
<line x1="68.5" y1="273.6" x2="73.30000000000001" y2="273.6" stroke="#888" stroke-width="1"/>
<line x1="68.5" y1="287.5" x2="73.30000000000001" y2="287.5" stroke="#888" stroke-width="1"/>
<line x1="83.1" y1="275.2" x2="83.1" y2="288.5" stroke="#888" stroke-width="1"/>
<line x1="80.69999999999999" y1="275.2" x2="85.5" y2="275.2" stroke="#888" stroke-width="1"/>
<line x1="80.69999999999999" y1="288.5" x2="85.5" y2="288.5" stroke="#888" stroke-width="1"/>
<line x1="95.3" y1="294.6" x2="95.3" y2="308.6" stroke="#888" stroke-width="1"/>
<line x1="92.89999999999999" y1="294.6" x2="97.7" y2="294.6" stroke="#888" stroke-width="1"/>
<line x1="92.89999999999999" y1="308.6" x2="97.7" y2="308.6" stroke="#888" stroke-width="1"/>
<line x1="107.9" y1="310.2" x2="107.9" y2="326" stroke="#888" stroke-width="1"/>
<line x1="105.5" y1="310.2" x2="110.30000000000001" y2="310.2" stroke="#888" stroke-width="1"/>
<line x1="105.5" y1="326" x2="110.30000000000001" y2="326" stroke="#888" stroke-width="1"/>
<line x1="120" y1="321.8" x2="120" y2="346.5" stroke="#888" stroke-width="1"/>
<line x1="117.6" y1="321.8" x2="122.4" y2="321.8" stroke="#888" stroke-width="1"/>
<line x1="117.6" y1="346.5" x2="122.4" y2="346.5" stroke="#888" stroke-width="1"/>
<line x1="132" y1="328.4" x2="132" y2="353.3" stroke="#888" stroke-width="1"/>
<line x1="129.6" y1="328.4" x2="134.4" y2="328.4" stroke="#888" stroke-width="1"/>
<line x1="129.6" y1="353.3" x2="134.4" y2="353.3" stroke="#888" stroke-width="1"/>
<line x1="144.2" y1="324.5" x2="144.2" y2="353.3" stroke="#888" stroke-width="1"/>
<line x1="141.79999999999998" y1="324.5" x2="146.6" y2="324.5" stroke="#888" stroke-width="1"/>
<line x1="141.79999999999998" y1="353.3" x2="146.6" y2="353.3" stroke="#888" stroke-width="1"/>
<line x1="156.3" y1="319.7" x2="156.3" y2="348.1" stroke="#888" stroke-width="1"/>
<line x1="153.9" y1="319.7" x2="158.70000000000002" y2="319.7" stroke="#888" stroke-width="1"/>
<line x1="153.9" y1="348.1" x2="158.70000000000002" y2="348.1" stroke="#888" stroke-width="1"/>
<line x1="168.7" y1="335.2" x2="168.7" y2="359.6" stroke="#888" stroke-width="1"/>
<line x1="166.29999999999998" y1="335.2" x2="171.1" y2="335.2" stroke="#888" stroke-width="1"/>
<line x1="166.29999999999998" y1="359.6" x2="171.1" y2="359.6" stroke="#888" stroke-width="1"/>
<line x1="181" y1="324.5" x2="181" y2="348.1" stroke="#888" stroke-width="1"/>
<line x1="178.6" y1="324.5" x2="183.4" y2="324.5" stroke="#888" stroke-width="1"/>
<line x1="178.6" y1="348.1" x2="183.4" y2="348.1" stroke="#888" stroke-width="1"/>
<line x1="59" y1="270.5" x2="59" y2="278.5" stroke="#777" stroke-width="1"/>
<line x1="56.6" y1="270.5" x2="61.4" y2="270.5" stroke="#777" stroke-width="1"/>
<line x1="56.6" y1="278.5" x2="61.4" y2="278.5" stroke="#777" stroke-width="1"/>
<line x1="70.9" y1="273.6" x2="70.9" y2="287.5" stroke="#777" stroke-width="1"/>
<line x1="68.5" y1="273.6" x2="73.30000000000001" y2="273.6" stroke="#777" stroke-width="1"/>
<line x1="68.5" y1="287.5" x2="73.30000000000001" y2="287.5" stroke="#777" stroke-width="1"/>
<line x1="83.1" y1="275.2" x2="83.1" y2="288.5" stroke="#777" stroke-width="1"/>
<line x1="80.69999999999999" y1="275.2" x2="85.5" y2="275.2" stroke="#777" stroke-width="1"/>
<line x1="80.69999999999999" y1="288.5" x2="85.5" y2="288.5" stroke="#777" stroke-width="1"/>
<line x1="95.3" y1="272.4" x2="95.3" y2="280.5" stroke="#777" stroke-width="1"/>
<line x1="92.89999999999999" y1="272.4" x2="97.7" y2="272.4" stroke="#777" stroke-width="1"/>
<line x1="92.89999999999999" y1="280.5" x2="97.7" y2="280.5" stroke="#777" stroke-width="1"/>
<line x1="107.9" y1="274.4" x2="107.9" y2="285.8" stroke="#777" stroke-width="1"/>
<line x1="105.5" y1="274.4" x2="110.30000000000001" y2="274.4" stroke="#777" stroke-width="1"/>
<line x1="105.5" y1="285.8" x2="110.30000000000001" y2="285.8" stroke="#777" stroke-width="1"/>
<line x1="120" y1="284.2" x2="120" y2="297.1" stroke="#777" stroke-width="1"/>
<line x1="117.6" y1="284.2" x2="122.4" y2="284.2" stroke="#777" stroke-width="1"/>
<line x1="117.6" y1="297.1" x2="122.4" y2="297.1" stroke="#777" stroke-width="1"/>
<line x1="132" y1="284.2" x2="132" y2="295.5" stroke="#777" stroke-width="1"/>
<line x1="129.6" y1="284.2" x2="134.4" y2="284.2" stroke="#777" stroke-width="1"/>
<line x1="129.6" y1="295.5" x2="134.4" y2="295.5" stroke="#777" stroke-width="1"/>
<line x1="144.2" y1="267.5" x2="144.2" y2="285.8" stroke="#777" stroke-width="1"/>
<line x1="141.79999999999998" y1="267.5" x2="146.6" y2="267.5" stroke="#777" stroke-width="1"/>
<line x1="141.79999999999998" y1="285.8" x2="146.6" y2="285.8" stroke="#777" stroke-width="1"/>
<line x1="156.3" y1="281.4" x2="156.3" y2="301.9" stroke="#777" stroke-width="1"/>
<line x1="153.9" y1="281.4" x2="158.70000000000002" y2="281.4" stroke="#777" stroke-width="1"/>
<line x1="153.9" y1="301.9" x2="158.70000000000002" y2="301.9" stroke="#777" stroke-width="1"/>
<line x1="168.7" y1="277.1" x2="168.7" y2="308.2" stroke="#777" stroke-width="1"/>
<line x1="166.29999999999998" y1="277.1" x2="171.1" y2="277.1" stroke="#777" stroke-width="1"/>
<line x1="166.29999999999998" y1="308.2" x2="171.1" y2="308.2" stroke="#777" stroke-width="1"/>
<line x1="181" y1="286.1" x2="181" y2="319.2" stroke="#777" stroke-width="1"/>
<line x1="178.6" y1="286.1" x2="183.4" y2="286.1" stroke="#777" stroke-width="1"/>
<line x1="178.6" y1="319.2" x2="183.4" y2="319.2" stroke="#777" stroke-width="1"/>
<path d="M59.0,274.5 L70.9,278.8 L83.1,281.0 L95.3,276.4 L107.9,280.3 L120.0,291.3 L132.0,289.3 L144.2,275.8 L156.3,291.3 L168.7,291.3 L181.0,302.4" fill="none" stroke="#555" stroke-width="1.3"/>
<path d="M59.0,273.8 L70.9,280.3 L83.1,282.0 L95.3,301.8 L107.9,318.9 L120.0,333.9 L132.0,340.7 L144.2,338.7 L156.3,333.9 L168.7,347.3 L181.0,336.3" fill="none" stroke="#a0262c" stroke-width="1.4"/>
<text x="107.6" y="334.1" font-size="9" text-anchor="middle" font-weight="normal" fill="#333" stroke="#333" stroke-width="0.15">**</text>
<text x="120" y="354.1" font-size="9" text-anchor="middle" font-weight="normal" fill="#333" stroke="#333" stroke-width="0.15">*</text>
<text x="132.4" y="360.90000000000003" font-size="9" text-anchor="middle" font-weight="normal" fill="#333" stroke="#333" stroke-width="0.15">***</text>
<text x="144.2" y="360.90000000000003" font-size="9" text-anchor="middle" font-weight="normal" fill="#333" stroke="#333" stroke-width="0.15">***</text>
<text x="156.3" y="356.1" font-size="9" text-anchor="middle" font-weight="normal" fill="#333" stroke="#333" stroke-width="0.15">**</text>
<text x="168.7" y="368.1" font-size="9" text-anchor="middle" font-weight="normal" fill="#333" stroke="#333" stroke-width="0.15">***</text>
<text x="181" y="356.1" font-size="9" text-anchor="middle" font-weight="normal" fill="#333" stroke="#333" stroke-width="0.15">*</text>
<line x1="187.6" y1="294.5" x2="187.6" y2="342.3" stroke="#444" stroke-width="1"/>
<text x="196.2" y="316" font-size="6.5" text-anchor="middle" font-weight="normal" fill="#444" stroke="#444" stroke-width="0.1" transform="rotate(-90 196.2 316)">§§§</text>
<text x="202.8" y="318" font-size="6.5" text-anchor="middle" font-weight="normal" fill="#444" stroke="#444" stroke-width="0.1" transform="rotate(-90 202.8 318)">¤¤</text>
<line x1="93.9" y1="234.3" x2="100.3" y2="234.3" stroke="#444" stroke-width="1.2"/>
<text x="104.5" y="239.2" font-size="11" text-anchor="start" font-weight="normal" fill="#161616" stroke="#161616" stroke-width="0.22">Control</text>
<line x1="93.9" y1="250.1" x2="100.3" y2="250.1" stroke="#a0262c" stroke-width="1.4"/>
<text x="104.5" y="254.6" font-size="11" text-anchor="start" font-weight="normal" fill="#161616" stroke="#161616" stroke-width="0.22">EtOH</text>
<text x="215.8" y="225" font-size="14" text-anchor="start" font-weight="bold" fill="#111">E</text>
<line x1="256.5" y1="241.7" x2="256.5" y2="391" stroke="#8c8c8c" stroke-width="1"/>
<line x1="256.5" y1="241.7" x2="260" y2="241.7" stroke="#8c8c8c" stroke-width="1"/>
<text x="0" y="0" font-size="10.5" text-anchor="end" font-weight="normal" fill="#161616" stroke="#161616" stroke-width="0.08" transform="translate(252.7 245.5) scale(0.9 1)">0.1</text>
<line x1="256.5" y1="271.1" x2="260" y2="271.1" stroke="#8c8c8c" stroke-width="1"/>
<text x="0" y="0" font-size="10.5" text-anchor="end" font-weight="normal" fill="#161616" stroke="#161616" stroke-width="0.08" transform="translate(252.7 274.90000000000003) scale(0.9 1)">0</text>
<line x1="256.5" y1="301.3" x2="260" y2="301.3" stroke="#8c8c8c" stroke-width="1"/>
<text x="0" y="0" font-size="10.5" text-anchor="end" font-weight="normal" fill="#161616" stroke="#161616" stroke-width="0.08" transform="translate(252.7 305.1) scale(0.9 1)">-0.1</text>
<line x1="256.5" y1="331.3" x2="260" y2="331.3" stroke="#8c8c8c" stroke-width="1"/>
<text x="0" y="0" font-size="10.5" text-anchor="end" font-weight="normal" fill="#161616" stroke="#161616" stroke-width="0.08" transform="translate(252.7 335.1) scale(0.9 1)">-0.2</text>
<line x1="256.5" y1="361.2" x2="260" y2="361.2" stroke="#8c8c8c" stroke-width="1"/>
<text x="0" y="0" font-size="10.5" text-anchor="end" font-weight="normal" fill="#161616" stroke="#161616" stroke-width="0.08" transform="translate(252.7 365.0) scale(0.9 1)">-0.3</text>
<line x1="256.5" y1="391" x2="260" y2="391" stroke="#8c8c8c" stroke-width="1"/>
<text x="0" y="0" font-size="10.5" text-anchor="end" font-weight="normal" fill="#161616" stroke="#161616" stroke-width="0.08" transform="translate(252.7 394.8) scale(0.9 1)">-0.4</text>
<rect x="269.1" y="271.1" width="15.8" height="19.7" fill="#6e6e6e" stroke="#444" stroke-width="0.6"/>
<rect x="299.2" y="271.1" width="15" height="51.7" fill="#b5121b" stroke="#6d1010" stroke-width="0.6"/>
<line x1="256.5" y1="271.1" x2="328.8" y2="271.1" stroke="#888" stroke-width="1"/>
<line x1="277.7" y1="280.1" x2="277.7" y2="304.2" stroke="#222" stroke-width="0.9"/>
<line x1="274.5" y1="280.1" x2="280.9" y2="280.1" stroke="#222" stroke-width="0.9"/>
<line x1="274.5" y1="304.2" x2="280.9" y2="304.2" stroke="#222" stroke-width="0.9"/>
<line x1="306.6" y1="312.5" x2="306.6" y2="333.1" stroke="#222" stroke-width="0.9"/>
<line x1="303.40000000000003" y1="312.5" x2="309.8" y2="312.5" stroke="#222" stroke-width="0.9"/>
<line x1="303.40000000000003" y1="333.1" x2="309.8" y2="333.1" stroke="#222" stroke-width="0.9"/>
<circle cx="276.8" cy="265" r="1.65" fill="#2a2a2a"/>
<circle cx="278" cy="281.8" r="1.65" fill="#2a2a2a"/>
<circle cx="277.7" cy="299.9" r="1.65" fill="#2a2a2a"/>
<circle cx="276" cy="303.3" r="1.65" fill="#2a2a2a"/>
<circle cx="280.3" cy="304.2" r="1.65" fill="#2a2a2a"/>
<circle cx="278.5" cy="308.5" r="1.65" fill="#2a2a2a"/>
<circle cx="276.9" cy="353.1" r="1.65" fill="#2a2a2a"/>
<circle cx="306.6" cy="270.1" r="1.65" fill="#7a2020"/>
<circle cx="306.6" cy="277.5" r="1.65" fill="#7a2020"/>
<circle cx="306.6" cy="302.5" r="1.65" fill="#7a2020"/>
<circle cx="306.6" cy="318.8" r="1.65" fill="#7a2020"/>
<circle cx="305.2" cy="335.2" r="1.65" fill="#2a2a2a"/>
<circle cx="307.8" cy="337.8" r="1.65" fill="#2a2a2a"/>
<circle cx="306.6" cy="343" r="1.65" fill="#2a2a2a"/>
<circle cx="306.3" cy="364.1" r="1.65" fill="#2a2a2a"/>
<circle cx="306.3" cy="377.4" r="1.65" fill="#2a2a2a"/>
<text x="277.5" y="257" font-size="11" text-anchor="start" font-weight="normal" fill="#161616" stroke="#161616" stroke-width="0.22" transform="rotate(-54 277.5 257)">Control</text>
<text x="305" y="256" font-size="11" text-anchor="start" font-weight="normal" fill="#161616" stroke="#161616" stroke-width="0.22" transform="rotate(-54 305 256)">EtOH</text>
<text x="230.8" y="315" font-size="11" text-anchor="middle" font-weight="normal" fill="#161616" stroke="#161616" stroke-width="0.22" transform="rotate(-90 230.8 315)">Min. 490 nm ΔF/F</text>
<text x="352.7" y="223" font-size="14" text-anchor="start" font-weight="bold" fill="#111">F</text>
<line x1="403.7" y1="241.9" x2="403.7" y2="393.7" stroke="#8c8c8c" stroke-width="1"/>
<line x1="403.7" y1="241.9" x2="407" y2="241.9" stroke="#8c8c8c" stroke-width="1"/>
<text x="0" y="0" font-size="10.5" text-anchor="end" font-weight="normal" fill="#161616" stroke="#161616" stroke-width="0.08" transform="translate(401.5 245.70000000000002) scale(0.9 1)">0.1</text>
<line x1="403.7" y1="292.1" x2="407" y2="292.1" stroke="#8c8c8c" stroke-width="1"/>
<text x="0" y="0" font-size="10.5" text-anchor="end" font-weight="normal" fill="#161616" stroke="#161616" stroke-width="0.08" transform="translate(401.5 295.90000000000003) scale(0.9 1)">0</text>
<line x1="403.7" y1="343" x2="407" y2="343" stroke="#8c8c8c" stroke-width="1"/>
<text x="0" y="0" font-size="10.5" text-anchor="end" font-weight="normal" fill="#161616" stroke="#161616" stroke-width="0.08" transform="translate(401.5 346.8) scale(0.9 1)">-0.1</text>
<line x1="403.7" y1="393.7" x2="407" y2="393.7" stroke="#8c8c8c" stroke-width="1"/>
<text x="0" y="0" font-size="10.5" text-anchor="end" font-weight="normal" fill="#161616" stroke="#161616" stroke-width="0.08" transform="translate(401.5 397.5) scale(0.9 1)">-0.2</text>
<rect x="416.2" y="292.1" width="15.4" height="6.4" fill="#6e6e6e" stroke="#444" stroke-width="0.6"/>
<rect x="444.3" y="292.1" width="14.6" height="42.4" fill="#b5121b" stroke="#6d1010" stroke-width="0.6"/>
<line x1="403.7" y1="292.1" x2="470.4" y2="292.1" stroke="#888" stroke-width="1"/>
<line x1="423.8" y1="290.3" x2="423.8" y2="305.6" stroke="#222" stroke-width="0.9"/>
<line x1="420.6" y1="290.3" x2="427.0" y2="290.3" stroke="#222" stroke-width="0.9"/>
<line x1="420.6" y1="305.6" x2="427.0" y2="305.6" stroke="#222" stroke-width="0.9"/>
<line x1="451.6" y1="325" x2="451.6" y2="342.5" stroke="#222" stroke-width="0.9"/>
<line x1="448.40000000000003" y1="325" x2="454.8" y2="325" stroke="#222" stroke-width="0.9"/>
<line x1="448.40000000000003" y1="342.5" x2="454.8" y2="342.5" stroke="#222" stroke-width="0.9"/>
<circle cx="422.3" cy="250.5" r="1.65" fill="#2a2a2a"/>
<circle cx="423.5" cy="278.8" r="1.65" fill="#2a2a2a"/>
<circle cx="423.5" cy="284.1" r="1.65" fill="#2a2a2a"/>
<circle cx="423.5" cy="288.1" r="1.65" fill="#2a2a2a"/>
<circle cx="423.5" cy="297.5" r="1.65" fill="#2a2a2a"/>
<circle cx="423.5" cy="309.6" r="1.65" fill="#2a2a2a"/>
<circle cx="423.5" cy="314.2" r="1.65" fill="#2a2a2a"/>
<circle cx="422" cy="328" r="1.65" fill="#2a2a2a"/>
<circle cx="424" cy="330" r="1.65" fill="#2a2a2a"/>
<circle cx="451.6" cy="297.5" r="1.65" fill="#7a2020"/>
<circle cx="451.6" cy="303" r="1.65" fill="#7a2020"/>
<circle cx="451.6" cy="310.5" r="1.65" fill="#7a2020"/>
<circle cx="451.6" cy="317.5" r="1.65" fill="#7a2020"/>
<circle cx="451.6" cy="327.5" r="1.65" fill="#7a2020"/>
<circle cx="451.6" cy="342.5" r="1.65" fill="#2a2a2a"/>
<circle cx="451.6" cy="349.5" r="1.65" fill="#2a2a2a"/>
<circle cx="451.6" cy="360" r="1.65" fill="#2a2a2a"/>
<circle cx="451.6" cy="367" r="1.65" fill="#2a2a2a"/>
<circle cx="451.6" cy="376.5" r="1.65" fill="#2a2a2a"/>
<line x1="424" y1="382.4" x2="450" y2="382.4" stroke="#444" stroke-width="0.9"/>
<text x="438" y="391" font-size="10" text-anchor="middle" font-weight="normal" fill="#111" stroke="#111" stroke-width="0.2" letter-spacing="2.0">**</text>
<text x="423.5" y="270" font-size="11" text-anchor="start" font-weight="normal" fill="#161616" stroke="#161616" stroke-width="0.22" transform="rotate(-57 423.5 270)">Control</text>
<text x="453" y="270" font-size="11" text-anchor="start" font-weight="normal" fill="#161616" stroke="#161616" stroke-width="0.22" transform="rotate(-57 453 270)">EtOH</text>
<text x="378" y="318" font-size="11" text-anchor="middle" font-weight="normal" fill="#161616" stroke="#161616" stroke-width="0.22" transform="rotate(-90 378 318)">Mean 490 nm ΔF/F (30 min)</text>
<text x="493" y="224.4" font-size="14" text-anchor="start" font-weight="bold" fill="#111">G</text>
<line x1="538.4" y1="241.5" x2="538.4" y2="394.5" stroke="#8c8c8c" stroke-width="1"/>
<line x1="538.4" y1="241.5" x2="541.5" y2="241.5" stroke="#8c8c8c" stroke-width="1"/>
<text x="0" y="0" font-size="10.5" text-anchor="end" font-weight="normal" fill="#161616" stroke="#161616" stroke-width="0.08" transform="translate(535.5 245.3) scale(0.9 1)">0.6</text>
<line x1="538.4" y1="267" x2="541.5" y2="267" stroke="#8c8c8c" stroke-width="1"/>
<text x="0" y="0" font-size="10.5" text-anchor="end" font-weight="normal" fill="#161616" stroke="#161616" stroke-width="0.08" transform="translate(535.5 270.8) scale(0.9 1)">0.5</text>
<line x1="538.4" y1="292.5" x2="541.5" y2="292.5" stroke="#8c8c8c" stroke-width="1"/>
<text x="0" y="0" font-size="10.5" text-anchor="end" font-weight="normal" fill="#161616" stroke="#161616" stroke-width="0.08" transform="translate(535.5 296.3) scale(0.9 1)">0.4</text>
<line x1="538.4" y1="318" x2="541.5" y2="318" stroke="#8c8c8c" stroke-width="1"/>
<text x="0" y="0" font-size="10.5" text-anchor="end" font-weight="normal" fill="#161616" stroke="#161616" stroke-width="0.08" transform="translate(535.5 321.8) scale(0.9 1)">0.3</text>
<line x1="538.4" y1="343.5" x2="541.5" y2="343.5" stroke="#8c8c8c" stroke-width="1"/>
<text x="0" y="0" font-size="10.5" text-anchor="end" font-weight="normal" fill="#161616" stroke="#161616" stroke-width="0.08" transform="translate(535.5 347.3) scale(0.9 1)">0.2</text>
<line x1="538.4" y1="369" x2="541.5" y2="369" stroke="#8c8c8c" stroke-width="1"/>
<text x="0" y="0" font-size="10.5" text-anchor="end" font-weight="normal" fill="#161616" stroke="#161616" stroke-width="0.08" transform="translate(535.5 372.8) scale(0.9 1)">0.1</text>
<line x1="538.4" y1="394.5" x2="541.5" y2="394.5" stroke="#8c8c8c" stroke-width="1"/>
<text x="0" y="0" font-size="10.5" text-anchor="end" font-weight="normal" fill="#161616" stroke="#161616" stroke-width="0.08" transform="translate(535.5 398.3) scale(0.9 1)">0</text>
<line x1="538.4" y1="394.5" x2="646" y2="394.5" stroke="#8c8c8c" stroke-width="1"/>
<rect x="548" y="370.8" width="12.7" height="23.69999999999999" fill="#b5121b" stroke="#7a1010" stroke-width="0.5"/>
<line x1="554.35" y1="361.3" x2="554.35" y2="379.7" stroke="#333" stroke-width="0.9"/>
<line x1="551.35" y1="361.3" x2="557.35" y2="361.3" stroke="#333" stroke-width="0.9"/>
<line x1="551.35" y1="379.7" x2="557.35" y2="379.7" stroke="#333" stroke-width="0.9"/>
<text x="554.35" y="405.5" font-size="10.5" text-anchor="middle" font-weight="normal" fill="#161616" stroke="#161616" stroke-width="0.22">5</text>
<rect x="572.3" y="332.2" width="12.7" height="62.30000000000001" fill="#b5121b" stroke="#7a1010" stroke-width="0.5"/>
<line x1="578.65" y1="319.4" x2="578.65" y2="345" stroke="#333" stroke-width="0.9"/>
<line x1="575.65" y1="319.4" x2="581.65" y2="319.4" stroke="#333" stroke-width="0.9"/>
<line x1="575.65" y1="345" x2="581.65" y2="345" stroke="#333" stroke-width="0.9"/>
<text x="578.65" y="405.5" font-size="10.5" text-anchor="middle" font-weight="normal" fill="#161616" stroke="#161616" stroke-width="0.22">10</text>
<rect x="597" y="300" width="12.7" height="94.5" fill="#b5121b" stroke="#7a1010" stroke-width="0.5"/>
<line x1="603.35" y1="284" x2="603.35" y2="315.8" stroke="#333" stroke-width="0.9"/>
<line x1="600.35" y1="284" x2="606.35" y2="284" stroke="#333" stroke-width="0.9"/>
<line x1="600.35" y1="315.8" x2="606.35" y2="315.8" stroke="#333" stroke-width="0.9"/>
<text x="603.35" y="405.5" font-size="10.5" text-anchor="middle" font-weight="normal" fill="#161616" stroke="#161616" stroke-width="0.22">15</text>
<rect x="622.2" y="266.5" width="12.7" height="128.0" fill="#b5121b" stroke="#7a1010" stroke-width="0.5"/>
<line x1="628.5500000000001" y1="249" x2="628.5500000000001" y2="284.6" stroke="#333" stroke-width="0.9"/>
<line x1="625.5500000000001" y1="249" x2="631.5500000000001" y2="249" stroke="#333" stroke-width="0.9"/>
<line x1="625.5500000000001" y1="284.6" x2="631.5500000000001" y2="284.6" stroke="#333" stroke-width="0.9"/>
<text x="628.5500000000001" y="405.5" font-size="10.5" text-anchor="middle" font-weight="normal" fill="#161616" stroke="#161616" stroke-width="0.22">30</text>
<text x="594" y="416.5" font-size="11" text-anchor="middle" font-weight="normal" fill="#161616" stroke="#161616" stroke-width="0.22">Time (min)</text>
<text x="516" y="315.5" font-size="11.1" text-anchor="middle" font-weight="normal" fill="#161616" stroke="#161616" stroke-width="0.22" transform="rotate(-90 516 315.5)">10% EtOH consumed (mL)</text>
<text x="1.5" y="446" font-size="14" text-anchor="start" font-weight="bold" fill="#111">H</text>
<text x="19.6" y="468" font-size="11" text-anchor="start" font-weight="normal" fill="#161616" stroke="#161616" stroke-width="0.22">Presentation</text>
<rect x="20.6" y="476.6" width="78" height="108.5" fill="#fff" stroke="#2a2a2a" stroke-width="1.3"/>
<path d="M76.6,489 L98,489 L98,584.5 L36.3,584.5 L76.6,554 Z" fill="#ececef" stroke="#555" stroke-width="0.8"/>
<rect x="43.6" y="476.6" width="23.4" height="37.4" fill="#9b6cc2" stroke="none" stroke-width="1"/>
<text x="55.3" y="487" font-size="6.5" text-anchor="middle" font-weight="normal" fill="#3a1f5a" stroke="#3a1f5a" stroke-width="0.25">Glucose</text>
<path d="M36.3,522 L76.6,489 L76.6,554 L36.3,584.5 Z" fill="#ececef" stroke="#333" stroke-width="0.9"/>
<path d="M52.4,534.5 L62.6,525.7 L62.6,541.8 L52.4,545 Z" fill="#9b6cc2"/>
<path d="M52.4,545 L62.6,541.8 L62.6,545 L52.4,552 Z" fill="#fff" stroke="#888" stroke-width="0.4"/>
<line x1="57.5" y1="543.3" x2="63.4" y2="549.2" stroke="#444" stroke-width="2.4" stroke-linecap="round"/>
<path d="M21,487 C24,487 27,487 29,486 C31,484 34,483 37,483 C40,483 42,483.8 43.8,484.3 L43.8,490.4 C41.5,490.4 40,491.5 40,493 C40,494.5 41.5,495.8 43.8,496 L66,497.2 C69,497.2 70,498.5 70,500.5 C70,502.5 69,503.5 66,503.5 L45,504.1 C43,504.5 41,505.2 39.5,506 C41,507 42.5,508.5 42.3,510.5 C42,512.5 40,513.3 37,513 C31,512.5 25,511 21,510.5 Z" fill="#efdcc8" stroke="#8a7a60" stroke-width="0.55"/>
<ellipse cx="64.3" cy="500.4" rx="4.6" ry="2.9" fill="#f5dde6" stroke="#8a7a60" stroke-width="0.5"/>
<path d="M90.6,477 C88,486 86,496 88,506 C90,515 92,522 87.4,533.5" fill="none" stroke="#444" stroke-width="0.7"/>
<line x1="76.7" y1="489" x2="76.7" y2="543" stroke="#444" stroke-width="0.8"/>
<path d="M70.3,546.6 C73,545 76,544 78.3,543.9 C81,543.3 83,543.1 85,543.2 L90,543.8 C93,544.5 96,546 98.2,546.2 L98.2,571.7 C95,572.5 91,572.5 88.5,572 C87.5,571 88.5,570.2 91,569.8 C93,569.2 93.5,568 92.5,567.2 C90.5,566.8 88,566.2 87.5,565.3 C88,564.2 91,564 93.5,564.3 C92,561.5 88,559 84,557 C80,555 76,553.5 72.7,551.8 C71,550 70,548 70.3,546.6 Z" fill="#7c7c7c" stroke="#333" stroke-width="0.6"/>
<ellipse cx="92.3" cy="545.3" rx="3.1" ry="3.6" fill="#f2f2f2" stroke="#555" stroke-width="0.6"/>
<path d="M85,544.7 L85,534.3 C85,533 88.2,533 88.2,534.3 L88.2,544.7 Z" fill="#2a2a2a"/>
<circle cx="81.1" cy="547.4" r="0.8" fill="#111"/>
<rect x="20.6" y="476.6" width="78" height="108.5" fill="none" stroke="#2a2a2a" stroke-width="1.3"/>
<text x="117" y="446" font-size="14" text-anchor="start" font-weight="bold" fill="#111">I</text>
<text x="139.5" y="470.7" font-size="11" text-anchor="start" font-weight="normal" fill="#161616" stroke="#161616" stroke-width="0.22">Glucose</text>
<line x1="140.5" y1="475.6" x2="140.5" y2="586" stroke="#a86060" stroke-width="1.5" stroke-dasharray="5,4.4"/>
<path d="M142.6,519.0 L142.9,519.1 L143.3,519.0 L143.6,519.1 L144.0,519.0 L144.3,519.4 L144.7,519.3 L145.0,519.5 L145.4,519.1 L145.7,519.4 L146.1,519.4 L146.4,519.5 L146.8,519.2 L147.1,519.0 L147.5,518.8 L147.8,518.7 L148.2,518.5 L148.5,518.8 L148.9,518.5 L149.2,518.6 L149.6,518.6 L149.9,518.8 L150.3,518.5 L150.6,518.4 L151.0,518.1 L151.3,518.2 L151.7,518.1 L152.0,518.6 L152.4,519.1 L152.7,519.0 L153.1,518.6 L153.4,518.3 L153.8,518.5 L154.1,518.8 L154.5,519.0 L154.8,519.2 L155.2,519.0 L155.5,519.3 L155.9,518.7 L156.2,518.1 L156.6,517.7 L156.9,518.3 L157.3,518.7 L157.6,518.9 L158.0,518.4 L158.3,518.2 L158.7,518.0 L159.0,518.4 L159.4,518.9 L159.7,518.9 L160.1,518.7 L160.4,518.4 L160.8,518.6 L161.1,518.3 L161.5,518.4 L161.8,518.2 L162.2,518.4 L162.5,518.3 L162.9,518.3 L163.2,518.3 L163.6,518.4 L163.9,518.6 L164.3,518.4 L164.6,518.6 L165.0,518.4 L165.3,518.7 L165.7,518.9 L166.0,519.0 L166.4,519.2 L166.7,519.4 L167.1,519.5 L167.4,518.8 L167.8,517.9 L168.1,517.8 L168.5,518.5 L168.8,519.0 L169.2,519.2 L169.5,518.8 L169.9,518.4 L170.2,518.3 L170.6,518.1 L170.9,518.2 L171.3,518.2 L171.6,518.5 L172.0,518.6 L172.3,518.4 L172.7,518.5 L173.0,518.4 L173.4,518.1 L173.7,517.7 L174.1,517.5 L174.4,518.0 L174.8,518.3 L175.1,518.5 L175.5,518.3 L175.8,518.4 L176.2,518.5 L176.5,518.3 L176.9,517.8 L177.2,517.7 L177.6,517.8 L177.9,518.1 L178.3,517.9 L178.6,517.7 L179.0,517.3 L179.3,517.6 L179.7,518.0 L180.0,518.6 L180.4,518.4 L180.7,518.2 L181.1,517.8 L181.4,517.8 L181.8,517.6 L182.1,517.6 L182.5,517.6 L182.8,518.0 L183.2,517.7 L183.5,517.8 L183.9,517.5 L184.2,517.7 L184.6,517.6 L184.9,517.4 L185.3,517.6 L185.6,517.4 L186.0,517.0 L186.3,517.5 L186.7,518.1 L187.0,518.8 L187.4,518.3 L187.7,517.8 L188.1,517.5 L188.4,517.4 L188.8,517.2 L189.1,517.2 L189.5,517.3 L189.8,516.9 L190.2,516.5 L190.5,516.6 L190.9,516.9 L191.2,517.1 L191.6,517.4 L191.9,517.4 L192.3,517.3 L192.6,517.0 L193.0,517.4 L193.3,517.3 L193.7,517.7 L194.0,517.5 L194.4,517.8 L194.7,517.2 L195.1,517.2 L195.4,517.4 L195.8,517.3 L196.1,517.5 L196.5,517.5 L196.8,517.7 L197.2,517.3 L197.5,517.3 L197.9,517.3 L198.2,517.2 L198.6,517.4 L198.9,517.7 L199.3,518.0 L199.6,518.2 L200.0,518.4 L200.3,518.3 L200.7,518.0 L201.0,517.9 L201.4,517.3 L201.7,517.3 L202.1,517.2 L202.4,517.3 L202.8,517.8 L203.1,517.5 L203.5,517.6 L203.8,517.1 L204.2,517.2 L204.5,517.6 L204.9,517.8 L205.2,518.2 L205.6,518.2 L205.9,518.3 L206.3,517.9 L206.6,518.1 L207.0,517.9 L207.3,517.7 L207.7,517.9 L208.0,517.9 L208.4,518.1 L208.7,517.7 L209.1,518.1 L209.4,518.0 L209.8,518.2 L210.1,518.2 L210.5,519.0 L210.8,519.1 L211.2,519.0 L211.5,518.4 L211.9,519.0 L212.2,518.9 L212.6,519.2 L212.9,518.8 L213.3,518.6 L213.6,518.7 L214.0,518.4 L214.3,519.0 L214.7,519.0 L215.0,519.3 L215.4,519.2 L215.7,519.0 L216.1,519.4 L216.4,519.5 L216.8,519.7 L217.1,519.5 L217.5,519.2 L217.8,519.6 L218.2,519.5 L218.5,519.3 L218.9,519.3 L219.2,519.3 L219.6,519.6 L219.9,519.7 L220.3,519.8" fill="none" stroke="#5f2e96" stroke-width="3.0"/>
<path d="M126.2,515.4 L126.5,515.8 L126.9,513.4 L127.2,514.2 L127.6,514.8 L127.9,513.7 L128.3,514.8 L128.6,515.7 L129.0,513.0 L129.3,512.8 L129.7,514.6 L130.0,514.1 L130.4,516.8 L130.7,516.0 L131.1,514.1 L131.4,514.6 L131.8,514.6 L132.1,514.8 L132.5,515.1 L132.8,513.5 L133.2,513.5 L133.5,514.9 L133.9,515.1 L134.2,513.7 L134.6,514.1 L134.9,514.8 L135.3,515.1 L135.6,516.3 L136.0,516.2 L136.3,514.2 L136.7,515.2 L137.0,517.2 L137.4,515.9 L137.7,515.1 L138.1,514.5 L138.4,515.4 L138.8,514.0 L139.1,513.4 L139.5,514.4 L139.8,515.9 L140.2,517.1 L140.5,516.3 L140.9,515.3 L141.2,516.4 L141.6,518.1 L141.9,517.9 L142.3,519.7 L142.6,519.6 L143.0,518.7 L143.3,519.2 L143.7,521.1 L144.0,522.7 L144.4,522.0 L144.7,521.1 L145.1,521.4 L145.4,525.3 L145.8,526.2 L146.1,525.1 L146.5,526.5 L146.8,528.4 L147.2,529.0 L147.5,530.4 L147.9,531.4 L148.2,528.9 L148.6,532.1 L148.9,532.2 L149.3,533.3 L149.6,534.4 L150.0,536.4 L150.3,538.0 L150.7,539.2 L151.0,539.3 L151.4,539.4 L151.7,539.2 L152.1,540.2 L152.4,541.3 L152.8,538.9 L153.1,537.0 L153.5,540.7 L153.8,541.8 L154.2,539.4 L154.5,542.6 L154.9,541.9 L155.2,541.8 L155.6,544.6 L155.9,541.6 L156.3,542.6 L156.6,542.4 L157.0,543.3 L157.3,544.4 L157.7,544.4 L158.0,544.1 L158.4,540.4 L158.7,542.1 L159.1,542.2 L159.4,542.8 L159.8,542.5 L160.1,545.8 L160.5,544.1 L160.8,547.3 L161.2,544.0 L161.5,539.5 L161.9,545.5 L162.2,544.7 L162.6,544.2 L162.9,543.6 L163.3,547.0 L163.6,543.9 L164.0,541.6 L164.3,546.9 L164.7,543.7 L165.0,546.2 L165.4,543.9 L165.7,546.1 L166.1,546.2 L166.4,547.4 L166.8,546.4 L167.1,544.2 L167.5,546.4 L167.8,543.9 L168.2,544.1 L168.5,544.2 L168.9,542.8 L169.2,543.2 L169.6,545.9 L169.9,545.3 L170.3,541.5 L170.6,544.9 L171.0,541.2 L171.3,545.1 L171.7,543.5 L172.0,543.2 L172.4,545.3 L172.7,540.9 L173.1,545.9 L173.4,545.8 L173.8,543.3 L174.1,545.8 L174.5,543.8 L174.8,544.4 L175.2,542.1 L175.5,544.8 L175.9,539.9 L176.2,543.3 L176.6,544.8 L176.9,547.6 L177.3,547.2 L177.6,545.8 L178.0,544.1 L178.3,541.4 L178.7,544.7 L179.0,545.6 L179.4,546.8 L179.7,546.8 L180.1,543.7 L180.4,545.1 L180.8,544.2 L181.1,546.3 L181.5,542.2 L181.8,546.4 L182.2,544.4 L182.5,542.5 L182.9,544.1 L183.2,543.6 L183.6,543.1 L183.9,549.0 L184.3,549.9 L184.6,543.7 L185.0,540.6 L185.3,541.7 L185.7,539.6 L186.0,543.5 L186.4,541.5 L186.7,546.7 L187.1,544.4 L187.4,544.6 L187.8,541.0 L188.1,546.1 L188.5,545.9 L188.8,546.8 L189.2,545.8 L189.5,543.4 L189.9,544.8 L190.2,546.0 L190.6,547.3 L190.9,547.3 L191.3,547.2 L191.6,545.1 L192.0,545.0 L192.3,543.5 L192.7,544.3 L193.0,546.3 L193.4,545.3 L193.7,547.2 L194.1,546.2 L194.4,546.6 L194.8,545.0 L195.1,546.6 L195.5,543.5 L195.8,544.7 L196.2,546.0 L196.5,545.5 L196.9,545.7 L197.2,543.6 L197.6,546.9 L197.9,546.1 L198.3,546.2 L198.6,544.6 L199.0,547.1 L199.3,539.8 L199.7,547.9 L200.0,546.0 L200.4,545.8 L200.7,548.4 L201.1,548.1 L201.4,544.8 L201.8,544.6 L202.1,545.6 L202.5,544.4 L202.8,548.0 L203.2,543.9 L203.5,547.1 L203.9,545.2 L204.2,542.0 L204.6,542.7 L204.9,543.5 L205.3,542.1 L205.6,544.9 L206.0,546.8 L206.3,546.9 L206.7,546.4 L207.0,548.1 L207.4,546.4 L207.7,547.2 L208.1,546.5 L208.4,547.4 L208.8,547.5 L209.1,546.6 L209.5,546.3 L209.8,541.8 L210.2,547.6 L210.5,545.9 L210.9,548.6 L211.2,546.9 L211.6,545.9 L211.9,544.8 L212.3,544.5 L212.6,542.7 L213.0,548.2 L213.3,546.3 L213.7,540.6 L214.0,541.7 L214.4,546.4 L214.7,547.5 L215.1,549.6 L215.4,549.5 L215.8,546.2 L216.1,546.4 L216.5,548.5 L216.8,544.3 L217.2,543.7 L217.5,545.2 L217.9,542.8 L218.2,548.4 L218.6,547.7 L218.9,547.6 L219.3,546.0 L219.6,546.7 L220.0,545.6 L220.3,546.3 L220.3,553.9 L220.0,554.2 L219.6,553.8 L219.3,553.5 L218.9,555.3 L218.6,557.3 L218.2,559.7 L217.9,556.1 L217.5,557.4 L217.2,557.1 L216.8,557.9 L216.5,555.8 L216.1,556.8 L215.8,559.9 L215.4,558.1 L215.1,562.2 L214.7,559.1 L214.4,556.7 L214.0,556.6 L213.7,556.6 L213.3,557.1 L213.0,556.0 L212.6,557.0 L212.3,554.0 L211.9,555.3 L211.6,556.0 L211.2,556.1 L210.9,557.1 L210.5,558.7 L210.2,557.7 L209.8,555.4 L209.5,558.9 L209.1,558.0 L208.8,555.8 L208.4,556.2 L208.1,554.4 L207.7,558.2 L207.4,557.1 L207.0,561.8 L206.7,557.6 L206.3,556.2 L206.0,559.4 L205.6,557.1 L205.3,555.2 L204.9,555.7 L204.6,557.9 L204.2,554.8 L203.9,556.3 L203.5,555.9 L203.2,558.1 L202.8,555.1 L202.5,555.0 L202.1,557.1 L201.8,553.9 L201.4,562.1 L201.1,556.7 L200.7,555.9 L200.4,554.6 L200.0,556.0 L199.7,557.7 L199.3,554.5 L199.0,557.8 L198.6,558.2 L198.3,554.7 L197.9,553.9 L197.6,555.0 L197.2,556.3 L196.9,553.1 L196.5,554.9 L196.2,555.9 L195.8,555.2 L195.5,556.0 L195.1,554.8 L194.8,560.9 L194.4,559.8 L194.1,559.1 L193.7,559.8 L193.4,555.1 L193.0,553.5 L192.7,554.9 L192.3,554.9 L192.0,555.5 L191.6,554.8 L191.3,557.2 L190.9,555.3 L190.6,554.9 L190.2,553.9 L189.9,555.7 L189.5,555.9 L189.2,556.3 L188.8,556.4 L188.5,558.1 L188.1,555.1 L187.8,555.8 L187.4,554.5 L187.1,559.1 L186.7,557.5 L186.4,557.9 L186.0,558.5 L185.7,554.5 L185.3,556.7 L185.0,557.4 L184.6,555.5 L184.3,563.6 L183.9,556.1 L183.6,555.2 L183.2,559.2 L182.9,556.4 L182.5,558.3 L182.2,556.0 L181.8,557.5 L181.5,553.1 L181.1,558.7 L180.8,556.4 L180.4,555.3 L180.1,556.3 L179.7,556.6 L179.4,554.1 L179.0,553.3 L178.7,554.8 L178.3,553.2 L178.0,552.1 L177.6,559.0 L177.3,557.4 L176.9,559.4 L176.6,554.1 L176.2,551.9 L175.9,553.7 L175.5,553.5 L175.2,554.9 L174.8,552.1 L174.5,554.7 L174.1,552.6 L173.8,555.5 L173.4,557.2 L173.1,554.9 L172.7,554.3 L172.4,557.6 L172.0,553.1 L171.7,552.1 L171.3,555.9 L171.0,555.0 L170.6,556.0 L170.3,554.1 L169.9,552.8 L169.6,559.5 L169.2,556.8 L168.9,554.6 L168.5,555.4 L168.2,554.6 L167.8,555.7 L167.5,555.7 L167.1,557.5 L166.8,555.3 L166.4,556.3 L166.1,555.7 L165.7,557.3 L165.4,554.3 L165.0,554.3 L164.7,559.4 L164.3,560.1 L164.0,557.3 L163.6,558.6 L163.3,555.0 L162.9,557.0 L162.6,555.2 L162.2,554.3 L161.9,559.0 L161.5,557.7 L161.2,554.7 L160.8,555.5 L160.5,554.5 L160.1,553.4 L159.8,557.4 L159.4,554.5 L159.1,553.6 L158.7,553.5 L158.4,554.6 L158.0,555.7 L157.7,552.0 L157.3,553.0 L157.0,555.4 L156.6,558.3 L156.3,555.9 L155.9,556.2 L155.6,552.6 L155.2,550.9 L154.9,549.5 L154.5,552.2 L154.2,555.0 L153.8,551.6 L153.5,548.8 L153.1,547.9 L152.8,550.6 L152.4,551.7 L152.1,551.0 L151.7,547.0 L151.4,547.4 L151.0,547.0 L150.7,546.8 L150.3,547.4 L150.0,543.9 L149.6,541.5 L149.3,541.5 L148.9,540.5 L148.6,539.9 L148.2,539.9 L147.9,538.5 L147.5,537.5 L147.2,537.1 L146.8,535.9 L146.5,533.7 L146.1,534.1 L145.8,533.1 L145.4,532.9 L145.1,529.6 L144.7,528.4 L144.4,530.1 L144.0,530.1 L143.7,527.7 L143.3,526.4 L143.0,527.8 L142.6,527.8 L142.3,527.3 L141.9,525.6 L141.6,525.1 L141.2,525.3 L140.9,522.8 L140.5,524.3 L140.2,525.3 L139.8,524.7 L139.5,522.2 L139.1,520.9 L138.8,521.6 L138.4,523.4 L138.1,522.6 L137.7,524.4 L137.4,524.3 L137.0,524.6 L136.7,523.8 L136.3,522.6 L136.0,523.3 L135.6,523.5 L135.3,522.8 L134.9,522.1 L134.6,522.0 L134.2,522.5 L133.9,523.0 L133.5,522.9 L133.2,523.3 L132.8,520.7 L132.5,522.1 L132.1,522.2 L131.8,522.5 L131.4,524.0 L131.1,522.6 L130.7,523.5 L130.4,524.4 L130.0,522.3 L129.7,521.7 L129.3,521.3 L129.0,522.0 L128.6,523.5 L128.3,522.1 L127.9,521.4 L127.6,522.0 L127.2,523.0 L126.9,524.3 L126.5,523.8 L126.2,523.5 Z" fill="#a6d68e"/>
<path d="M126.2,516.3 L126.5,516.9 L126.9,516.7 L127.2,516.5 L127.6,516.3 L127.9,513.7 L128.3,515.8 L128.6,517.2 L129.0,511.2 L129.3,512.3 L129.7,515.8 L130.0,516.6 L130.4,517.9 L130.7,516.0 L131.1,516.0 L131.4,515.8 L131.8,513.8 L132.1,516.4 L132.5,515.3 L132.8,514.9 L133.2,514.2 L133.5,516.6 L133.9,515.5 L134.2,515.6 L134.6,515.1 L134.9,515.3 L135.3,511.4 L135.6,512.6 L136.0,516.6 L136.3,515.0 L136.7,517.6 L137.0,517.7 L137.4,515.7 L137.7,516.8 L138.1,514.3 L138.4,515.7 L138.8,514.8 L139.1,512.5 L139.5,513.4 L139.8,517.9 L140.2,519.0 L140.5,513.6 L140.9,516.8 L141.2,518.6 L141.6,517.4 L141.9,518.4 L142.3,519.4 L142.6,521.7 L143.0,518.2 L143.3,519.3 L143.7,521.0 L144.0,521.8 L144.4,521.6 L144.7,521.9 L145.1,523.8 L145.4,526.5 L145.8,526.6 L146.1,524.8 L146.5,526.5 L146.8,528.2 L147.2,530.2 L147.5,531.0 L147.9,531.7 L148.2,532.9 L148.6,529.6 L148.9,532.9 L149.3,533.9 L149.6,534.7 L150.0,537.0 L150.3,539.4 L150.7,539.7 L151.0,540.3 L151.4,541.0 L151.7,540.4 L152.1,540.4 L152.4,540.8 L152.8,538.2 L153.1,540.8 L153.5,539.9 L153.8,543.5 L154.2,542.8 L154.5,543.7 L154.9,542.9 L155.2,542.9 L155.6,546.0 L155.9,544.3 L156.3,545.7 L156.6,544.5 L157.0,545.7 L157.3,546.0 L157.7,544.6 L158.0,545.5 L158.4,547.2 L158.7,545.3 L159.1,546.1 L159.4,544.4 L159.8,546.4 L160.1,547.0 L160.5,546.9 L160.8,548.2 L161.2,548.3 L161.5,545.9 L161.9,547.7 L162.2,547.0 L162.6,548.2 L162.9,548.7 L163.3,546.6 L163.6,546.9 L164.0,545.9 L164.3,547.4 L164.7,548.6 L165.0,547.0 L165.4,546.0 L165.7,548.9 L166.1,548.6 L166.4,548.0 L166.8,548.6 L167.1,548.2 L167.5,546.9 L167.8,544.8 L168.2,544.9 L168.5,545.1 L168.9,545.4 L169.2,546.8 L169.6,547.0 L169.9,546.4 L170.3,547.2 L170.6,544.6 L171.0,546.2 L171.3,546.2 L171.7,543.9 L172.0,543.8 L172.4,545.8 L172.7,544.3 L173.1,546.8 L173.4,545.7 L173.8,542.5 L174.1,546.0 L174.5,545.3 L174.8,546.1 L175.2,546.1 L175.5,544.4 L175.9,544.1 L176.2,545.8 L176.6,544.7 L176.9,548.3 L177.3,549.1 L177.6,546.8 L178.0,544.3 L178.3,546.5 L178.7,545.9 L179.0,547.2 L179.4,547.9 L179.7,547.2 L180.1,543.2 L180.4,548.0 L180.8,549.2 L181.1,545.7 L181.5,546.3 L181.8,542.8 L182.2,547.1 L182.5,545.9 L182.9,543.6 L183.2,547.8 L183.6,546.7 L183.9,548.9 L184.3,550.2 L184.6,548.4 L185.0,546.7 L185.3,545.6 L185.7,546.4 L186.0,544.8 L186.4,546.7 L186.7,543.8 L187.1,547.5 L187.4,545.9 L187.8,545.8 L188.1,545.8 L188.5,547.9 L188.8,547.7 L189.2,547.3 L189.5,545.3 L189.9,545.7 L190.2,546.3 L190.6,547.9 L190.9,548.7 L191.3,548.6 L191.6,545.4 L192.0,547.4 L192.3,548.3 L192.7,546.8 L193.0,547.4 L193.4,547.7 L193.7,546.5 L194.1,548.1 L194.4,547.8 L194.8,546.7 L195.1,548.1 L195.5,546.6 L195.8,546.8 L196.2,547.1 L196.5,547.7 L196.9,546.6 L197.2,547.3 L197.6,548.0 L197.9,547.0 L198.3,545.4 L198.6,548.8 L199.0,548.3 L199.3,549.0 L199.7,547.4 L200.0,547.1 L200.4,546.7 L200.7,548.4 L201.1,549.3 L201.4,547.3 L201.8,547.6 L202.1,548.3 L202.5,548.4 L202.8,547.2 L203.2,547.8 L203.5,548.1 L203.9,548.4 L204.2,546.4 L204.6,547.2 L204.9,547.4 L205.3,547.7 L205.6,548.4 L206.0,549.3 L206.3,546.2 L206.7,548.1 L207.0,549.3 L207.4,546.5 L207.7,546.1 L208.1,547.1 L208.4,547.8 L208.8,549.9 L209.1,548.6 L209.5,547.8 L209.8,546.5 L210.2,549.2 L210.5,549.4 L210.9,547.8 L211.2,549.2 L211.6,547.7 L211.9,544.7 L212.3,547.5 L212.6,545.0 L213.0,547.6 L213.3,545.4 L213.7,544.9 L214.0,548.2 L214.4,544.5 L214.7,549.1 L215.1,549.8 L215.4,549.7 L215.8,549.7 L216.1,547.7 L216.5,549.4 L216.8,549.1 L217.2,548.5 L217.5,548.6 L217.9,549.4 L218.2,549.9 L218.6,548.6 L218.9,547.7 L219.3,547.0 L219.6,547.3 L220.0,547.7 L220.3,545.5 L220.3,553.0 L220.0,553.7 L219.6,552.7 L219.3,553.5 L218.9,554.0 L218.6,556.0 L218.2,556.0 L217.9,555.3 L217.5,554.5 L217.2,553.7 L216.8,555.8 L216.5,557.1 L216.1,556.3 L215.8,555.6 L215.4,555.4 L215.1,556.8 L214.7,554.9 L214.4,554.1 L214.0,554.2 L213.7,552.9 L213.3,552.9 L213.0,553.9 L212.6,554.5 L212.3,552.5 L211.9,553.5 L211.6,552.5 L211.2,555.2 L210.9,555.6 L210.5,555.0 L210.2,554.9 L209.8,552.4 L209.5,553.1 L209.1,555.0 L208.8,554.5 L208.4,555.2 L208.1,553.2 L207.7,553.7 L207.4,553.6 L207.0,554.8 L206.7,553.4 L206.3,552.6 L206.0,555.8 L205.6,554.8 L205.3,554.1 L204.9,553.3 L204.6,553.1 L204.2,553.0 L203.9,553.4 L203.5,553.3 L203.2,553.8 L202.8,555.2 L202.5,558.3 L202.1,554.9 L201.8,552.6 L201.4,552.9 L201.1,553.9 L200.7,554.1 L200.4,553.1 L200.0,554.8 L199.7,556.1 L199.3,554.2 L199.0,556.1 L198.6,554.3 L198.3,553.2 L197.9,552.2 L197.6,552.4 L197.2,552.0 L196.9,554.1 L196.5,554.2 L196.2,553.3 L195.8,556.1 L195.5,553.4 L195.1,553.5 L194.8,553.2 L194.4,554.6 L194.1,556.0 L193.7,553.4 L193.4,553.7 L193.0,554.3 L192.7,553.2 L192.3,554.3 L192.0,553.9 L191.6,554.3 L191.3,554.5 L190.9,554.0 L190.6,554.0 L190.2,553.2 L189.9,553.2 L189.5,552.9 L189.2,553.3 L188.8,556.7 L188.5,553.9 L188.1,553.8 L187.8,552.1 L187.4,553.0 L187.1,554.7 L186.7,553.6 L186.4,553.0 L186.0,554.2 L185.7,552.2 L185.3,551.9 L185.0,554.1 L184.6,554.2 L184.3,556.8 L183.9,554.9 L183.6,553.6 L183.2,552.9 L182.9,552.6 L182.5,553.2 L182.2,557.5 L181.8,553.7 L181.5,551.6 L181.1,553.5 L180.8,554.1 L180.4,555.5 L180.1,553.6 L179.7,555.0 L179.4,553.0 L179.0,552.8 L178.7,553.1 L178.3,552.6 L178.0,551.6 L177.6,551.9 L177.3,554.7 L176.9,554.6 L176.6,552.3 L176.2,550.4 L175.9,551.6 L175.5,551.8 L175.2,551.6 L174.8,551.8 L174.5,551.8 L174.1,552.4 L173.8,552.3 L173.4,554.8 L173.1,553.6 L172.7,550.9 L172.4,552.0 L172.0,550.4 L171.7,550.1 L171.3,551.2 L171.0,552.3 L170.6,553.7 L170.3,554.3 L169.9,552.6 L169.6,553.5 L169.2,551.9 L168.9,552.7 L168.5,550.7 L168.2,551.6 L167.8,552.0 L167.5,553.6 L167.1,554.0 L166.8,556.0 L166.4,554.3 L166.1,556.0 L165.7,555.1 L165.4,554.5 L165.0,553.1 L164.7,554.2 L164.3,555.4 L164.0,555.6 L163.6,556.4 L163.3,554.4 L162.9,553.4 L162.6,553.0 L162.2,553.5 L161.9,553.0 L161.5,552.8 L161.2,552.9 L160.8,553.8 L160.5,554.1 L160.1,553.8 L159.8,553.1 L159.4,551.8 L159.1,555.0 L158.7,553.0 L158.4,554.0 L158.0,552.0 L157.7,551.8 L157.3,553.3 L157.0,551.6 L156.6,551.5 L156.3,551.7 L155.9,551.9 L155.6,551.6 L155.2,549.1 L154.9,548.1 L154.5,549.3 L154.2,548.9 L153.8,548.6 L153.5,547.0 L153.1,547.2 L152.8,547.9 L152.4,547.5 L152.1,548.0 L151.7,548.6 L151.4,547.4 L151.0,546.5 L150.7,546.1 L150.3,545.9 L150.0,542.6 L149.6,540.5 L149.3,540.1 L148.9,540.1 L148.6,540.5 L148.2,539.0 L147.9,537.6 L147.5,539.2 L147.2,536.0 L146.8,535.8 L146.5,534.2 L146.1,534.0 L145.8,532.4 L145.4,531.7 L145.1,529.2 L144.7,528.0 L144.4,528.1 L144.0,529.1 L143.7,527.4 L143.3,526.8 L143.0,525.4 L142.6,528.8 L142.3,527.0 L141.9,524.7 L141.6,525.3 L141.2,523.3 L140.9,522.3 L140.5,522.5 L140.2,523.7 L139.8,523.7 L139.5,522.5 L139.1,520.6 L138.8,521.3 L138.4,521.3 L138.1,521.6 L137.7,521.4 L137.4,522.8 L137.0,525.1 L136.7,523.1 L136.3,521.2 L136.0,522.0 L135.6,524.8 L135.3,521.7 L134.9,520.3 L134.6,521.1 L134.2,521.5 L133.9,522.1 L133.5,521.6 L133.2,522.3 L132.8,521.7 L132.5,521.0 L132.1,523.9 L131.8,521.5 L131.4,521.4 L131.1,523.1 L130.7,522.7 L130.4,523.6 L130.0,524.2 L129.7,520.4 L129.3,520.1 L129.0,520.8 L128.6,522.3 L128.3,521.7 L127.9,520.0 L127.6,521.4 L127.2,521.7 L126.9,522.7 L126.5,522.5 L126.2,521.6 Z" fill="#9fd08a" stroke="none"/>
<path d="M126.2,516.8 L126.5,517.4 L126.9,517.2 L127.2,517.0 L127.6,516.8 L127.9,514.2 L128.3,516.3 L128.6,517.7 L129.0,511.7 L129.3,512.8 L129.7,516.3 L130.0,517.1 L130.4,518.4 L130.7,516.5 L131.1,516.5 L131.4,516.3 L131.8,514.3 L132.1,516.9 L132.5,515.8 L132.8,515.4 L133.2,514.7 L133.5,517.1 L133.9,516.0 L134.2,516.1 L134.6,515.6 L134.9,515.8 L135.3,511.9 L135.6,513.1 L136.0,517.1 L136.3,515.5 L136.7,518.1 L137.0,518.2 L137.4,516.2 L137.7,517.3 L138.1,514.8 L138.4,516.2 L138.8,515.3 L139.1,513.0 L139.5,513.9 L139.8,518.4 L140.2,519.5 L140.5,514.1 L140.9,517.3 L141.2,519.1 L141.6,517.9 L141.9,518.9 L142.3,519.9 L142.6,522.2 L143.0,518.7 L143.3,519.8 L143.7,521.5 L144.0,522.3 L144.4,522.1 L144.7,522.4 L145.1,524.3 L145.4,527.0 L145.8,527.1 L146.1,525.3 L146.5,527.0 L146.8,528.7 L147.2,530.7 L147.5,531.5 L147.9,532.2 L148.2,533.4 L148.6,530.1 L148.9,533.4 L149.3,534.4 L149.6,535.2 L150.0,537.5 L150.3,539.9 L150.7,540.2 L151.0,540.8 L151.4,541.5 L151.7,540.9 L152.1,540.9 L152.4,541.3 L152.8,538.7 L153.1,541.3 L153.5,540.4 L153.8,544.0 L154.2,543.3 L154.5,544.2 L154.9,543.4 L155.2,543.4 L155.6,546.5 L155.9,544.8 L156.3,546.2 L156.6,545.0 L157.0,546.2 L157.3,546.5 L157.7,545.1 L158.0,546.0 L158.4,547.7 L158.7,545.8 L159.1,546.6 L159.4,544.9 L159.8,546.9 L160.1,547.5 L160.5,547.4 L160.8,548.7 L161.2,548.8 L161.5,546.4 L161.9,548.2 L162.2,547.5 L162.6,548.7 L162.9,549.2 L163.3,547.1 L163.6,547.4 L164.0,546.4 L164.3,547.9 L164.7,549.1 L165.0,547.5 L165.4,546.5 L165.7,549.4 L166.1,549.1 L166.4,548.5 L166.8,549.1 L167.1,548.7 L167.5,547.4 L167.8,545.3 L168.2,545.4 L168.5,545.6 L168.9,545.9 L169.2,547.3 L169.6,547.5 L169.9,546.9 L170.3,547.7 L170.6,545.1 L171.0,546.7 L171.3,546.7 L171.7,544.4 L172.0,544.3 L172.4,546.3 L172.7,544.8 L173.1,547.3 L173.4,546.2 L173.8,543.0 L174.1,546.5 L174.5,545.8 L174.8,546.6 L175.2,546.6 L175.5,544.9 L175.9,544.6 L176.2,546.3 L176.6,545.2 L176.9,548.8 L177.3,549.6 L177.6,547.3 L178.0,544.8 L178.3,547.0 L178.7,546.4 L179.0,547.7 L179.4,548.4 L179.7,547.7 L180.1,543.7 L180.4,548.5 L180.8,549.7 L181.1,546.2 L181.5,546.8 L181.8,543.3 L182.2,547.6 L182.5,546.4 L182.9,544.1 L183.2,548.3 L183.6,547.2 L183.9,549.4 L184.3,550.7 L184.6,548.9 L185.0,547.2 L185.3,546.1 L185.7,546.9 L186.0,545.3 L186.4,547.2 L186.7,544.3 L187.1,548.0 L187.4,546.4 L187.8,546.3 L188.1,546.3 L188.5,548.4 L188.8,548.2 L189.2,547.8 L189.5,545.8 L189.9,546.2 L190.2,546.8 L190.6,548.4 L190.9,549.2 L191.3,549.1 L191.6,545.9 L192.0,547.9 L192.3,548.8 L192.7,547.3 L193.0,547.9 L193.4,548.2 L193.7,547.0 L194.1,548.6 L194.4,548.3 L194.8,547.2 L195.1,548.6 L195.5,547.1 L195.8,547.3 L196.2,547.6 L196.5,548.2 L196.9,547.1 L197.2,547.8 L197.6,548.5 L197.9,547.5 L198.3,545.9 L198.6,549.3 L199.0,548.8 L199.3,549.5 L199.7,547.9 L200.0,547.6 L200.4,547.2 L200.7,548.9 L201.1,549.8 L201.4,547.8 L201.8,548.1 L202.1,548.8 L202.5,548.9 L202.8,547.7 L203.2,548.3 L203.5,548.6 L203.9,548.9 L204.2,546.9 L204.6,547.7 L204.9,547.9 L205.3,548.2 L205.6,548.9 L206.0,549.8 L206.3,546.7 L206.7,548.6 L207.0,549.8 L207.4,547.0 L207.7,546.6 L208.1,547.6 L208.4,548.3 L208.8,550.4 L209.1,549.1 L209.5,548.3 L209.8,547.0 L210.2,549.7 L210.5,549.9 L210.9,548.3 L211.2,549.7 L211.6,548.2 L211.9,545.2 L212.3,548.0 L212.6,545.5 L213.0,548.1 L213.3,545.9 L213.7,545.4 L214.0,548.7 L214.4,545.0 L214.7,549.6 L215.1,550.3 L215.4,550.2 L215.8,550.2 L216.1,548.2 L216.5,549.9 L216.8,549.6 L217.2,549.0 L217.5,549.1 L217.9,549.9 L218.2,550.4 L218.6,549.1 L218.9,548.2 L219.3,547.5 L219.6,547.8 L220.0,548.2 L220.3,546.0 L220.3,552.5 L220.0,553.2 L219.6,552.2 L219.3,553.0 L218.9,553.5 L218.6,555.5 L218.2,555.5 L217.9,554.8 L217.5,554.0 L217.2,553.2 L216.8,555.3 L216.5,556.6 L216.1,555.8 L215.8,555.1 L215.4,554.9 L215.1,556.3 L214.7,554.4 L214.4,553.6 L214.0,553.7 L213.7,552.4 L213.3,552.4 L213.0,553.4 L212.6,554.0 L212.3,552.0 L211.9,553.0 L211.6,552.0 L211.2,554.7 L210.9,555.1 L210.5,554.5 L210.2,554.4 L209.8,551.9 L209.5,552.6 L209.1,554.5 L208.8,554.0 L208.4,554.7 L208.1,552.7 L207.7,553.2 L207.4,553.1 L207.0,554.3 L206.7,552.9 L206.3,552.1 L206.0,555.3 L205.6,554.3 L205.3,553.6 L204.9,552.8 L204.6,552.6 L204.2,552.5 L203.9,552.9 L203.5,552.8 L203.2,553.3 L202.8,554.7 L202.5,557.8 L202.1,554.4 L201.8,552.1 L201.4,552.4 L201.1,553.4 L200.7,553.6 L200.4,552.6 L200.0,554.3 L199.7,555.6 L199.3,553.7 L199.0,555.6 L198.6,553.8 L198.3,552.7 L197.9,551.7 L197.6,551.9 L197.2,551.5 L196.9,553.6 L196.5,553.7 L196.2,552.8 L195.8,555.6 L195.5,552.9 L195.1,553.0 L194.8,552.7 L194.4,554.1 L194.1,555.5 L193.7,552.9 L193.4,553.2 L193.0,553.8 L192.7,552.7 L192.3,553.8 L192.0,553.4 L191.6,553.8 L191.3,554.0 L190.9,553.5 L190.6,553.5 L190.2,552.7 L189.9,552.7 L189.5,552.4 L189.2,552.8 L188.8,556.2 L188.5,553.4 L188.1,553.3 L187.8,551.6 L187.4,552.5 L187.1,554.2 L186.7,553.1 L186.4,552.5 L186.0,553.7 L185.7,551.7 L185.3,551.4 L185.0,553.6 L184.6,553.7 L184.3,556.3 L183.9,554.4 L183.6,553.1 L183.2,552.4 L182.9,552.1 L182.5,552.7 L182.2,557.0 L181.8,553.2 L181.5,551.1 L181.1,553.0 L180.8,553.6 L180.4,555.0 L180.1,553.1 L179.7,554.5 L179.4,552.5 L179.0,552.3 L178.7,552.6 L178.3,552.1 L178.0,551.1 L177.6,551.4 L177.3,554.2 L176.9,554.1 L176.6,551.8 L176.2,549.9 L175.9,551.1 L175.5,551.3 L175.2,551.1 L174.8,551.3 L174.5,551.3 L174.1,551.9 L173.8,551.8 L173.4,554.3 L173.1,553.1 L172.7,550.4 L172.4,551.5 L172.0,549.9 L171.7,549.6 L171.3,550.7 L171.0,551.8 L170.6,553.2 L170.3,553.8 L169.9,552.1 L169.6,553.0 L169.2,551.4 L168.9,552.2 L168.5,550.2 L168.2,551.1 L167.8,551.5 L167.5,553.1 L167.1,553.5 L166.8,555.5 L166.4,553.8 L166.1,555.5 L165.7,554.6 L165.4,554.0 L165.0,552.6 L164.7,553.7 L164.3,554.9 L164.0,555.1 L163.6,555.9 L163.3,553.9 L162.9,552.9 L162.6,552.5 L162.2,553.0 L161.9,552.5 L161.5,552.3 L161.2,552.4 L160.8,553.3 L160.5,553.6 L160.1,553.3 L159.8,552.6 L159.4,551.3 L159.1,554.5 L158.7,552.5 L158.4,553.5 L158.0,551.5 L157.7,551.3 L157.3,552.8 L157.0,551.1 L156.6,551.0 L156.3,551.2 L155.9,551.4 L155.6,551.1 L155.2,548.6 L154.9,547.6 L154.5,548.8 L154.2,548.4 L153.8,548.1 L153.5,546.5 L153.1,546.7 L152.8,547.4 L152.4,547.0 L152.1,547.5 L151.7,548.1 L151.4,546.9 L151.0,546.0 L150.7,545.6 L150.3,545.4 L150.0,542.1 L149.6,540.0 L149.3,539.6 L148.9,539.6 L148.6,540.0 L148.2,538.5 L147.9,537.1 L147.5,538.7 L147.2,535.5 L146.8,535.3 L146.5,533.7 L146.1,533.5 L145.8,531.9 L145.4,531.2 L145.1,528.7 L144.7,527.5 L144.4,527.6 L144.0,528.6 L143.7,526.9 L143.3,526.3 L143.0,524.9 L142.6,528.3 L142.3,526.5 L141.9,524.2 L141.6,524.8 L141.2,522.8 L140.9,521.8 L140.5,522.0 L140.2,523.2 L139.8,523.2 L139.5,522.0 L139.1,520.1 L138.8,520.8 L138.4,520.8 L138.1,521.1 L137.7,520.9 L137.4,522.3 L137.0,524.6 L136.7,522.6 L136.3,520.7 L136.0,521.5 L135.6,524.3 L135.3,521.2 L134.9,519.8 L134.6,520.6 L134.2,521.0 L133.9,521.6 L133.5,521.1 L133.2,521.8 L132.8,521.2 L132.5,520.5 L132.1,523.4 L131.8,521.0 L131.4,520.9 L131.1,522.6 L130.7,522.2 L130.4,523.1 L130.0,523.7 L129.7,519.9 L129.3,519.6 L129.0,520.3 L128.6,521.8 L128.3,521.2 L127.9,519.5 L127.6,520.9 L127.2,521.2 L126.9,522.2 L126.5,522.0 L126.2,521.1 Z" fill="#3f7f2f" stroke="none"/>
<line x1="134.3" y1="508" x2="134.3" y2="518" stroke="#3f7f2f" stroke-width="1.0"/>
<line x1="140.5" y1="512" x2="140.5" y2="528" stroke="#7a3a2a" stroke-width="1.3"/>
<line x1="164" y1="476.5" x2="164" y2="502.5" stroke="#1a1a1a" stroke-width="1.3"/>
<text x="169.5" y="493.2" font-size="10.8" text-anchor="start" font-weight="normal" fill="#161616" stroke="#161616" stroke-width="0.22">0.2 ΔF/F</text>
<line x1="126.2" y1="586.1" x2="220.8" y2="586.1" stroke="#333" stroke-width="1.0"/>
<line x1="140.5" y1="581.5" x2="140.5" y2="586.1" stroke="#333" stroke-width="0.9"/>
<line x1="180.4" y1="581.5" x2="180.4" y2="586.1" stroke="#333" stroke-width="0.9"/>
<line x1="220.2" y1="581.5" x2="220.2" y2="586.1" stroke="#333" stroke-width="0.9"/>
<text x="140.5" y="597.9" font-size="10.5" text-anchor="middle" font-weight="normal" fill="#161616" stroke="#161616" stroke-width="0.22">0</text>
<text x="180.6" y="597.9" font-size="10.5" text-anchor="middle" font-weight="normal" fill="#161616" stroke="#161616" stroke-width="0.22">15</text>
<text x="219.5" y="597.9" font-size="10.5" text-anchor="middle" font-weight="normal" fill="#161616" stroke="#161616" stroke-width="0.22">30</text>
<text x="182" y="609.5" font-size="11" text-anchor="middle" font-weight="normal" fill="#161616" stroke="#161616" stroke-width="0.22">Time (min)</text>
<text x="230.3" y="446" font-size="14" text-anchor="start" font-weight="bold" fill="#111">J</text>
<text x="248" y="465" font-size="11" text-anchor="start" font-weight="normal" fill="#161616" stroke="#161616" stroke-width="0.22">First lick</text>
<rect x="249.4" y="476.6" width="77.7" height="107.7" fill="#ececef" stroke="#2a2a2a" stroke-width="1.3"/>
<line x1="297" y1="477" x2="297" y2="512.5" stroke="#999" stroke-width="1.4"/>
<path d="M249.4,496.4 L268.5,481 L268.5,515.4 L249.4,515.4 Z" fill="#9d6fc4"/>
<path d="M249.4,515.4 L268.5,515.4 L268.5,518 L249.4,533 Z" fill="#fff"/>
<line x1="249.4" y1="533" x2="262" y2="523" stroke="#777" stroke-width="0.6"/>
<line x1="249.4" y1="574" x2="293.4" y2="540.4" stroke="#333" stroke-width="0.8"/>
<line x1="255.5" y1="517.2" x2="270.8" y2="529.6" stroke="#333" stroke-width="4.2" stroke-linecap="butt"/>
<line x1="256" y1="517.6" x2="270.3" y2="529.2" stroke="#6a6a6a" stroke-width="2.8"/>
<ellipse cx="276.5" cy="529.3" rx="3.2" ry="1.9" fill="#d47aa8"/>
<path d="M296.3,514.5 C297.5,510 300,507 303,505.5 C305.5,504.5 307.5,505 308,507 L308,514 Z" fill="#f2f2f2" stroke="#444" stroke-width="0.6"/>
<path d="M275.8,520.6 C279,517.5 284,515 290,513.5 C297,512 305,511.5 312,512.5 C320,513.5 325,514.5 327.1,515 L327.1,574.4 L315.4,574.1 C313,573.5 311.8,572 312.4,571.1 C314,569.8 319,569.6 324.9,569.7 C325.5,567 325,565 324.2,563.8 C320,563.3 316,563 313.9,562.3 C311,561.5 309.5,560.5 309.5,559.4 C311,558.5 318,558.6 324.9,558.7 C325,557.5 324.5,557 323.4,556.5 C321,553.5 319,551.5 316.8,549.9 C313,547.5 310,546.3 306.6,544.8 C302,542.5 297.5,541 293.4,538.9 C287,535.5 281,531.5 277.2,528.6 C275.8,526 275.3,523 275.8,520.6 Z" fill="#7c7c7c" stroke="#333" stroke-width="0.7"/>
<circle cx="276.3" cy="521" r="1.3" fill="#111"/>
<ellipse cx="319.4" cy="517.6" rx="6" ry="7.8" transform="rotate(15 319.4 517.6)" fill="#f4f4f4" stroke="#333" stroke-width="0.7"/>
<path d="M321.5,512 C323,515 323,519 321,522" fill="none" stroke="#bba" stroke-width="0.5"/>
<rect x="305.1" y="493.5" width="7.6" height="24" fill="#333" stroke="#111" stroke-width="0.5"/>
<ellipse cx="308.9" cy="494" rx="3.8" ry="1.3" fill="#555"/>
<circle cx="297" cy="521.3" r="1.4" fill="#111"/>
<line x1="311.7" y1="476.6" x2="308.8" y2="493.5" stroke="#444" stroke-width="0.7"/>
<text x="342.2" y="446" font-size="14" text-anchor="start" font-weight="bold" fill="#111">K</text>
<text x="449" y="457.9" font-size="11" text-anchor="start" font-weight="normal" fill="#161616" stroke="#161616" stroke-width="0.22">First lick</text>
<text x="399" y="481.2" font-size="11" text-anchor="end" font-weight="normal" fill="#161616" stroke="#161616" stroke-width="0.22">Naive</text>
<text x="399" y="489.9" font-size="11" text-anchor="end" font-weight="normal" fill="#161616" stroke="#161616" stroke-width="0.22">glucose</text>
<text x="395.8" y="517" font-size="11" text-anchor="end" font-weight="normal" fill="#161616" stroke="#161616" stroke-width="0.22">Habituated</text>
<text x="395.8" y="526" font-size="11" text-anchor="end" font-weight="normal" fill="#161616" stroke="#161616" stroke-width="0.22">glucose</text>
<text x="397" y="569.8" font-size="11" text-anchor="end" font-weight="normal" fill="#161616" stroke="#161616" stroke-width="0.22">Habituated</text>
<text x="397" y="578.6" font-size="11" text-anchor="end" font-weight="normal" fill="#161616" stroke="#161616" stroke-width="0.22">EtOH</text>
<path d="M404.4,482.8 L404.9,482.8 L405.4,483.3 L405.9,482.9 L406.4,483.2 L406.9,483.1 L407.4,483.1 L407.9,482.5 L408.4,482.1 L408.9,482.2 L409.4,482.9 L409.9,483.5 L410.4,483.5 L410.9,483.0 L411.4,483.3 L411.9,483.7 L412.4,483.6 L412.9,483.1 L413.4,482.7 L413.9,483.0 L414.4,483.3 L414.9,483.3 L415.4,483.4 L415.9,483.3 L416.4,483.6 L416.9,483.3 L417.4,483.1 L417.9,483.4 L418.4,483.5 L418.9,483.6 L419.4,483.2 L419.9,483.1 L420.4,483.0 L420.9,483.3 L421.4,483.8 L421.9,483.6 L422.4,483.2 L422.9,482.5 L423.4,482.4 L423.9,482.3 L424.4,483.1 L424.9,483.5 L425.4,483.9 L425.9,483.2 L426.4,483.2 L426.9,482.9 L427.4,483.2 L427.9,483.4 L428.4,483.5 L428.9,483.4 L429.4,482.7 L429.9,482.4 L430.4,482.6 L430.9,482.8 L431.4,482.5 L431.9,482.1 L432.4,482.4 L432.9,482.9 L433.4,483.2 L433.9,483.1 L434.4,483.2 L434.9,483.3 L435.4,483.1 L435.9,483.2 L436.4,483.5 L436.9,484.0 L437.4,484.0 L437.9,483.8 L438.4,483.3 L438.9,483.0 L439.4,482.7 L439.9,482.9 L440.4,483.0 L440.9,483.5 L441.4,483.8 L441.9,483.8 L442.4,483.6 L442.9,482.9 L443.4,482.7 L443.9,482.3 L444.4,482.7 L444.9,482.7 L445.4,482.8 L445.9,482.7 L446.4,482.4 L446.9,482.6 L447.4,482.7 L447.9,483.5 L448.4,483.2 L448.9,483.0 L449.4,482.1 L449.9,482.8 L450.4,482.8 L450.9,483.5 L451.4,482.7 L451.9,482.7 L452.4,482.4 L452.9,482.5 L453.4,482.3 L453.9,482.2 L454.4,482.3 L454.9,482.1 L455.4,482.7 L455.9,482.9 L456.4,483.4 L456.9,483.1 L457.4,483.0 L457.9,483.0 L458.4,483.1 L458.9,483.1 L459.4,483.4 L459.9,483.2 L460.4,483.6 L460.9,483.0 L461.4,483.1 L461.9,483.0 L462.4,483.6 L462.9,483.9 L463.4,483.4 L463.9,482.9 L464.4,483.0 L464.9,483.1 L465.4,482.9 L465.9,482.8 L466.4,483.1 L466.9,483.1 L467.4,482.7 L467.9,482.9 L468.4,483.1 L468.9,483.1 L469.4,482.6 L469.9,483.1 L470.4,482.8 L470.9,483.0 L471.4,482.7 L471.9,483.2 L472.4,483.3 L472.9,483.3 L473.4,483.3 L473.9,483.2 L474.4,483.6 L474.9,482.8 L475.4,482.7 L475.9,482.4 L476.4,482.6 L476.9,483.0 L477.4,483.1 L477.9,483.1 L478.4,482.6 L478.9,482.7 L479.4,483.2 L479.9,483.1 L480.4,483.0 L480.9,483.1 L481.4,483.1 L481.9,482.8 L482.4,483.1 L482.9,483.7 L483.4,483.5 L483.9,483.0 L484.4,483.0 L484.9,483.4 L485.4,483.6 L485.9,483.2 L486.4,483.1 L486.9,483.3 L487.4,482.8 L487.9,482.9 L488.4,482.5 L488.9,482.7 L489.4,482.3 L489.9,482.3 L490.4,482.4 L490.9,482.6 L491.4,482.7 L491.9,483.3 L492.4,482.8 L492.9,483.2 L493.4,482.6 L493.9,483.0 L494.4,482.7 L494.9,483.3 L495.4,482.9 L495.9,483.0 L496.4,482.8" fill="none" stroke="#5f2e96" stroke-width="1.5"/>
<path d="M404.4,515.4 L404.9,515.6 L405.4,515.8 L405.9,515.5 L406.4,515.0 L406.9,514.8 L407.4,515.2 L407.9,515.5 L408.4,515.3 L408.9,515.6 L409.4,515.8 L409.9,516.1 L410.4,516.1 L410.9,516.0 L411.4,515.8 L411.9,515.6 L412.4,515.2 L412.9,515.7 L413.4,515.6 L413.9,515.8 L414.4,515.4 L414.9,515.7 L415.4,515.7 L415.9,515.8 L416.4,515.4 L416.9,515.5 L417.4,515.7 L417.9,515.9 L418.4,515.9 L418.9,516.4 L419.4,516.2 L419.9,515.9 L420.4,515.1 L420.9,515.4 L421.4,515.8 L421.9,516.0 L422.4,515.6 L422.9,515.1 L423.4,515.3 L423.9,515.8 L424.4,516.1 L424.9,515.8 L425.4,515.6 L425.9,515.5 L426.4,515.8 L426.9,515.9 L427.4,516.0 L427.9,516.1 L428.4,515.9 L428.9,515.9 L429.4,515.9 L429.9,515.5 L430.4,515.3 L430.9,515.0 L431.4,515.2 L431.9,515.2 L432.4,515.8 L432.9,515.7 L433.4,516.0 L433.9,515.2 L434.4,515.3 L434.9,515.1 L435.4,515.7 L435.9,516.0 L436.4,516.2 L436.9,515.9 L437.4,515.6 L437.9,515.6 L438.4,515.7 L438.9,515.4 L439.4,514.9 L439.9,514.7 L440.4,515.2 L440.9,515.5 L441.4,516.0 L441.9,515.7 L442.4,515.7 L442.9,515.7 L443.4,515.7 L443.9,515.8 L444.4,515.5 L444.9,515.4 L445.4,515.2 L445.9,515.1 L446.4,515.3 L446.9,515.3 L447.4,515.6 L447.9,515.6 L448.4,515.9 L448.9,516.0 L449.4,515.9 L449.9,515.6 L450.4,515.4 L450.9,515.0 L451.4,514.7 L451.9,514.4 L452.4,514.6 L452.9,515.1 L453.4,515.2 L453.9,515.4 L454.4,515.6 L454.9,515.8 L455.4,516.0 L455.9,515.5 L456.4,515.5 L456.9,515.0 L457.4,515.2 L457.9,515.5 L458.4,515.3 L458.9,515.5 L459.4,515.3 L459.9,515.6 L460.4,515.1 L460.9,515.1 L461.4,515.1 L461.9,515.5 L462.4,515.5 L462.9,516.1 L463.4,516.0 L463.9,515.7 L464.4,515.3 L464.9,515.4 L465.4,516.1 L465.9,516.2 L466.4,516.3 L466.9,516.3 L467.4,515.8 L467.9,515.5 L468.4,514.9 L468.9,515.1 L469.4,514.9 L469.9,515.3 L470.4,515.3 L470.9,515.3 L471.4,514.9 L471.9,515.0 L472.4,515.6 L472.9,516.4 L473.4,517.1 L473.9,517.0 L474.4,516.2 L474.9,514.9 L475.4,514.8 L475.9,514.9 L476.4,515.3 L476.9,515.1 L477.4,515.3 L477.9,515.7 L478.4,515.9 L478.9,515.9 L479.4,515.3 L479.9,514.8 L480.4,514.7 L480.9,515.0 L481.4,515.9 L481.9,516.1 L482.4,516.4 L482.9,515.8 L483.4,515.4 L483.9,514.9 L484.4,514.8 L484.9,515.7 L485.4,515.8 L485.9,516.2 L486.4,515.4 L486.9,515.8 L487.4,515.7 L487.9,515.9 L488.4,515.7 L488.9,515.4 L489.4,515.5 L489.9,515.4 L490.4,515.3 L490.9,514.8 L491.4,515.0 L491.9,515.7 L492.4,516.1 L492.9,516.0 L493.4,515.7 L493.9,516.0 L494.4,516.1 L494.9,515.9 L495.4,515.8 L495.9,515.9 L496.4,516.0" fill="none" stroke="#5f2e96" stroke-width="1.5"/>
<path d="M404.4,574.8 L404.9,574.7 L405.4,574.4 L405.9,573.7 L406.4,574.1 L406.9,574.3 L407.4,574.9 L407.9,574.5 L408.4,574.8 L408.9,575.0 L409.4,575.1 L409.9,574.7 L410.4,574.3 L410.9,574.1 L411.4,574.3 L411.9,574.2 L412.4,574.6 L412.9,574.5 L413.4,574.6 L413.9,574.8 L414.4,574.7 L414.9,574.4 L415.4,574.1 L415.9,573.7 L416.4,574.2 L416.9,574.4 L417.4,575.0 L417.9,574.9 L418.4,574.1 L418.9,574.2 L419.4,574.3 L419.9,574.5 L420.4,574.9 L420.9,574.5 L421.4,574.3 L421.9,573.3 L422.4,573.7 L422.9,574.2 L423.4,574.8 L423.9,574.7 L424.4,574.4 L424.9,574.5 L425.4,574.4 L425.9,574.3 L426.4,574.4 L426.9,574.7 L427.4,575.1 L427.9,574.9 L428.4,574.7 L428.9,574.5 L429.4,574.5 L429.9,574.5 L430.4,574.7 L430.9,574.5 L431.4,574.3 L431.9,574.5 L432.4,574.2 L432.9,574.6 L433.4,574.3 L433.9,575.0 L434.4,574.7 L434.9,574.5 L435.4,574.1 L435.9,574.5 L436.4,574.9 L436.9,575.0 L437.4,574.9 L437.9,575.0 L438.4,575.4 L438.9,575.1 L439.4,574.8 L439.9,574.4 L440.4,574.8 L440.9,575.2 L441.4,574.9 L441.9,574.6 L442.4,574.5 L442.9,573.8 L443.4,574.0 L443.9,574.4 L444.4,575.1 L444.9,575.3 L445.4,574.4 L445.9,574.4 L446.4,574.3 L446.9,575.1 L447.4,574.8 L447.9,574.1 L448.4,573.7 L448.9,574.4 L449.4,574.9 L449.9,574.3 L450.4,573.6 L450.9,573.9 L451.4,574.3 L451.9,574.6 L452.4,573.8 L452.9,573.8 L453.4,574.0 L453.9,574.6 L454.4,574.5 L454.9,574.5 L455.4,574.9 L455.9,575.0 L456.4,574.5 L456.9,574.6 L457.4,574.6 L457.9,574.8 L458.4,574.9 L458.9,575.1 L459.4,575.0 L459.9,574.0 L460.4,574.0 L460.9,574.1 L461.4,574.4 L461.9,574.7 L462.4,575.8 L462.9,575.6 L463.4,575.1 L463.9,575.5 L464.4,575.5 L464.9,575.4 L465.4,575.1 L465.9,575.5 L466.4,575.6 L466.9,576.1 L467.4,575.5 L467.9,575.8 L468.4,575.4 L468.9,576.1 L469.4,576.5 L469.9,576.7 L470.4,576.6 L470.9,576.3 L471.4,575.9 L471.9,576.1 L472.4,576.1 L472.9,576.4 L473.4,576.4 L473.9,576.2 L474.4,576.0 L474.9,575.5 L475.4,575.7 L475.9,576.4 L476.4,576.6 L476.9,576.4 L477.4,575.6 L477.9,575.7 L478.4,575.4 L478.9,575.5 L479.4,575.6 L479.9,576.0 L480.4,576.4 L480.9,576.3 L481.4,576.4 L481.9,576.3 L482.4,577.0 L482.9,576.2 L483.4,577.0 L483.9,576.4 L484.4,576.5 L484.9,575.4 L485.4,575.7 L485.9,576.2 L486.4,576.7 L486.9,576.7 L487.4,576.1 L487.9,575.9 L488.4,575.1 L488.9,575.2 L489.4,575.4 L489.9,575.5 L490.4,576.4 L490.9,576.5 L491.4,576.7 L491.9,576.3 L492.4,576.1 L492.9,576.4 L493.4,576.3 L493.9,576.1 L494.4,576.1 L494.9,576.1 L495.4,576.3 L495.9,576.4 L496.4,576.3" fill="none" stroke="#5f2e96" stroke-width="1.5"/>
<line x1="450.6" y1="466.8" x2="450.6" y2="591" stroke="#b05050" stroke-width="1.5" stroke-dasharray="5,4"/>
<path d="M404.4,474.0 L404.8,474.0 L405.2,475.4 L405.6,475.3 L406.0,474.7 L406.4,476.0 L406.8,475.3 L407.2,474.3 L407.6,475.0 L408.0,476.5 L408.4,474.9 L408.8,476.8 L409.2,475.9 L409.6,475.8 L410.0,475.4 L410.4,476.4 L410.8,476.8 L411.2,476.7 L411.6,477.7 L412.0,477.6 L412.4,476.6 L412.8,475.9 L413.2,475.7 L413.6,476.8 L414.0,477.9 L414.4,477.7 L414.8,477.2 L415.2,478.0 L415.6,478.5 L416.0,479.1 L416.4,478.5 L416.8,478.7 L417.2,478.1 L417.6,478.3 L418.0,479.4 L418.4,480.1 L418.8,479.1 L419.2,480.3 L419.6,480.1 L420.0,477.9 L420.4,480.0 L420.8,480.4 L421.2,480.5 L421.6,481.5 L422.0,481.1 L422.4,479.5 L422.8,479.9 L423.2,481.0 L423.6,480.9 L424.0,480.4 L424.4,480.7 L424.8,481.2 L425.2,481.7 L425.6,480.0 L426.0,480.8 L426.4,480.4 L426.8,481.0 L427.2,481.6 L427.6,481.2 L428.0,483.3 L428.4,483.1 L428.8,482.8 L429.2,482.6 L429.6,481.9 L430.0,482.7 L430.4,483.1 L430.8,482.6 L431.2,480.9 L431.6,482.8 L432.0,484.6 L432.4,483.6 L432.8,483.6 L433.2,482.8 L433.6,483.0 L434.0,483.5 L434.4,484.1 L434.8,484.0 L435.2,485.5 L435.6,484.1 L436.0,485.1 L436.4,484.6 L436.8,485.2 L437.2,484.0 L437.6,482.2 L438.0,482.3 L438.4,484.3 L438.8,484.3 L439.2,484.1 L439.6,483.7 L440.0,484.2 L440.4,485.7 L440.8,485.6 L441.2,485.9 L441.6,485.8 L442.0,486.5 L442.4,485.3 L442.8,486.7 L443.2,486.2 L443.6,486.0 L444.0,486.6 L444.4,485.5 L444.8,488.5 L445.2,488.0 L445.6,488.0 L446.0,488.0 L446.4,487.3 L446.8,488.0 L447.2,487.8 L447.6,487.8 L448.0,487.2 L448.4,485.7 L448.8,485.0 L449.2,483.4 L449.6,481.9 L450.0,480.7 L450.4,479.3 L450.8,478.8 L451.2,477.3 L451.6,477.7 L452.0,477.2 L452.4,475.9 L452.8,476.6 L453.2,476.2 L453.6,477.0 L454.0,476.5 L454.4,476.4 L454.8,478.3 L455.2,478.3 L455.6,478.9 L456.0,479.1 L456.4,479.3 L456.8,478.4 L457.2,478.8 L457.6,477.9 L458.0,479.9 L458.4,478.5 L458.8,477.6 L459.2,478.6 L459.6,479.4 L460.0,479.7 L460.4,480.9 L460.8,481.5 L461.2,481.3 L461.6,481.0 L462.0,480.4 L462.4,481.2 L462.8,481.8 L463.2,481.5 L463.6,480.4 L464.0,481.1 L464.4,480.7 L464.8,481.4 L465.2,481.2 L465.6,480.8 L466.0,482.2 L466.4,483.2 L466.8,482.1 L467.2,481.8 L467.6,482.2 L468.0,483.1 L468.4,483.6 L468.8,483.3 L469.2,482.5 L469.6,484.5 L470.0,484.7 L470.4,483.9 L470.8,483.3 L471.2,484.4 L471.6,484.4 L472.0,484.8 L472.4,484.9 L472.8,484.6 L473.2,484.5 L473.6,485.4 L474.0,485.3 L474.4,487.5 L474.8,487.3 L475.2,487.3 L475.6,485.9 L476.0,486.7 L476.4,487.8 L476.8,487.9 L477.2,487.0 L477.6,487.8 L478.0,487.6 L478.4,487.1 L478.8,486.9 L479.2,485.1 L479.6,485.8 L480.0,487.3 L480.4,486.3 L480.8,487.9 L481.2,487.3 L481.6,487.5 L482.0,485.8 L482.4,486.8 L482.8,486.6 L483.2,487.9 L483.6,488.5 L484.0,489.5 L484.4,489.5 L484.8,488.6 L485.2,489.5 L485.6,488.8 L486.0,488.7 L486.4,489.9 L486.8,488.8 L487.2,490.8 L487.6,490.0 L488.0,491.6 L488.4,491.7 L488.8,490.3 L489.2,491.6 L489.6,491.4 L490.0,491.6 L490.4,491.1 L490.8,490.6 L491.2,490.4 L491.6,492.1 L492.0,490.1 L492.4,492.0 L492.8,490.6 L493.2,490.4 L493.6,490.8 L494.0,490.7 L494.4,491.4 L494.8,491.4 L495.2,491.6 L495.6,491.5 L496.0,490.7 L496.4,492.0 L496.8,492.3 L496.8,497.9 L496.4,498.3 L496.0,498.0 L495.6,498.5 L495.2,498.0 L494.8,498.5 L494.4,497.8 L494.0,497.4 L493.6,496.7 L493.2,497.2 L492.8,497.3 L492.4,498.9 L492.0,497.6 L491.6,497.8 L491.2,497.6 L490.8,497.0 L490.4,497.6 L490.0,499.1 L489.6,498.2 L489.2,497.9 L488.8,497.9 L488.4,497.6 L488.0,497.3 L487.6,497.5 L487.2,496.7 L486.8,497.2 L486.4,497.3 L486.0,495.8 L485.6,495.7 L485.2,495.6 L484.8,495.5 L484.4,496.6 L484.0,495.9 L483.6,495.9 L483.2,494.7 L482.8,493.1 L482.4,493.3 L482.0,494.5 L481.6,494.3 L481.2,495.2 L480.8,494.0 L480.4,493.8 L480.0,493.5 L479.6,492.4 L479.2,492.0 L478.8,493.9 L478.4,493.1 L478.0,494.5 L477.6,493.7 L477.2,494.0 L476.8,493.9 L476.4,494.0 L476.0,493.8 L475.6,493.9 L475.2,493.8 L474.8,493.7 L474.4,493.8 L474.0,491.1 L473.6,491.5 L473.2,491.2 L472.8,491.1 L472.4,491.3 L472.0,491.6 L471.6,490.4 L471.2,491.0 L470.8,490.9 L470.4,490.9 L470.0,491.3 L469.6,490.8 L469.2,490.8 L468.8,490.3 L468.4,489.9 L468.0,490.3 L467.6,490.2 L467.2,489.6 L466.8,488.7 L466.4,489.1 L466.0,489.4 L465.6,488.8 L465.2,488.9 L464.8,487.2 L464.4,488.0 L464.0,487.6 L463.6,487.0 L463.2,487.3 L462.8,487.3 L462.4,487.0 L462.0,487.3 L461.6,486.7 L461.2,487.5 L460.8,487.9 L460.4,486.9 L460.0,486.9 L459.6,485.9 L459.2,485.5 L458.8,484.6 L458.4,486.3 L458.0,486.6 L457.6,487.1 L457.2,485.1 L456.8,485.4 L456.4,485.0 L456.0,485.1 L455.6,484.7 L455.2,484.4 L454.8,484.4 L454.4,483.3 L454.0,482.9 L453.6,483.3 L453.2,482.0 L452.8,482.5 L452.4,483.8 L452.0,482.8 L451.6,484.0 L451.2,484.6 L450.8,484.8 L450.4,486.2 L450.0,487.4 L449.6,487.8 L449.2,490.5 L448.8,491.7 L448.4,493.6 L448.0,494.0 L447.6,494.4 L447.2,494.2 L446.8,493.7 L446.4,495.0 L446.0,495.4 L445.6,494.0 L445.2,494.4 L444.8,494.1 L444.4,492.6 L444.0,493.1 L443.6,491.9 L443.2,492.0 L442.8,493.1 L442.4,493.4 L442.0,493.4 L441.6,491.8 L441.2,492.5 L440.8,492.8 L440.4,491.5 L440.0,491.6 L439.6,490.0 L439.2,490.1 L438.8,490.4 L438.4,490.7 L438.0,490.9 L437.6,490.2 L437.2,491.1 L436.8,491.4 L436.4,490.9 L436.0,492.7 L435.6,491.8 L435.2,492.0 L434.8,490.4 L434.4,490.9 L434.0,489.7 L433.6,489.9 L433.2,489.7 L432.8,492.4 L432.4,490.7 L432.0,490.3 L431.6,490.1 L431.2,489.4 L430.8,489.0 L430.4,489.7 L430.0,489.1 L429.6,488.8 L429.2,488.5 L428.8,490.3 L428.4,488.8 L428.0,488.8 L427.6,487.6 L427.2,488.3 L426.8,486.7 L426.4,487.7 L426.0,487.1 L425.6,487.0 L425.2,487.7 L424.8,487.6 L424.4,487.5 L424.0,487.1 L423.6,486.7 L423.2,487.1 L422.8,487.0 L422.4,487.0 L422.0,488.1 L421.6,487.1 L421.2,486.3 L420.8,486.8 L420.4,486.3 L420.0,487.1 L419.6,486.1 L419.2,485.7 L418.8,486.5 L418.4,487.3 L418.0,486.1 L417.6,484.9 L417.2,484.6 L416.8,484.8 L416.4,485.1 L416.0,484.8 L415.6,484.8 L415.2,484.3 L414.8,484.1 L414.4,485.1 L414.0,483.9 L413.6,483.3 L413.2,483.9 L412.8,483.3 L412.4,483.1 L412.0,483.8 L411.6,484.0 L411.2,483.0 L410.8,483.7 L410.4,482.6 L410.0,482.9 L409.6,482.0 L409.2,482.1 L408.8,482.7 L408.4,482.6 L408.0,483.2 L407.6,481.3 L407.2,481.6 L406.8,481.0 L406.4,482.0 L406.0,481.8 L405.6,482.1 L405.2,480.8 L404.8,481.6 L404.4,480.4 Z" fill="#9ccf86"/>
<path d="M404.4,477.6 L404.8,477.9 L405.2,478.1 L405.6,478.4 L406.0,478.7 L406.4,478.6 L406.8,478.0 L407.2,478.3 L407.6,478.5 L408.0,479.1 L408.4,479.3 L408.8,479.6 L409.2,479.2 L409.6,479.3 L410.0,480.1 L410.4,479.9 L410.8,479.8 L411.2,479.9 L411.6,480.5 L412.0,480.8 L412.4,480.5 L412.8,480.3 L413.2,480.1 L413.6,480.2 L414.0,480.8 L414.4,480.6 L414.8,480.6 L415.2,481.2 L415.6,481.5 L416.0,481.9 L416.4,481.6 L416.8,481.6 L417.2,481.5 L417.6,481.7 L418.0,482.6 L418.4,482.8 L418.8,483.2 L419.2,482.9 L419.6,483.2 L420.0,483.5 L420.4,483.4 L420.8,483.6 L421.2,483.4 L421.6,484.2 L422.0,483.8 L422.4,484.3 L422.8,483.6 L423.2,484.0 L423.6,483.7 L424.0,483.5 L424.4,483.8 L424.8,484.2 L425.2,484.5 L425.6,483.8 L426.0,484.1 L426.4,484.2 L426.8,484.0 L427.2,484.6 L427.6,484.4 L428.0,485.9 L428.4,486.1 L428.8,486.8 L429.2,485.4 L429.6,485.6 L430.0,486.1 L430.4,486.4 L430.8,485.9 L431.2,486.6 L431.6,486.8 L432.0,487.3 L432.4,486.9 L432.8,487.1 L433.2,486.7 L433.6,486.7 L434.0,487.0 L434.4,487.3 L434.8,487.6 L435.2,488.6 L435.6,488.2 L436.0,488.3 L436.4,487.6 L436.8,488.0 L437.2,487.2 L437.6,487.2 L438.0,487.2 L438.4,487.3 L438.8,487.6 L439.2,487.2 L439.6,487.3 L440.0,487.2 L440.4,488.4 L440.8,488.7 L441.2,488.9 L441.6,488.8 L442.0,489.8 L442.4,489.7 L442.8,489.5 L443.2,488.9 L443.6,489.2 L444.0,489.7 L444.4,490.0 L444.8,491.3 L445.2,491.4 L445.6,491.4 L446.0,491.2 L446.4,490.8 L446.8,490.7 L447.2,490.5 L447.6,491.6 L448.0,491.0 L448.4,490.6 L448.8,488.4 L449.2,487.0 L449.6,484.8 L450.0,483.9 L450.4,482.4 L450.8,482.1 L451.2,480.7 L451.6,480.7 L452.0,480.1 L452.4,479.8 L452.8,479.8 L453.2,479.3 L453.6,479.7 L454.0,480.0 L454.4,480.7 L454.8,481.5 L455.2,481.7 L455.6,481.6 L456.0,481.8 L456.4,482.2 L456.8,481.8 L457.2,482.2 L457.6,483.0 L458.0,482.8 L458.4,482.9 L458.8,481.6 L459.2,482.2 L459.6,482.7 L460.0,483.7 L460.4,484.3 L460.8,484.3 L461.2,484.6 L461.6,483.9 L462.0,484.4 L462.4,484.3 L462.8,484.5 L463.2,484.2 L463.6,483.9 L464.0,484.2 L464.4,484.0 L464.8,484.3 L465.2,484.8 L465.6,485.5 L466.0,486.2 L466.4,486.4 L466.8,485.9 L467.2,485.7 L467.6,486.1 L468.0,486.6 L468.4,486.8 L468.8,487.3 L469.2,487.1 L469.6,487.2 L470.0,487.4 L470.4,487.3 L470.8,487.4 L471.2,487.4 L471.6,487.7 L472.0,488.1 L472.4,488.3 L472.8,488.5 L473.2,488.4 L473.6,488.5 L474.0,488.5 L474.4,490.1 L474.8,490.2 L475.2,490.3 L475.6,489.6 L476.0,490.1 L476.4,490.9 L476.8,490.8 L477.2,490.7 L477.6,490.7 L478.0,490.5 L478.4,490.0 L478.8,489.9 L479.2,489.2 L479.6,489.6 L480.0,490.0 L480.4,490.8 L480.8,491.0 L481.2,490.8 L481.6,490.7 L482.0,490.5 L482.4,490.4 L482.8,490.1 L483.2,490.8 L483.6,491.8 L484.0,492.6 L484.4,492.7 L484.8,492.2 L485.2,492.8 L485.6,492.3 L486.0,493.0 L486.4,493.3 L486.8,493.3 L487.2,493.5 L487.6,494.1 L488.0,494.6 L488.4,494.8 L488.8,494.5 L489.2,494.6 L489.6,495.2 L490.0,495.3 L490.4,494.5 L490.8,494.2 L491.2,493.8 L491.6,495.0 L492.0,494.7 L492.4,494.9 L492.8,494.5 L493.2,493.9 L493.6,493.6 L494.0,494.3 L494.4,494.9 L494.8,495.0 L495.2,495.1 L495.6,495.1 L496.0,494.9 L496.4,495.1 L496.8,495.3" fill="none" stroke="#3a7a2a" stroke-width="1.5" stroke-linejoin="round"/>
<path d="M404.4,517.1 L404.8,516.9 L405.2,517.4 L405.6,517.3 L406.0,517.7 L406.4,517.4 L406.8,517.1 L407.2,516.7 L407.6,516.2 L408.0,516.4 L408.4,516.2 L408.8,515.8 L409.2,515.7 L409.6,515.1 L410.0,515.6 L410.4,514.5 L410.8,515.1 L411.2,515.6 L411.6,515.9 L412.0,515.8 L412.4,514.5 L412.8,514.0 L413.2,512.8 L413.6,514.0 L414.0,515.1 L414.4,514.3 L414.8,513.5 L415.2,514.3 L415.6,514.1 L416.0,513.5 L416.4,512.5 L416.8,513.1 L417.2,513.2 L417.6,513.2 L418.0,512.5 L418.4,512.8 L418.8,514.3 L419.2,515.0 L419.6,514.3 L420.0,514.7 L420.4,513.6 L420.8,514.2 L421.2,514.5 L421.6,513.4 L422.0,513.7 L422.4,512.4 L422.8,514.1 L423.2,515.1 L423.6,514.8 L424.0,515.7 L424.4,513.9 L424.8,514.6 L425.2,516.3 L425.6,515.9 L426.0,516.3 L426.4,515.5 L426.8,513.9 L427.2,515.6 L427.6,517.1 L428.0,516.4 L428.4,514.7 L428.8,515.7 L429.2,515.4 L429.6,516.3 L430.0,516.2 L430.4,517.0 L430.8,516.2 L431.2,517.2 L431.6,517.0 L432.0,517.8 L432.4,518.2 L432.8,519.0 L433.2,519.4 L433.6,519.0 L434.0,518.6 L434.4,518.0 L434.8,518.4 L435.2,519.6 L435.6,520.2 L436.0,520.4 L436.4,521.6 L436.8,521.1 L437.2,521.3 L437.6,521.0 L438.0,520.8 L438.4,519.7 L438.8,519.3 L439.2,521.2 L439.6,521.7 L440.0,523.5 L440.4,522.5 L440.8,522.5 L441.2,523.6 L441.6,522.7 L442.0,523.9 L442.4,524.2 L442.8,524.7 L443.2,525.0 L443.6,526.3 L444.0,527.4 L444.4,527.4 L444.8,528.9 L445.2,528.1 L445.6,527.6 L446.0,528.4 L446.4,528.9 L446.8,528.9 L447.2,528.3 L447.6,529.1 L448.0,529.2 L448.4,529.8 L448.8,529.7 L449.2,531.7 L449.6,530.8 L450.0,531.5 L450.4,531.4 L450.8,531.4 L451.2,532.5 L451.6,533.6 L452.0,532.6 L452.4,533.9 L452.8,535.0 L453.2,536.0 L453.6,534.8 L454.0,535.9 L454.4,536.2 L454.8,535.6 L455.2,537.1 L455.6,537.1 L456.0,538.6 L456.4,539.1 L456.8,538.5 L457.2,539.0 L457.6,538.8 L458.0,539.9 L458.4,538.4 L458.8,541.0 L459.2,540.1 L459.6,540.7 L460.0,540.7 L460.4,540.3 L460.8,540.0 L461.2,539.8 L461.6,540.7 L462.0,541.0 L462.4,540.6 L462.8,540.2 L463.2,541.1 L463.6,540.9 L464.0,541.4 L464.4,539.8 L464.8,540.2 L465.2,541.5 L465.6,541.3 L466.0,541.8 L466.4,541.4 L466.8,540.3 L467.2,541.3 L467.6,541.1 L468.0,540.5 L468.4,541.7 L468.8,541.3 L469.2,542.2 L469.6,539.8 L470.0,541.8 L470.4,541.4 L470.8,540.8 L471.2,541.7 L471.6,542.4 L472.0,541.6 L472.4,542.3 L472.8,540.7 L473.2,542.7 L473.6,542.2 L474.0,542.8 L474.4,541.6 L474.8,541.9 L475.2,542.6 L475.6,543.1 L476.0,541.7 L476.4,540.4 L476.8,542.6 L477.2,542.4 L477.6,542.2 L478.0,541.5 L478.4,541.9 L478.8,541.6 L479.2,541.7 L479.6,542.1 L480.0,541.8 L480.4,541.9 L480.8,542.4 L481.2,542.6 L481.6,541.9 L482.0,542.3 L482.4,543.0 L482.8,542.9 L483.2,543.7 L483.6,541.8 L484.0,542.7 L484.4,542.7 L484.8,543.3 L485.2,542.6 L485.6,542.0 L486.0,542.5 L486.4,542.1 L486.8,541.2 L487.2,540.4 L487.6,541.2 L488.0,541.3 L488.4,540.0 L488.8,540.4 L489.2,541.7 L489.6,541.8 L490.0,540.8 L490.4,540.3 L490.8,540.4 L491.2,542.8 L491.6,541.3 L492.0,541.1 L492.4,541.2 L492.8,541.6 L493.2,542.2 L493.6,542.2 L494.0,542.1 L494.4,542.6 L494.8,542.4 L495.2,541.9 L495.6,541.4 L496.0,542.2 L496.4,542.4 L496.8,541.8 L496.8,547.7 L496.4,547.8 L496.0,548.3 L495.6,547.7 L495.2,548.5 L494.8,549.4 L494.4,548.3 L494.0,548.9 L493.6,549.5 L493.2,547.9 L492.8,548.4 L492.4,548.6 L492.0,547.4 L491.6,547.8 L491.2,550.2 L490.8,548.2 L490.4,547.5 L490.0,548.5 L489.6,547.4 L489.2,547.4 L488.8,547.7 L488.4,547.7 L488.0,548.1 L487.6,548.0 L487.2,548.1 L486.8,547.5 L486.4,547.9 L486.0,548.5 L485.6,549.1 L485.2,550.5 L484.8,549.2 L484.4,549.8 L484.0,549.1 L483.6,550.2 L483.2,550.0 L482.8,549.1 L482.4,549.1 L482.0,549.2 L481.6,548.9 L481.2,548.6 L480.8,550.7 L480.4,547.8 L480.0,548.2 L479.6,548.6 L479.2,548.3 L478.8,547.6 L478.4,547.8 L478.0,548.1 L477.6,548.9 L477.2,548.4 L476.8,548.3 L476.4,548.7 L476.0,549.4 L475.6,549.6 L475.2,549.1 L474.8,550.3 L474.4,548.7 L474.0,550.1 L473.6,548.1 L473.2,548.1 L472.8,547.8 L472.4,548.1 L472.0,548.1 L471.6,548.3 L471.2,547.8 L470.8,547.9 L470.4,547.3 L470.0,548.0 L469.6,546.9 L469.2,547.8 L468.8,547.2 L468.4,547.9 L468.0,547.4 L467.6,547.1 L467.2,547.7 L466.8,548.4 L466.4,549.4 L466.0,548.9 L465.6,548.1 L465.2,547.2 L464.8,546.1 L464.4,547.3 L464.0,547.6 L463.6,547.7 L463.2,547.2 L462.8,546.8 L462.4,546.4 L462.0,547.8 L461.6,546.9 L461.2,547.2 L460.8,547.0 L460.4,546.4 L460.0,547.4 L459.6,547.7 L459.2,546.6 L458.8,547.7 L458.4,546.6 L458.0,546.6 L457.6,545.8 L457.2,546.2 L456.8,546.5 L456.4,544.9 L456.0,544.6 L455.6,544.8 L455.2,543.6 L454.8,542.5 L454.4,543.3 L454.0,542.2 L453.6,542.2 L453.2,542.6 L452.8,540.6 L452.4,540.3 L452.0,538.6 L451.6,539.8 L451.2,539.2 L450.8,540.1 L450.4,538.7 L450.0,537.5 L449.6,537.5 L449.2,538.0 L448.8,537.9 L448.4,536.6 L448.0,536.3 L447.6,535.1 L447.2,535.2 L446.8,535.9 L446.4,535.0 L446.0,534.2 L445.6,534.0 L445.2,534.4 L444.8,535.0 L444.4,535.0 L444.0,534.8 L443.6,532.8 L443.2,532.6 L442.8,531.3 L442.4,531.6 L442.0,530.6 L441.6,530.7 L441.2,529.6 L440.8,529.7 L440.4,529.9 L440.0,529.9 L439.6,529.6 L439.2,527.3 L438.8,527.9 L438.4,526.5 L438.0,527.3 L437.6,526.8 L437.2,527.0 L436.8,527.1 L436.4,527.9 L436.0,526.9 L435.6,528.5 L435.2,525.9 L434.8,525.3 L434.4,525.4 L434.0,525.2 L433.6,525.2 L433.2,525.7 L432.8,524.5 L432.4,524.7 L432.0,523.8 L431.6,523.5 L431.2,523.0 L430.8,523.5 L430.4,522.9 L430.0,522.1 L429.6,523.6 L429.2,522.8 L428.8,523.3 L428.4,522.5 L428.0,524.9 L427.6,523.7 L427.2,522.8 L426.8,521.8 L426.4,521.9 L426.0,522.6 L425.6,522.2 L425.2,522.4 L424.8,520.8 L424.4,523.2 L424.0,521.5 L423.6,522.0 L423.2,520.8 L422.8,521.0 L422.4,521.3 L422.0,519.3 L421.6,521.2 L421.2,520.7 L420.8,519.7 L420.4,521.6 L420.0,520.4 L419.6,520.8 L419.2,520.5 L418.8,520.7 L418.4,520.2 L418.0,519.1 L417.6,519.6 L417.2,519.5 L416.8,520.0 L416.4,520.7 L416.0,519.9 L415.6,520.4 L415.2,521.0 L414.8,521.4 L414.4,520.9 L414.0,521.3 L413.6,520.8 L413.2,520.5 L412.8,520.1 L412.4,521.9 L412.0,521.4 L411.6,522.4 L411.2,521.5 L410.8,523.4 L410.4,520.8 L410.0,522.1 L409.6,522.7 L409.2,522.3 L408.8,521.6 L408.4,524.4 L408.0,523.9 L407.6,523.5 L407.2,523.7 L406.8,524.8 L406.4,523.5 L406.0,523.5 L405.6,523.4 L405.2,523.1 L404.8,524.4 L404.4,523.2 Z" fill="#9ccf86"/>
<path d="M404.4,520.2 L404.8,520.1 L405.2,520.2 L405.6,520.5 L406.0,520.5 L406.4,520.2 L406.8,520.5 L407.2,520.1 L407.6,520.0 L408.0,519.6 L408.4,519.5 L408.8,518.6 L409.2,518.5 L409.6,518.6 L410.0,518.5 L410.4,517.9 L410.8,518.4 L411.2,518.8 L411.6,518.8 L412.0,518.5 L412.4,518.5 L412.8,517.4 L413.2,517.0 L413.6,517.7 L414.0,517.8 L414.4,517.5 L414.8,517.2 L415.2,517.0 L415.6,517.4 L416.0,516.9 L416.4,516.9 L416.8,517.0 L417.2,516.6 L417.6,516.1 L418.0,515.9 L418.4,516.2 L418.8,517.0 L419.2,517.8 L419.6,517.9 L420.0,517.4 L420.4,517.3 L420.8,517.1 L421.2,517.6 L421.6,516.6 L422.0,516.6 L422.4,516.7 L422.8,517.4 L423.2,517.8 L423.6,518.7 L424.0,518.5 L424.4,518.6 L424.8,518.2 L425.2,519.0 L425.6,518.7 L426.0,519.0 L426.4,518.6 L426.8,518.7 L427.2,519.3 L427.6,519.7 L428.0,519.9 L428.4,518.9 L428.8,518.7 L429.2,518.7 L429.6,519.3 L430.0,519.4 L430.4,519.9 L430.8,520.0 L431.2,520.4 L431.6,520.7 L432.0,520.8 L432.4,521.5 L432.8,521.8 L433.2,522.6 L433.6,522.4 L434.0,522.0 L434.4,522.0 L434.8,522.6 L435.2,523.1 L435.6,523.8 L436.0,524.0 L436.4,524.5 L436.8,524.1 L437.2,524.2 L437.6,523.7 L438.0,523.7 L438.4,523.5 L438.8,524.1 L439.2,524.6 L439.6,525.6 L440.0,526.4 L440.4,526.1 L440.8,526.2 L441.2,526.7 L441.6,527.4 L442.0,527.5 L442.4,527.8 L442.8,527.9 L443.2,528.2 L443.6,529.7 L444.0,531.1 L444.4,532.2 L444.8,531.5 L445.2,530.9 L445.6,531.0 L446.0,531.3 L446.4,532.1 L446.8,531.8 L447.2,532.3 L447.6,532.4 L448.0,532.9 L448.4,533.7 L448.8,534.2 L449.2,534.5 L449.6,533.8 L450.0,534.2 L450.4,534.6 L450.8,535.6 L451.2,535.8 L451.6,536.4 L452.0,536.0 L452.4,537.2 L452.8,537.7 L453.2,539.0 L453.6,539.4 L454.0,539.5 L454.4,539.7 L454.8,539.5 L455.2,539.9 L455.6,540.6 L456.0,541.5 L456.4,542.0 L456.8,542.4 L457.2,542.7 L457.6,543.1 L458.0,543.1 L458.4,543.5 L458.8,544.3 L459.2,543.9 L459.6,543.7 L460.0,544.4 L460.4,543.6 L460.8,543.9 L461.2,543.5 L461.6,544.3 L462.0,544.1 L462.4,543.6 L462.8,543.9 L463.2,544.2 L463.6,544.6 L464.0,544.0 L464.4,543.5 L464.8,543.1 L465.2,544.5 L465.6,544.9 L466.0,545.3 L466.4,545.0 L466.8,544.8 L467.2,544.3 L467.6,544.1 L468.0,543.8 L468.4,544.5 L468.8,544.6 L469.2,544.9 L469.6,544.1 L470.0,544.8 L470.4,544.3 L470.8,545.0 L471.2,544.7 L471.6,545.1 L472.0,544.6 L472.4,545.0 L472.8,544.9 L473.2,545.4 L473.6,545.2 L474.0,545.9 L474.4,545.8 L474.8,546.3 L475.2,546.4 L475.6,545.9 L476.0,545.2 L476.4,545.4 L476.8,545.5 L477.2,545.4 L477.6,545.4 L478.0,545.0 L478.4,544.6 L478.8,544.6 L479.2,545.1 L479.6,545.3 L480.0,544.5 L480.4,544.8 L480.8,545.0 L481.2,545.7 L481.6,545.6 L482.0,545.8 L482.4,546.0 L482.8,546.4 L483.2,546.4 L483.6,546.3 L484.0,545.4 L484.4,546.0 L484.8,546.0 L485.2,546.1 L485.6,545.6 L486.0,545.3 L486.4,545.1 L486.8,544.5 L487.2,544.5 L487.6,544.7 L488.0,545.1 L488.4,544.4 L488.8,544.1 L489.2,544.6 L489.6,544.7 L490.0,544.4 L490.4,544.2 L490.8,544.6 L491.2,545.4 L491.6,545.0 L492.0,544.8 L492.4,545.0 L492.8,544.7 L493.2,545.2 L493.6,544.9 L494.0,545.5 L494.4,545.4 L494.8,545.4 L495.2,545.0 L495.6,545.0 L496.0,545.1 L496.4,545.0 L496.8,545.1" fill="none" stroke="#3a7a2a" stroke-width="1.5" stroke-linejoin="round"/>
<path d="M404.4,569.8 L404.8,570.6 L405.2,569.5 L405.6,570.1 L406.0,570.3 L406.4,569.8 L406.8,570.5 L407.2,571.0 L407.6,571.1 L408.0,571.0 L408.4,570.7 L408.8,569.9 L409.2,569.7 L409.6,570.5 L410.0,571.1 L410.4,571.0 L410.8,570.7 L411.2,569.0 L411.6,569.1 L412.0,570.1 L412.4,569.4 L412.8,568.8 L413.2,568.1 L413.6,570.1 L414.0,568.7 L414.4,568.1 L414.8,569.5 L415.2,569.7 L415.6,571.0 L416.0,570.8 L416.4,570.6 L416.8,570.2 L417.2,569.7 L417.6,569.5 L418.0,569.6 L418.4,569.7 L418.8,569.1 L419.2,570.1 L419.6,567.9 L420.0,569.3 L420.4,569.5 L420.8,568.2 L421.2,567.9 L421.6,569.3 L422.0,568.8 L422.4,569.2 L422.8,569.5 L423.2,570.5 L423.6,569.3 L424.0,569.5 L424.4,568.3 L424.8,568.7 L425.2,568.8 L425.6,568.7 L426.0,568.0 L426.4,568.3 L426.8,568.1 L427.2,568.9 L427.6,569.2 L428.0,569.5 L428.4,570.4 L428.8,571.5 L429.2,570.1 L429.6,568.4 L430.0,569.2 L430.4,568.7 L430.8,568.4 L431.2,569.6 L431.6,569.1 L432.0,570.8 L432.4,570.3 L432.8,568.9 L433.2,569.8 L433.6,568.8 L434.0,568.1 L434.4,568.0 L434.8,568.3 L435.2,567.8 L435.6,567.4 L436.0,567.2 L436.4,569.0 L436.8,569.0 L437.2,569.1 L437.6,568.9 L438.0,569.2 L438.4,569.8 L438.8,569.1 L439.2,570.4 L439.6,569.4 L440.0,570.0 L440.4,568.4 L440.8,569.5 L441.2,569.0 L441.6,570.4 L442.0,569.9 L442.4,568.6 L442.8,569.6 L443.2,568.7 L443.6,568.7 L444.0,569.2 L444.4,569.4 L444.8,569.0 L445.2,569.6 L445.6,569.9 L446.0,569.5 L446.4,570.1 L446.8,569.6 L447.2,571.1 L447.6,570.2 L448.0,569.7 L448.4,570.4 L448.8,571.4 L449.2,570.8 L449.6,570.8 L450.0,573.5 L450.4,573.3 L450.8,572.6 L451.2,572.1 L451.6,571.3 L452.0,572.6 L452.4,573.6 L452.8,575.1 L453.2,576.1 L453.6,576.1 L454.0,575.2 L454.4,575.1 L454.8,574.5 L455.2,574.3 L455.6,573.4 L456.0,572.7 L456.4,571.7 L456.8,571.8 L457.2,571.5 L457.6,571.1 L458.0,570.0 L458.4,570.5 L458.8,570.4 L459.2,569.4 L459.6,569.6 L460.0,567.6 L460.4,567.5 L460.8,567.3 L461.2,567.8 L461.6,567.4 L462.0,567.3 L462.4,565.3 L462.8,566.4 L463.2,566.7 L463.6,567.4 L464.0,567.4 L464.4,566.2 L464.8,567.1 L465.2,565.5 L465.6,567.0 L466.0,565.2 L466.4,566.3 L466.8,566.9 L467.2,566.3 L467.6,566.7 L468.0,566.1 L468.4,565.4 L468.8,565.6 L469.2,565.2 L469.6,565.4 L470.0,566.1 L470.4,565.5 L470.8,563.4 L471.2,563.3 L471.6,564.3 L472.0,564.5 L472.4,565.1 L472.8,564.9 L473.2,565.4 L473.6,566.5 L474.0,564.8 L474.4,564.4 L474.8,563.9 L475.2,564.8 L475.6,563.6 L476.0,564.3 L476.4,563.7 L476.8,564.8 L477.2,564.5 L477.6,564.6 L478.0,563.7 L478.4,564.9 L478.8,563.5 L479.2,565.2 L479.6,564.6 L480.0,565.7 L480.4,565.5 L480.8,565.4 L481.2,566.1 L481.6,565.9 L482.0,565.6 L482.4,564.8 L482.8,564.0 L483.2,564.1 L483.6,565.6 L484.0,565.6 L484.4,565.5 L484.8,563.9 L485.2,565.2 L485.6,565.2 L486.0,565.4 L486.4,566.7 L486.8,566.3 L487.2,566.4 L487.6,566.6 L488.0,565.1 L488.4,566.7 L488.8,565.6 L489.2,566.9 L489.6,567.1 L490.0,566.2 L490.4,566.8 L490.8,566.4 L491.2,565.8 L491.6,565.7 L492.0,565.4 L492.4,565.7 L492.8,565.1 L493.2,565.2 L493.6,566.5 L494.0,565.5 L494.4,567.1 L494.8,564.3 L495.2,565.0 L495.6,565.8 L496.0,565.4 L496.4,566.2 L496.8,564.5 L496.8,572.9 L496.4,571.8 L496.0,572.0 L495.6,572.1 L495.2,572.5 L494.8,572.3 L494.4,572.5 L494.0,571.7 L493.6,572.4 L493.2,571.3 L492.8,572.8 L492.4,572.5 L492.0,571.6 L491.6,571.9 L491.2,573.0 L490.8,572.2 L490.4,573.1 L490.0,573.5 L489.6,574.4 L489.2,572.6 L488.8,571.9 L488.4,573.0 L488.0,572.0 L487.6,572.1 L487.2,572.6 L486.8,573.7 L486.4,572.4 L486.0,572.3 L485.6,571.2 L485.2,571.1 L484.8,571.8 L484.4,571.7 L484.0,571.6 L483.6,572.3 L483.2,572.5 L482.8,571.8 L482.4,571.4 L482.0,571.7 L481.6,571.4 L481.2,572.1 L480.8,570.9 L480.4,571.9 L480.0,571.7 L479.6,571.8 L479.2,571.3 L478.8,571.2 L478.4,570.1 L478.0,570.5 L477.6,571.2 L477.2,571.5 L476.8,570.7 L476.4,570.6 L476.0,570.4 L475.6,571.9 L475.2,570.8 L474.8,570.6 L474.4,570.1 L474.0,571.6 L473.6,573.5 L473.2,571.8 L472.8,572.1 L472.4,571.1 L472.0,571.1 L471.6,571.2 L471.2,570.8 L470.8,571.8 L470.4,571.6 L470.0,572.1 L469.6,571.8 L469.2,571.4 L468.8,571.2 L468.4,573.6 L468.0,572.4 L467.6,573.2 L467.2,572.3 L466.8,574.5 L466.4,572.2 L466.0,573.4 L465.6,572.5 L465.2,573.4 L464.8,573.4 L464.4,573.5 L464.0,574.7 L463.6,573.5 L463.2,573.0 L462.8,572.5 L462.4,572.2 L462.0,573.6 L461.6,573.7 L461.2,574.0 L460.8,574.5 L460.4,574.0 L460.0,574.5 L459.6,576.7 L459.2,576.2 L458.8,576.0 L458.4,577.8 L458.0,577.0 L457.6,577.8 L457.2,578.6 L456.8,578.1 L456.4,579.0 L456.0,578.9 L455.6,579.2 L455.2,581.2 L454.8,580.2 L454.4,580.9 L454.0,581.9 L453.6,582.0 L453.2,581.8 L452.8,580.6 L452.4,580.9 L452.0,579.5 L451.6,578.8 L451.2,579.2 L450.8,579.3 L450.4,579.3 L450.0,581.2 L449.6,578.9 L449.2,577.8 L448.8,577.1 L448.4,578.2 L448.0,576.6 L447.6,576.8 L447.2,576.9 L446.8,577.2 L446.4,576.0 L446.0,575.5 L445.6,576.1 L445.2,575.9 L444.8,575.6 L444.4,575.4 L444.0,574.7 L443.6,575.2 L443.2,576.2 L442.8,575.5 L442.4,576.1 L442.0,577.3 L441.6,575.7 L441.2,575.9 L440.8,575.6 L440.4,574.6 L440.0,575.6 L439.6,575.8 L439.2,577.0 L438.8,575.8 L438.4,575.6 L438.0,577.7 L437.6,575.5 L437.2,575.0 L436.8,575.4 L436.4,575.6 L436.0,574.6 L435.6,574.5 L435.2,574.0 L434.8,574.9 L434.4,574.6 L434.0,575.6 L433.6,574.7 L433.2,575.4 L432.8,576.9 L432.4,578.0 L432.0,576.4 L431.6,577.5 L431.2,576.0 L430.8,576.0 L430.4,574.8 L430.0,574.8 L429.6,575.7 L429.2,577.0 L428.8,577.7 L428.4,576.9 L428.0,578.3 L427.6,577.2 L427.2,575.3 L426.8,574.7 L426.4,575.4 L426.0,575.1 L425.6,574.5 L425.2,574.4 L424.8,575.1 L424.4,574.4 L424.0,574.9 L423.6,575.9 L423.2,576.7 L422.8,574.9 L422.4,575.7 L422.0,575.1 L421.6,575.5 L421.2,575.8 L420.8,575.8 L420.4,576.1 L420.0,575.9 L419.6,577.8 L419.2,576.4 L418.8,576.0 L418.4,576.5 L418.0,576.7 L417.6,575.9 L417.2,576.2 L416.8,575.6 L416.4,576.7 L416.0,577.0 L415.6,576.9 L415.2,576.6 L414.8,575.5 L414.4,576.1 L414.0,575.4 L413.6,575.9 L413.2,575.5 L412.8,575.3 L412.4,575.9 L412.0,576.0 L411.6,576.3 L411.2,575.1 L410.8,577.1 L410.4,576.5 L410.0,577.4 L409.6,576.1 L409.2,577.3 L408.8,576.3 L408.4,577.5 L408.0,576.8 L407.6,577.8 L407.2,578.1 L406.8,576.5 L406.4,576.3 L406.0,576.5 L405.6,577.7 L405.2,577.4 L404.8,576.3 L404.4,577.8 Z" fill="#9ccf86"/>
<path d="M404.4,573.7 L404.8,573.4 L405.2,574.0 L405.6,573.4 L406.0,573.0 L406.4,572.8 L406.8,573.2 L407.2,573.7 L407.6,573.9 L408.0,573.9 L408.4,573.8 L408.8,573.4 L409.2,572.8 L409.6,573.1 L410.0,573.7 L410.4,573.6 L410.8,573.4 L411.2,572.4 L411.6,572.5 L412.0,572.9 L412.4,572.4 L412.8,572.2 L413.2,572.4 L413.6,573.2 L414.0,572.8 L414.4,572.3 L414.8,572.4 L415.2,573.7 L415.6,574.2 L416.0,573.7 L416.4,573.5 L416.8,572.9 L417.2,573.2 L417.6,572.8 L418.0,573.0 L418.4,573.7 L418.8,573.2 L419.2,573.0 L419.6,572.3 L420.0,572.5 L420.4,572.7 L420.8,572.4 L421.2,572.2 L421.6,572.3 L422.0,571.9 L422.4,572.2 L422.8,572.3 L423.2,573.1 L423.6,572.3 L424.0,572.1 L424.4,571.4 L424.8,572.1 L425.2,571.5 L425.6,571.6 L426.0,571.7 L426.4,571.6 L426.8,571.7 L427.2,572.4 L427.6,573.1 L428.0,573.9 L428.4,574.3 L428.8,574.3 L429.2,574.0 L429.6,572.7 L430.0,571.9 L430.4,572.0 L430.8,572.1 L431.2,573.0 L431.6,573.2 L432.0,573.4 L432.4,573.6 L432.8,572.8 L433.2,572.7 L433.6,571.7 L434.0,571.6 L434.4,571.7 L434.8,571.5 L435.2,571.0 L435.6,571.0 L436.0,571.9 L436.4,572.1 L436.8,571.8 L437.2,572.2 L437.6,572.4 L438.0,572.8 L438.4,572.6 L438.8,572.9 L439.2,573.0 L439.6,572.8 L440.0,572.6 L440.4,572.0 L440.8,572.2 L441.2,572.8 L441.6,573.0 L442.0,573.0 L442.4,572.5 L442.8,572.3 L443.2,572.0 L443.6,571.5 L444.0,571.9 L444.4,572.2 L444.8,572.9 L445.2,573.0 L445.6,573.0 L446.0,572.7 L446.4,572.9 L446.8,573.2 L447.2,573.7 L447.6,573.4 L448.0,573.7 L448.4,573.9 L448.8,574.3 L449.2,574.3 L449.6,575.2 L450.0,576.4 L450.4,576.7 L450.8,576.2 L451.2,576.0 L451.6,576.0 L452.0,576.2 L452.4,576.9 L452.8,577.9 L453.2,578.9 L453.6,579.0 L454.0,578.6 L454.4,578.0 L454.8,577.4 L455.2,577.3 L455.6,576.6 L456.0,576.2 L456.4,575.6 L456.8,575.5 L457.2,574.9 L457.6,574.8 L458.0,573.8 L458.4,573.2 L458.8,573.3 L459.2,573.4 L459.6,572.8 L460.0,571.7 L460.4,571.0 L460.8,571.4 L461.2,571.4 L461.6,571.1 L462.0,570.1 L462.4,569.3 L462.8,569.8 L463.2,569.8 L463.6,570.3 L464.0,570.8 L464.4,570.3 L464.8,570.5 L465.2,569.5 L465.6,569.7 L466.0,569.6 L466.4,569.5 L466.8,569.7 L467.2,569.1 L467.6,569.3 L468.0,569.2 L468.4,569.4 L468.8,568.5 L469.2,568.5 L469.6,568.6 L470.0,569.3 L470.4,568.6 L470.8,567.7 L471.2,567.1 L471.6,567.3 L472.0,567.8 L472.4,567.8 L472.8,568.5 L473.2,568.6 L473.6,569.1 L474.0,568.5 L474.4,567.5 L474.8,567.2 L475.2,567.7 L475.6,567.4 L476.0,567.5 L476.4,566.8 L476.8,567.6 L477.2,567.7 L477.6,568.3 L478.0,567.4 L478.4,567.5 L478.8,567.4 L479.2,568.4 L479.6,568.7 L480.0,568.4 L480.4,568.8 L480.8,568.2 L481.2,568.8 L481.6,568.7 L482.0,568.3 L482.4,568.2 L482.8,568.6 L483.2,568.5 L483.6,568.3 L484.0,568.2 L484.4,568.4 L484.8,568.6 L485.2,568.5 L485.6,568.4 L486.0,568.9 L486.4,569.7 L486.8,570.1 L487.2,569.7 L487.6,569.4 L488.0,569.3 L488.4,569.5 L488.8,568.9 L489.2,569.9 L489.6,570.3 L490.0,570.3 L490.4,569.9 L490.8,569.3 L491.2,569.2 L491.6,568.5 L492.0,568.6 L492.4,568.7 L492.8,569.1 L493.2,568.5 L493.6,569.1 L494.0,568.6 L494.4,569.7 L494.8,569.2 L495.2,569.7 L495.6,568.8 L496.0,568.7 L496.4,569.1 L496.8,569.3" fill="none" stroke="#3a7a2a" stroke-width="1.5" stroke-linejoin="round"/>
<line x1="392.8" y1="532" x2="392.8" y2="558.2" stroke="#1a1a1a" stroke-width="1.3"/>
<text x="398.1" y="548.1" font-size="10.8" text-anchor="start" font-weight="normal" fill="#161616" stroke="#161616" stroke-width="0.22">0.2 ΔF/F</text>
<line x1="404.4" y1="591" x2="496.8" y2="591" stroke="#333" stroke-width="1.0"/>
<line x1="404.4" y1="587.5" x2="404.4" y2="591" stroke="#444" stroke-width="0.9"/>
<line x1="450.6" y1="587.5" x2="450.6" y2="591" stroke="#444" stroke-width="0.9"/>
<line x1="496.8" y1="587.5" x2="496.8" y2="591" stroke="#444" stroke-width="0.9"/>
<text x="404.4" y="601.5" font-size="10.5" text-anchor="middle" font-weight="normal" fill="#161616" stroke="#161616" stroke-width="0.22">-1</text>
<text x="450.6" y="601.5" font-size="10.5" text-anchor="middle" font-weight="normal" fill="#161616" stroke="#161616" stroke-width="0.22">0</text>
<text x="496" y="601.5" font-size="10.5" text-anchor="middle" font-weight="normal" fill="#161616" stroke="#161616" stroke-width="0.22">1</text>
<text x="452" y="613.5" font-size="11" text-anchor="middle" font-weight="normal" fill="#161616" stroke="#161616" stroke-width="0.22">Time (min)</text>
<text x="507" y="444.5" font-size="14" text-anchor="start" font-weight="bold" fill="#111">L</text>
<line x1="558.7" y1="457.3" x2="558.7" y2="590.7" stroke="#8c8c8c" stroke-width="1"/>
<line x1="558.7" y1="457.3" x2="562" y2="457.3" stroke="#8c8c8c" stroke-width="1"/>
<text x="0" y="0" font-size="10.5" text-anchor="end" font-weight="normal" fill="#161616" stroke="#161616" stroke-width="0.08" transform="translate(555 461.1) scale(0.9 1)">0.1</text>
<line x1="558.7" y1="490.3" x2="562" y2="490.3" stroke="#8c8c8c" stroke-width="1"/>
<text x="0" y="0" font-size="10.5" text-anchor="end" font-weight="normal" fill="#161616" stroke="#161616" stroke-width="0.08" transform="translate(555 494.1) scale(0.9 1)">0</text>
<line x1="558.7" y1="523.3" x2="562" y2="523.3" stroke="#8c8c8c" stroke-width="1"/>
<text x="0" y="0" font-size="10.5" text-anchor="end" font-weight="normal" fill="#161616" stroke="#161616" stroke-width="0.08" transform="translate(555 527.0999999999999) scale(0.9 1)">-0.1</text>
<line x1="558.7" y1="557.2" x2="562" y2="557.2" stroke="#8c8c8c" stroke-width="1"/>
<text x="0" y="0" font-size="10.5" text-anchor="end" font-weight="normal" fill="#161616" stroke="#161616" stroke-width="0.08" transform="translate(555 561.0) scale(0.9 1)">-0.2</text>
<line x1="558.7" y1="590.7" x2="562" y2="590.7" stroke="#8c8c8c" stroke-width="1"/>
<text x="0" y="0" font-size="10.5" text-anchor="end" font-weight="normal" fill="#161616" stroke="#161616" stroke-width="0.08" transform="translate(555 594.5) scale(0.9 1)">-0.3</text>
<line x1="558.7" y1="590.7" x2="697" y2="590.7" stroke="#8c8c8c" stroke-width="1"/>
<line x1="581.6" y1="587.5" x2="581.6" y2="590.7" stroke="#8c8c8c" stroke-width="1"/>
<text x="581.6" y="601" font-size="10" text-anchor="middle" font-weight="normal" fill="#161616" stroke="#161616" stroke-width="0.22">-1</text>
<line x1="627.6" y1="587.5" x2="627.6" y2="590.7" stroke="#8c8c8c" stroke-width="1"/>
<text x="627.6" y="601" font-size="10" text-anchor="middle" font-weight="normal" fill="#161616" stroke="#161616" stroke-width="0.22">0</text>
<line x1="674.3" y1="587.5" x2="674.3" y2="590.7" stroke="#8c8c8c" stroke-width="1"/>
<text x="674.3" y="601" font-size="10" text-anchor="middle" font-weight="normal" fill="#161616" stroke="#161616" stroke-width="0.22">1</text>
<text x="627.5" y="613.5" font-size="11" text-anchor="middle" font-weight="normal" fill="#161616" stroke="#161616" stroke-width="0.22">Time (min)</text>
<text x="534" y="525" font-size="11.2" text-anchor="middle" font-weight="normal" fill="#161616" stroke="#161616" stroke-width="0.22" transform="rotate(-90 534 525)">490 nm ΔF/F (5 s averages)</text>
<line x1="581.6" y1="471" x2="581.6" y2="498" stroke="#555" stroke-width="0.9"/>
<line x1="579.0" y1="471" x2="584.2" y2="471" stroke="#555" stroke-width="0.9"/>
<line x1="579.0" y1="498" x2="584.2" y2="498" stroke="#555" stroke-width="0.9"/>
<line x1="627.6" y1="488" x2="627.6" y2="505" stroke="#555" stroke-width="0.9"/>
<line x1="625.0" y1="488" x2="630.2" y2="488" stroke="#555" stroke-width="0.9"/>
<line x1="625.0" y1="505" x2="630.2" y2="505" stroke="#555" stroke-width="0.9"/>
<line x1="627.6" y1="504" x2="627.6" y2="516" stroke="#555" stroke-width="0.9"/>
<line x1="625.0" y1="504" x2="630.2" y2="504" stroke="#555" stroke-width="0.9"/>
<line x1="625.0" y1="516" x2="630.2" y2="516" stroke="#555" stroke-width="0.9"/>
<line x1="627.6" y1="524" x2="627.6" y2="537" stroke="#555" stroke-width="0.9"/>
<line x1="625.0" y1="524" x2="630.2" y2="524" stroke="#555" stroke-width="0.9"/>
<line x1="625.0" y1="537" x2="630.2" y2="537" stroke="#555" stroke-width="0.9"/>
<line x1="674.3" y1="469" x2="674.3" y2="486" stroke="#555" stroke-width="0.9"/>
<line x1="671.6999999999999" y1="469" x2="676.9" y2="469" stroke="#555" stroke-width="0.9"/>
<line x1="671.6999999999999" y1="486" x2="676.9" y2="486" stroke="#555" stroke-width="0.9"/>
<line x1="674.3" y1="516" x2="674.3" y2="528" stroke="#555" stroke-width="0.9"/>
<line x1="671.6999999999999" y1="516" x2="676.9" y2="516" stroke="#555" stroke-width="0.9"/>
<line x1="671.6999999999999" y1="528" x2="676.9" y2="528" stroke="#555" stroke-width="0.9"/>
<line x1="674.3" y1="553" x2="674.3" y2="578" stroke="#555" stroke-width="0.9"/>
<line x1="671.6999999999999" y1="553" x2="676.9" y2="553" stroke="#555" stroke-width="0.9"/>
<line x1="671.6999999999999" y1="578" x2="676.9" y2="578" stroke="#555" stroke-width="0.9"/>
<path d="M581.6,480.3 L627.6,509.5 L674.3,521.0" fill="none" stroke="#a8a8a8" stroke-width="1.3"/>
<path d="M581.6,488.0 L627.6,530.5 L674.3,565.8" fill="none" stroke="#111" stroke-width="1.4"/>
<path d="M581.6,491.2 L627.6,496.9 L674.3,478.2" fill="none" stroke="#a0262c" stroke-width="1.4"/>
<line x1="680.6" y1="478.8" x2="680.6" y2="567.8" stroke="#444" stroke-width="1"/>
<text x="687.5" y="523.5" font-size="6.5" text-anchor="middle" font-weight="normal" fill="#444" stroke="#444" stroke-width="0.1" transform="rotate(-90 687.5 523.5)">§§§</text>
<text x="694" y="523.5" font-size="6.5" text-anchor="middle" font-weight="normal" fill="#444" stroke="#444" stroke-width="0.1" transform="rotate(-90 694 523.5)">¤¤¤</text>
<line x1="560.5" y1="546.0" x2="567" y2="546.0" stroke="#a8a8a8" stroke-width="1.2"/>
<text x="568.5" y="550.3" font-size="11" text-anchor="start" font-weight="normal" fill="#161616" stroke="#161616" stroke-width="0.22">Naive glucose</text>
<line x1="560.5" y1="561.2" x2="567" y2="561.2" stroke="#111" stroke-width="1.2"/>
<text x="568.5" y="565.5" font-size="11" text-anchor="start" font-weight="normal" fill="#161616" stroke="#161616" stroke-width="0.22">Habituated glucose</text>
<line x1="560.5" y1="576.7" x2="567" y2="576.7" stroke="#a0262c" stroke-width="1.2"/>
<text x="568.5" y="581" font-size="11" text-anchor="start" font-weight="normal" fill="#161616" stroke="#161616" stroke-width="0.22">Habituated EtOH</text>
<text x="0" y="636" font-size="14" text-anchor="start" font-weight="bold" fill="#111">M</text>
<path d="M63.4,696.4 C62,695 61,694.6 60.6,694.6 C56,694 52,694 48.7,694.1 C42,694.5 38,695.5 34.9,697.3 C29,700.5 25.5,704 23,708.3 C18.5,715 16.5,720 16.6,724.9 C16.8,731 17,735.5 18.4,739.5 C20,745 22.5,748 25.8,750.6 C28,752.8 30.5,754.6 33.1,755.6 C36,756.5 39,756.3 41.4,755.1 C44,753.8 45.5,752 45.9,750.6 C46.2,749.5 46.6,748.8 47,748.7" fill="none" stroke="#1a1a1a" stroke-width="0.75"/>
<path d="M 62.60 696.40 C 64.00 695.00 65.00 694.60 65.40 694.60 C 70.00 694.00 74.00 694.00 77.30 694.10 C 84.00 694.50 88.00 695.50 91.10 697.30 C 97.00 700.50 100.50 704.00 103.00 708.30 C 107.50 715.00 109.50 720.00 109.40 724.90 C 109.20 731.00 109.00 735.50 107.60 739.50 C 106.00 745.00 103.50 748.00 100.20 750.60 C 98.00 752.80 95.50 754.60 92.90 755.60 C 90.00 756.50 87.00 756.30 84.60 755.10 C 82.00 753.80 80.50 752.00 80.10 750.60 C 79.80 749.50 79.40 748.80 79.00 748.70" fill="none" stroke="#1a1a1a" stroke-width="0.75"/>
<path d="M33.1,723.5 C35,730 38,736 40.5,740 C43,744 46,748 49,751 C51,753.5 53,755.5 55.1,757 L63,757" fill="none" stroke="#1a1a1a" stroke-width="0.75"/>
<path d="M 92.90 723.50 C 91.00 730.00 88.00 736.00 85.50 740.00 C 83.00 744.00 80.00 748.00 77.00 751.00 C 75.00 753.50 73.00 755.50 70.90 757.00 L 63.00 757.00" fill="none" stroke="#1a1a1a" stroke-width="0.75"/>
<path d="M33.1,723 C32.5,725 33.5,729 35.5,732 C38,736 41.5,740.5 45,743.5 C46.5,745 48.5,744.8 48.7,742.3 C48.8,740 47,737.5 45,735 C42.5,732 40,729 38.6,727 C37.5,725 36.5,723.5 35.5,722.8 C34.5,722.3 33.5,722.4 33.1,723 Z" fill="none" stroke="#1a1a1a" stroke-width="0.75"/>
<path d="M 92.90 723.00 C 93.50 725.00 92.50 729.00 90.50 732.00 C 88.00 736.00 84.50 740.50 81.00 743.50 C 79.50 745.00 77.50 744.80 77.30 742.30 C 77.20 740.00 79.00 737.50 81.00 735.00 C 83.50 732.00 86.00 729.00 87.40 727.00 C 88.50 725.00 89.50 723.50 90.50 722.80 C 91.50 722.30 92.50 722.40 92.90 723.00 Z" fill="none" stroke="#1a1a1a" stroke-width="0.75"/>
<path d="M36,719 C35,713 37,709 41,706.5 C45,704.5 49,704.5 52,705.5 C56,707 59,709.5 62.5,712" fill="none" stroke="#1a1a1a" stroke-width="0.8"/>
<path d="M 90.00 719.00 C 91.00 713.00 89.00 709.00 85.00 706.50 C 81.00 704.50 77.00 704.50 74.00 705.50 C 70.00 707.00 67.00 709.50 63.50 712.00" fill="none" stroke="#1a1a1a" stroke-width="0.8"/>
<path d="M37.5,719.5 C37,715 39,711.5 42.5,709.5 C46,708 49.5,708.2 52.5,709.5 C55.5,711 58,712.5 62,714.5" fill="none" stroke="#1a1a1a" stroke-width="0.7"/>
<path d="M 88.50 719.50 C 89.00 715.00 87.00 711.50 83.50 709.50 C 80.00 708.00 76.50 708.20 73.50 709.50 C 70.50 711.00 68.00 712.50 64.00 714.50" fill="none" stroke="#1a1a1a" stroke-width="0.7"/>
<path d="M41,713 C44,711.5 48,711.5 51,712.5 C54,713.5 56.5,715 59,716.5" fill="none" stroke="#1a1a1a" stroke-width="1.6"/>
<path d="M 85.00 713.00 C 82.00 711.50 78.00 711.50 75.00 712.50 C 72.00 713.50 69.50 715.00 67.00 716.50" fill="none" stroke="#1a1a1a" stroke-width="1.6"/>
<path d="M38.5,721 C40,717.5 43,715.5 47,715 C51,714.7 55,716 58.5,718.5" fill="none" stroke="#1a1a1a" stroke-width="0.7"/>
<path d="M 87.50 721.00 C 86.00 717.50 83.00 715.50 79.00 715.00 C 75.00 714.70 71.00 716.00 67.50 718.50" fill="none" stroke="#1a1a1a" stroke-width="0.7"/>
<path d="M36.6,713 C35.6,716 35.7,718.5 37,721" fill="none" stroke="#1a1a1a" stroke-width="2.4"/>
<path d="M 89.40 713.00 C 90.40 716.00 90.30 718.50 89.00 721.00" fill="none" stroke="#1a1a1a" stroke-width="2.4"/>
<path d="M62.2,712.5 C61.6,716 61.8,719 62.4,722" fill="none" stroke="#1a1a1a" stroke-width="2.2"/>
<path d="M 63.80 712.50 C 64.40 716.00 64.20 719.00 63.60 722.00" fill="none" stroke="#1a1a1a" stroke-width="2.2"/>
<path d="M61.5,745 L63.4,745 L63.6,756 L60.5,756 Z" fill="#111"/>
<rect x="64.8" y="672.5" width="2.8" height="74" fill="#3a3a3a" stroke="none" stroke-width="1"/>
<path d="M65.5,672.5 L67,670.7 L77.8,670.7" fill="none" stroke="#333" stroke-width="0.9"/>
<rect x="64.5" y="746.5" width="3.6" height="9.5" fill="#a8d4f0" stroke="none" stroke-width="1"/>
<rect x="55.6" y="745" width="12.8" height="13.3" fill="none" stroke="#c45a5a" stroke-width="0.8"/>
<line x1="56.5" y1="762.5" x2="61.5" y2="754.2" stroke="#333" stroke-width="0.6"/>
<text x="61.5" y="771.5" font-size="10" text-anchor="middle" font-weight="normal" fill="#161616" stroke="#161616" stroke-width="0.22">ARC</text>
<line x1="68.4" y1="745" x2="113.2" y2="678.6" stroke="#b84a4a" stroke-width="0.8"/>
<line x1="68.4" y1="758.3" x2="113.2" y2="768.2" stroke="#b84a4a" stroke-width="0.8"/>
<defs>
<linearGradient id="gbg" x1="0" y1="0" x2="1" y2="0">
<stop offset="0" stop-color="#2f5c20"/><stop offset="0.3" stop-color="#213f16"/><stop offset="0.45" stop-color="#17290e"/>
<stop offset="0.7" stop-color="#1e3e14"/><stop offset="1" stop-color="#2c581c"/></linearGradient>
<linearGradient id="gbg2" x1="0" y1="0" x2="0" y2="1">
<stop offset="0" stop-color="#000" stop-opacity="0.25"/><stop offset="0.6" stop-color="#000" stop-opacity="0"/><stop offset="1" stop-color="#000" stop-opacity="0.15"/></linearGradient>
<radialGradient id="gblob" cx="0.5" cy="0.75" r="0.55"><stop offset="0" stop-color="#96e858"/><stop offset="0.35" stop-color="#6cc03a"/><stop offset="0.7" stop-color="#3c7a24" stop-opacity="0.6"/><stop offset="1" stop-color="#2c5a1c" stop-opacity="0"/></radialGradient>
<filter id="blur1"><feGaussianBlur stdDeviation="1.0"/></filter>
<filter id="blur2" x="-50%" y="-50%" width="200%" height="200%"><feGaussianBlur stdDeviation="2.0"/></filter><filter id="blur3" x="-50%" y="-50%" width="200%" height="200%"><feGaussianBlur stdDeviation="3.5"/></filter>
</defs>
<rect x="113.2" y="678.4" width="90.4" height="90" fill="url(#gbg)" stroke="none" stroke-width="1"/>
<rect x="113.2" y="678.4" width="90.4" height="90" fill="url(#gbg2)" stroke="none" stroke-width="1"/>
<g filter="url(#blur3)">
<path d="M113,757 C122,753 131,747 138,740 C142,736 145,732 148,729 L150,756 Z" fill="#3f8a26" opacity="0.35"/>
<path d="M203,758 C194,753 186,747 178,740 C173,736 169,732 166,729 L165,756 Z" fill="#3f8a26" opacity="0.35"/>
</g>
<g filter="url(#blur2)">
<path d="M120,757 C127,754 134,750 139,745 C143,741 146,737 147.5,734 L149.5,756 Z" fill="#6cc83a"/>
<path d="M195,758 C188,754 181,750 176,745 C172,741 169,737 167.5,734 L165.5,756 Z" fill="#6cc83a"/>
<path d="M132,756 C138,752 143,748 147,743 L149,756 Z" fill="#98ec58"/>
<path d="M184,756 C178,752 172,748 168,743 L166,756 Z" fill="#98ec58"/>
</g>
<path d="M151.3,678.4 L167.1,678.4 L167,745 C167,749 168.5,752 168,753.5 L146.5,753.5 C146,752 147.5,749 147.5,745 L151.3,700 Z" fill="#070a05" filter="url(#blur1)"/>
<path d="M113.2,756 C122,756.5 128,756.5 134,755.5 C140,754.5 144,756 148,755 L167,755 C172,756 177,754.5 183,755.5 C190,756.5 196,756.5 203.6,756 L203.6,768.4 L113.2,768.4 Z" fill="#060805"/>
<rect x="171" y="679.2" width="4.2" height="53.7" fill="none" stroke="#e8e8e8" stroke-width="0.7" stroke-dasharray="2,1.5"/>
<line x1="185.3" y1="765.2" x2="199" y2="765.2" stroke="#fff" stroke-width="1.3"/>
<rect x="113.2" y="658.2" width="90.4" height="15.2" fill="#fff" stroke="#444" stroke-width="0.9"/>
<text x="158.4" y="670.2" font-size="12" text-anchor="middle" font-weight="normal" fill="#72a64a" stroke="#72a64a" stroke-width="0.1">ChR2-eYFP</text>
<text x="221" y="636" font-size="14" text-anchor="start" font-weight="bold" fill="#111">N</text>
<line x1="261.3" y1="646.5" x2="261.3" y2="781.9" stroke="#8c8c8c" stroke-width="1"/>
<line x1="261.3" y1="646.5" x2="264.3" y2="646.5" stroke="#8c8c8c" stroke-width="1"/>
<text x="0" y="0" font-size="10.5" text-anchor="end" font-weight="normal" fill="#161616" stroke="#161616" stroke-width="0.08" transform="translate(258.1 650.3) scale(0.9 1)">1.4</text>
<line x1="261.3" y1="665.9" x2="264.3" y2="665.9" stroke="#8c8c8c" stroke-width="1"/>
<text x="0" y="0" font-size="10.5" text-anchor="end" font-weight="normal" fill="#161616" stroke="#161616" stroke-width="0.08" transform="translate(258.1 669.6999999999999) scale(0.9 1)">1.2</text>
<line x1="261.3" y1="685" x2="264.3" y2="685" stroke="#8c8c8c" stroke-width="1"/>
<text x="0" y="0" font-size="10.5" text-anchor="end" font-weight="normal" fill="#161616" stroke="#161616" stroke-width="0.08" transform="translate(258.1 688.8) scale(0.9 1)">1.0</text>
<line x1="261.3" y1="704.4" x2="264.3" y2="704.4" stroke="#8c8c8c" stroke-width="1"/>
<text x="0" y="0" font-size="10.5" text-anchor="end" font-weight="normal" fill="#161616" stroke="#161616" stroke-width="0.08" transform="translate(258.1 708.1999999999999) scale(0.9 1)">0.8</text>
<line x1="261.3" y1="724" x2="264.3" y2="724" stroke="#8c8c8c" stroke-width="1"/>
<text x="0" y="0" font-size="10.5" text-anchor="end" font-weight="normal" fill="#161616" stroke="#161616" stroke-width="0.08" transform="translate(258.1 727.8) scale(0.9 1)">0.6</text>
<line x1="261.3" y1="743.4" x2="264.3" y2="743.4" stroke="#8c8c8c" stroke-width="1"/>
<text x="0" y="0" font-size="10.5" text-anchor="end" font-weight="normal" fill="#161616" stroke="#161616" stroke-width="0.08" transform="translate(258.1 747.1999999999999) scale(0.9 1)">0.4</text>
<line x1="261.3" y1="762.8" x2="264.3" y2="762.8" stroke="#8c8c8c" stroke-width="1"/>
<text x="0" y="0" font-size="10.5" text-anchor="end" font-weight="normal" fill="#161616" stroke="#161616" stroke-width="0.08" transform="translate(258.1 766.5999999999999) scale(0.9 1)">0.2</text>
<line x1="261.3" y1="781.9" x2="264.3" y2="781.9" stroke="#8c8c8c" stroke-width="1"/>
<text x="0" y="0" font-size="10.5" text-anchor="end" font-weight="normal" fill="#161616" stroke="#161616" stroke-width="0.08" transform="translate(258.1 785.6999999999999) scale(0.9 1)">0</text>
<rect x="270.1" y="759.9" width="12.799999999999955" height="22.0" fill="#b5121b" stroke="#7a1010" stroke-width="0.5"/>
<line x1="276.5" y1="750.6" x2="276.5" y2="770.2" stroke="#333" stroke-width="0.9"/>
<line x1="273.7" y1="750.6" x2="279.3" y2="750.6" stroke="#333" stroke-width="0.9"/>
<line x1="273.7" y1="770.2" x2="279.3" y2="770.2" stroke="#333" stroke-width="0.9"/>
<rect x="290" y="765.4" width="12.5" height="16.5" fill="#b5121b" stroke="#7a1010" stroke-width="0.5"/>
<line x1="296.1" y1="756.2" x2="296.1" y2="775.3" stroke="#333" stroke-width="0.9"/>
<line x1="293.3" y1="756.2" x2="298.90000000000003" y2="756.2" stroke="#333" stroke-width="0.9"/>
<line x1="293.3" y1="775.3" x2="298.90000000000003" y2="775.3" stroke="#333" stroke-width="0.9"/>
<rect x="308.7" y="676.9" width="12.5" height="105.0" fill="#b5121b" stroke="#7a1010" stroke-width="0.5"/>
<line x1="314.8" y1="658.6" x2="314.8" y2="695.6" stroke="#333" stroke-width="0.9"/>
<line x1="312.0" y1="658.6" x2="317.6" y2="658.6" stroke="#333" stroke-width="0.9"/>
<line x1="312.0" y1="695.6" x2="317.6" y2="695.6" stroke="#333" stroke-width="0.9"/>
<line x1="261.3" y1="781.9" x2="332.9" y2="781.9" stroke="#8c8c8c" stroke-width="1"/>
<text x="237" y="714" font-size="11" text-anchor="middle" font-weight="normal" fill="#161616" stroke="#161616" stroke-width="0.22" transform="rotate(-90 237 714)">Intake (mL)</text>
<text x="279" y="790" font-size="10.5" text-anchor="end" font-weight="normal" fill="#161616" stroke="#161616" stroke-width="0.22" transform="rotate(-42 279 790)">Water</text>
<text x="300" y="790" font-size="10.5" text-anchor="end" font-weight="normal" fill="#161616" stroke="#161616" stroke-width="0.22" transform="rotate(-42 300 790)">EtOH</text>
<text x="322" y="790" font-size="10.5" text-anchor="end" font-weight="normal" fill="#161616" stroke="#161616" stroke-width="0.22" transform="rotate(-42 322 790)">Glucose</text>
<line x1="279.6" y1="640.8" x2="315.3" y2="640.8" stroke="#777" stroke-width="1.3"/>
<text x="299.8" y="641.8" font-size="10" text-anchor="middle" font-weight="normal" fill="#111" stroke="#111" stroke-width="0.2" letter-spacing="2.0">***</text>
<line x1="295.9" y1="652.5" x2="315.3" y2="652.5" stroke="#444" stroke-width="1"/>
<text x="307.3" y="654" font-size="10" text-anchor="middle" font-weight="normal" fill="#111" stroke="#111" stroke-width="0.2" letter-spacing="2.0">***</text>
<line x1="276.7" y1="741.8" x2="295.9" y2="741.8" stroke="#444" stroke-width="1"/>
<text x="287" y="738.5" font-size="9.5" text-anchor="middle" font-weight="normal" fill="#161616" stroke="#161616" stroke-width="0.22">ns</text>
<text x="349.2" y="636" font-size="14" text-anchor="start" font-weight="bold" fill="#111">O</text>
<line x1="386.8" y1="643.7" x2="386.8" y2="781.5" stroke="#8c8c8c" stroke-width="1"/>
<line x1="386.8" y1="643.7" x2="389.8" y2="643.7" stroke="#8c8c8c" stroke-width="1"/>
<text x="0" y="0" font-size="10.5" text-anchor="end" font-weight="normal" fill="#161616" stroke="#161616" stroke-width="0.08" transform="translate(383.6 647.5) scale(0.9 1)">0.4</text>
<line x1="386.8" y1="678" x2="389.8" y2="678" stroke="#8c8c8c" stroke-width="1"/>
<text x="0" y="0" font-size="10.5" text-anchor="end" font-weight="normal" fill="#161616" stroke="#161616" stroke-width="0.08" transform="translate(383.6 681.8) scale(0.9 1)">0.3</text>
<line x1="386.8" y1="712.6" x2="389.8" y2="712.6" stroke="#8c8c8c" stroke-width="1"/>
<text x="0" y="0" font-size="10.5" text-anchor="end" font-weight="normal" fill="#161616" stroke="#161616" stroke-width="0.08" transform="translate(383.6 716.4) scale(0.9 1)">0.2</text>
<line x1="386.8" y1="747.1" x2="389.8" y2="747.1" stroke="#8c8c8c" stroke-width="1"/>
<text x="0" y="0" font-size="10.5" text-anchor="end" font-weight="normal" fill="#161616" stroke="#161616" stroke-width="0.08" transform="translate(383.6 750.9) scale(0.9 1)">0.1</text>
<line x1="386.8" y1="781.5" x2="389.8" y2="781.5" stroke="#8c8c8c" stroke-width="1"/>
<text x="0" y="0" font-size="10.5" text-anchor="end" font-weight="normal" fill="#161616" stroke="#161616" stroke-width="0.08" transform="translate(383.6 785.3) scale(0.9 1)">0</text>
<rect x="400" y="748.2" width="12.600000000000023" height="33.299999999999955" fill="#b5121b" stroke="#7a1010" stroke-width="0.5"/>
<line x1="406.6" y1="728.6" x2="406.6" y2="767.6" stroke="#333" stroke-width="0.9"/>
<line x1="403.8" y1="728.6" x2="409.40000000000003" y2="728.6" stroke="#333" stroke-width="0.9"/>
<line x1="403.8" y1="767.6" x2="409.40000000000003" y2="767.6" stroke="#333" stroke-width="0.9"/>
<rect x="421.6" y="669.6" width="13.0" height="111.89999999999998" fill="#b5121b" stroke="#7a1010" stroke-width="0.5"/>
<line x1="428.2" y1="650.5" x2="428.2" y2="689" stroke="#333" stroke-width="0.9"/>
<line x1="425.4" y1="650.5" x2="431.0" y2="650.5" stroke="#333" stroke-width="0.9"/>
<line x1="425.4" y1="689" x2="431.0" y2="689" stroke="#333" stroke-width="0.9"/>
<line x1="386.8" y1="781.5" x2="448.9" y2="781.5" stroke="#8c8c8c" stroke-width="1"/>
<text x="364" y="711.5" font-size="11" text-anchor="middle" font-weight="normal" fill="#161616" stroke="#161616" stroke-width="0.22" transform="rotate(-90 364 711.5)">Intake (kcal)</text>
<text x="408.5" y="790" font-size="10.5" text-anchor="end" font-weight="normal" fill="#161616" stroke="#161616" stroke-width="0.22" transform="rotate(-42 408.5 790)">EtOH</text>
<text x="432" y="790" font-size="10.5" text-anchor="end" font-weight="normal" fill="#161616" stroke="#161616" stroke-width="0.22" transform="rotate(-42 432 790)">Glucose</text>
<line x1="406.6" y1="645" x2="428.2" y2="645" stroke="#666" stroke-width="1"/>
<text x="418.8" y="646.3" font-size="9.5" text-anchor="middle" font-weight="normal" fill="#111" stroke="#111" stroke-width="0.2" letter-spacing="2.0">**</text>
<text x="459.4" y="636" font-size="14" text-anchor="start" font-weight="bold" fill="#111">P</text>
<line x1="497" y1="645" x2="497" y2="781.9" stroke="#8c8c8c" stroke-width="1"/>
<line x1="497" y1="645" x2="500" y2="645" stroke="#8c8c8c" stroke-width="1"/>
<text x="0" y="0" font-size="10.5" text-anchor="end" font-weight="normal" fill="#161616" stroke="#161616" stroke-width="0.08" transform="translate(493.8 648.8) scale(0.9 1)">1.4</text>
<line x1="497" y1="664.1" x2="500" y2="664.1" stroke="#8c8c8c" stroke-width="1"/>
<text x="0" y="0" font-size="10.5" text-anchor="end" font-weight="normal" fill="#161616" stroke="#161616" stroke-width="0.08" transform="translate(493.8 667.9) scale(0.9 1)">1.2</text>
<line x1="497" y1="683.5" x2="500" y2="683.5" stroke="#8c8c8c" stroke-width="1"/>
<text x="0" y="0" font-size="10.5" text-anchor="end" font-weight="normal" fill="#161616" stroke="#161616" stroke-width="0.08" transform="translate(493.8 687.3) scale(0.9 1)">1.0</text>
<line x1="497" y1="703.1" x2="500" y2="703.1" stroke="#8c8c8c" stroke-width="1"/>
<text x="0" y="0" font-size="10.5" text-anchor="end" font-weight="normal" fill="#161616" stroke="#161616" stroke-width="0.08" transform="translate(493.8 706.9) scale(0.9 1)">0.8</text>
<line x1="497" y1="722.5" x2="500" y2="722.5" stroke="#8c8c8c" stroke-width="1"/>
<text x="0" y="0" font-size="10.5" text-anchor="end" font-weight="normal" fill="#161616" stroke="#161616" stroke-width="0.08" transform="translate(493.8 726.3) scale(0.9 1)">0.6</text>
<line x1="497" y1="741.8" x2="500" y2="741.8" stroke="#8c8c8c" stroke-width="1"/>
<text x="0" y="0" font-size="10.5" text-anchor="end" font-weight="normal" fill="#161616" stroke="#161616" stroke-width="0.08" transform="translate(493.8 745.5999999999999) scale(0.9 1)">0.4</text>
<line x1="497" y1="761.7" x2="500" y2="761.7" stroke="#8c8c8c" stroke-width="1"/>
<text x="0" y="0" font-size="10.5" text-anchor="end" font-weight="normal" fill="#161616" stroke="#161616" stroke-width="0.08" transform="translate(493.8 765.5) scale(0.9 1)">0.2</text>
<line x1="497" y1="781.9" x2="500" y2="781.9" stroke="#8c8c8c" stroke-width="1"/>
<text x="0" y="0" font-size="10.5" text-anchor="end" font-weight="normal" fill="#161616" stroke="#161616" stroke-width="0.08" transform="translate(493.8 785.6999999999999) scale(0.9 1)">0</text>
<rect x="512.2" y="675.6" width="13.199999999999932" height="106.29999999999995" fill="#b5121b" stroke="#7a1010" stroke-width="0.5"/>
<line x1="518.8" y1="655.8" x2="518.8" y2="696.5" stroke="#333" stroke-width="0.9"/>
<line x1="516.0" y1="655.8" x2="521.5999999999999" y2="655.8" stroke="#333" stroke-width="0.9"/>
<line x1="516.0" y1="696.5" x2="521.5999999999999" y2="696.5" stroke="#333" stroke-width="0.9"/>
<rect x="534.9" y="673.4" width="13.200000000000045" height="108.5" fill="#b5121b" stroke="#7a1010" stroke-width="0.5"/>
<line x1="541.5" y1="641" x2="541.5" y2="705.5" stroke="#333" stroke-width="0.9"/>
<line x1="538.7" y1="641" x2="544.3" y2="641" stroke="#333" stroke-width="0.9"/>
<line x1="538.7" y1="705.5" x2="544.3" y2="705.5" stroke="#333" stroke-width="0.9"/>
<line x1="497" y1="781.9" x2="563" y2="781.9" stroke="#8c8c8c" stroke-width="1"/>
<text x="476" y="714" font-size="11" text-anchor="middle" font-weight="normal" fill="#161616" stroke="#161616" stroke-width="0.22" transform="rotate(-90 476 714)">Intake (mL)</text>
<text x="520.5" y="791" font-size="10.5" text-anchor="end" font-weight="normal" fill="#161616" stroke="#161616" stroke-width="0.22" transform="rotate(-42 520.5 791)">Glucose</text>
<text x="546" y="789" font-size="10.5" text-anchor="end" font-weight="normal" fill="#161616" stroke="#161616" stroke-width="0.22" transform="rotate(-42 546 789)">Glucose+</text>
<text x="551" y="797.5" font-size="10.5" text-anchor="end" font-weight="normal" fill="#161616" stroke="#161616" stroke-width="0.22" transform="rotate(-42 551 797.5)">quinine</text>
<text x="580.8" y="636" font-size="14" text-anchor="start" font-weight="bold" fill="#111">Q</text>
<line x1="616.6" y1="645.4" x2="616.6" y2="778.6" stroke="#8c8c8c" stroke-width="1"/>
<line x1="616.6" y1="645.4" x2="619.6" y2="645.4" stroke="#8c8c8c" stroke-width="1"/>
<text x="0" y="0" font-size="10.5" text-anchor="end" font-weight="normal" fill="#161616" stroke="#161616" stroke-width="0.08" transform="translate(613.4 649.1999999999999) scale(0.9 1)">3.0</text>
<line x1="616.6" y1="689.4" x2="619.6" y2="689.4" stroke="#8c8c8c" stroke-width="1"/>
<text x="0" y="0" font-size="10.5" text-anchor="end" font-weight="normal" fill="#161616" stroke="#161616" stroke-width="0.08" transform="translate(613.4 693.1999999999999) scale(0.9 1)">2.0</text>
<line x1="616.6" y1="733.9" x2="619.6" y2="733.9" stroke="#8c8c8c" stroke-width="1"/>
<text x="0" y="0" font-size="10.5" text-anchor="end" font-weight="normal" fill="#161616" stroke="#161616" stroke-width="0.08" transform="translate(613.4 737.6999999999999) scale(0.9 1)">1.0</text>
<line x1="616.6" y1="778.6" x2="619.6" y2="778.6" stroke="#8c8c8c" stroke-width="1"/>
<text x="0" y="0" font-size="10.5" text-anchor="end" font-weight="normal" fill="#161616" stroke="#161616" stroke-width="0.08" transform="translate(613.4 782.4) scale(0.9 1)">0</text>
<rect x="632" y="652" width="13.700000000000045" height="126.60000000000002" fill="#b5121b" stroke="#7a1010" stroke-width="0.5"/>
<line x1="638.6" y1="634" x2="638.6" y2="672.3" stroke="#333" stroke-width="0.9"/>
<line x1="635.8000000000001" y1="634" x2="641.4" y2="634" stroke="#333" stroke-width="0.9"/>
<line x1="635.8000000000001" y1="672.3" x2="641.4" y2="672.3" stroke="#333" stroke-width="0.9"/>
<rect x="654.5" y="664.8" width="13.399999999999977" height="113.80000000000007" fill="#b5121b" stroke="#7a1010" stroke-width="0.5"/>
<line x1="661.3" y1="658.2" x2="661.3" y2="671.4" stroke="#333" stroke-width="0.9"/>
<line x1="658.5" y1="658.2" x2="664.0999999999999" y2="658.2" stroke="#333" stroke-width="0.9"/>
<line x1="658.5" y1="671.4" x2="664.0999999999999" y2="671.4" stroke="#333" stroke-width="0.9"/>
<line x1="616.6" y1="778.6" x2="682.2" y2="778.6" stroke="#8c8c8c" stroke-width="1"/>
<text x="593" y="711" font-size="11" text-anchor="middle" font-weight="normal" fill="#161616" stroke="#161616" stroke-width="0.22" transform="rotate(-90 593 711)">Intake (mL)</text>
<text x="646" y="788" font-size="10.5" text-anchor="end" font-weight="normal" fill="#161616" stroke="#161616" stroke-width="0.22" transform="rotate(-42 646 788)">Glucose</text>
<text x="668" y="786" font-size="10.5" text-anchor="end" font-weight="normal" fill="#161616" stroke="#161616" stroke-width="0.22" transform="rotate(-42 668 786)">Glucose+</text>
<text x="672" y="794.5" font-size="10.5" text-anchor="end" font-weight="normal" fill="#161616" stroke="#161616" stroke-width="0.22" transform="rotate(-42 672 794.5)">EtOH</text>
</svg></body></html>
